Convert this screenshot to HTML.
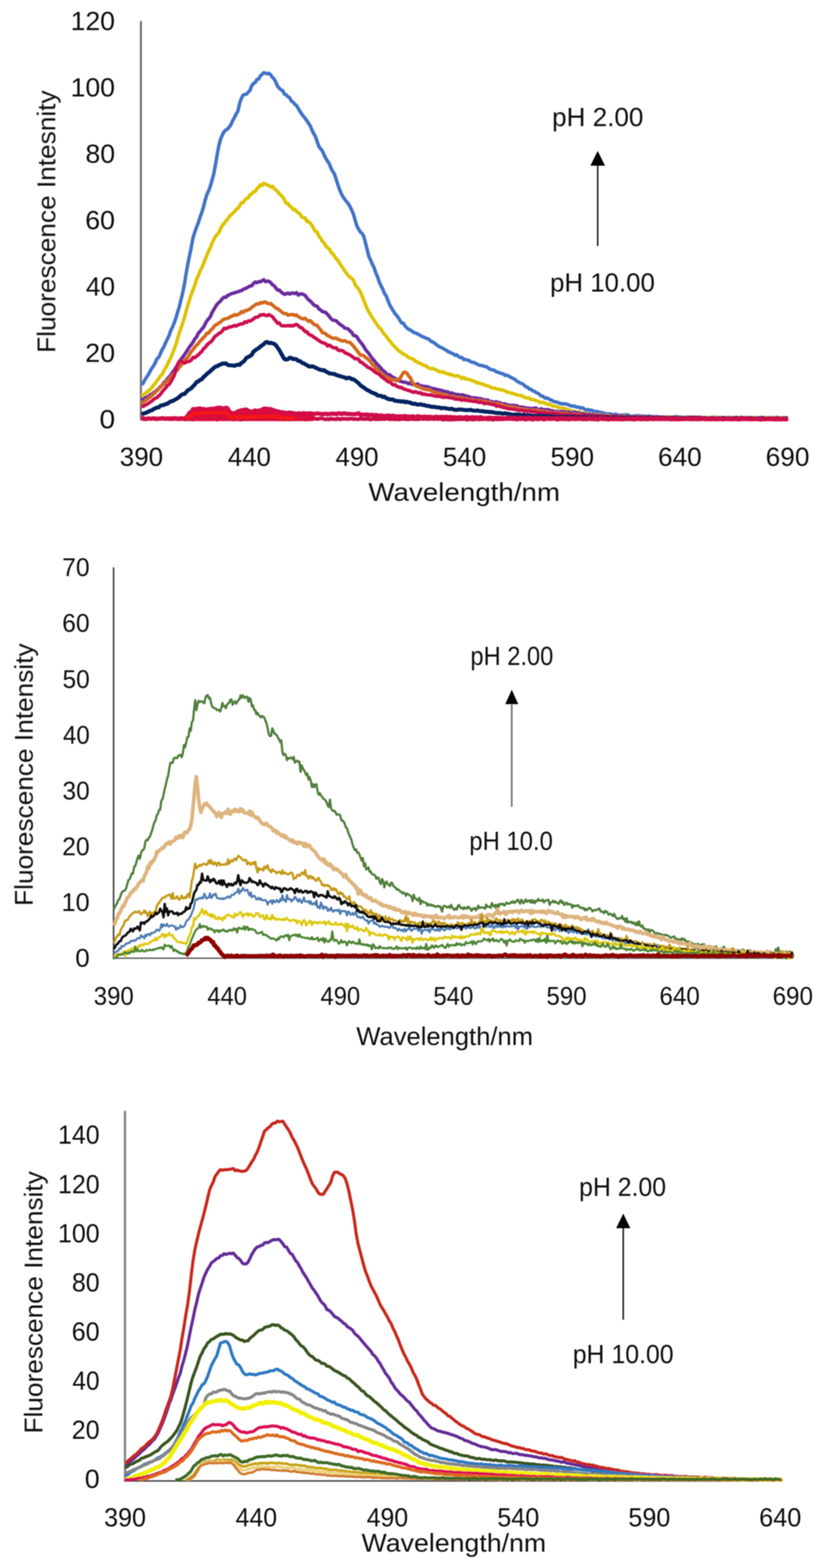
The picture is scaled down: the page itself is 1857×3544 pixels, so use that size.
<!DOCTYPE html><html><head><meta charset="utf-8"><title>Fluorescence spectra</title><style>html,body{margin:0;padding:0;background:#fff;}svg{display:block}text{font-family:"Liberation Sans",Arial,sans-serif;}</style></head><body>
<svg width="1857" height="3544" viewBox="0 0 1857 3544">
<defs><filter id="bl" x="0" y="0" width="100%" height="100%" filterUnits="userSpaceOnUse"><feGaussianBlur stdDeviation="0.9"/></filter></defs>
<rect width="1857" height="3544" fill="#fff"/>
<g filter="url(#bl)">
<line x1="318.3" y1="47.4" x2="318.3" y2="950.2" stroke="#6e6e6e" stroke-width="4.5"/>
<path d="M319.5,869.7 323.4,866.1 327.3,858.4 331.2,852.7 335.1,846.6 339.0,839.5 342.9,832.3 346.8,827.3 350.6,820.1 354.5,811.1 358.4,807.9 362.3,799.4 366.2,790.4 370.1,784.3 374.0,774.9 377.9,766.9 381.8,758.8 385.7,747.5 389.6,739.4 393.5,729.9 397.4,718.7 401.3,705.1 405.2,693.2 409.1,676.3 412.9,661.1 416.8,641.3 420.7,616.7 424.6,595.4 428.5,576.4 432.4,557.0 436.3,536.3 440.2,524.3 444.1,513.4 448.0,503.3 451.9,490.9 455.8,480.4 459.7,467.5 463.6,452.0 467.5,439.5 471.4,431.2 475.2,420.6 479.1,407.0 483.0,392.6 486.9,371.8 490.8,348.5 494.7,327.6 498.6,313.7 502.5,304.7 506.4,297.4 510.3,293.9 514.2,291.4 518.1,287.1 522.0,280.9 525.9,272.4 529.8,265.2 533.6,257.5 537.5,251.2 541.4,233.3 545.3,222.5 549.2,214.7 553.1,213.8 557.0,212.5 560.9,208.3 564.8,204.0 568.7,193.9 572.6,188.5 576.5,186.5 580.4,179.7 584.3,179.0 588.2,171.5 592.1,167.9 595.9,164.3 599.8,165.3 603.7,166.8 607.6,165.6 611.5,169.1 615.4,174.9 619.3,178.2 623.2,185.7 627.1,195.2 631.0,199.4 634.9,203.0 638.8,205.1 642.7,212.9 646.6,214.2 650.5,218.8 654.3,220.8 658.2,228.2 662.1,231.0 666.0,235.6 669.9,238.8 673.8,245.2 677.7,251.6 681.6,257.7 685.5,262.5 689.4,267.7 693.3,273.1 697.2,278.7 701.1,285.0 705.0,294.4 708.9,302.2 712.8,308.8 716.6,320.7 720.5,331.0 724.4,336.4 728.3,341.0 732.2,350.1 736.1,358.2 740.0,364.3 743.9,370.1 747.8,380.2 751.7,387.6 755.6,393.3 759.5,405.5 763.4,417.4 767.3,428.7 771.2,438.1 775.1,444.9 778.9,450.7 782.8,455.4 786.7,460.3 790.6,466.6 794.5,474.8 798.4,483.8 802.3,497.7 806.2,510.5 810.1,517.8 814.0,524.1 817.9,527.6 821.8,534.0 825.7,549.0 829.6,564.8 833.5,580.3 837.3,588.1 841.2,597.1 845.1,605.1 849.0,616.9 852.9,625.6 856.8,637.2 860.7,646.2 864.6,653.4 868.5,663.5 872.4,668.7 876.3,679.0 880.2,688.6 884.1,695.5 888.0,702.0 891.9,708.3 895.8,712.6 899.6,717.7 903.5,724.1 907.4,730.1 911.3,730.4 915.2,737.1 919.1,740.8 923.0,744.4 926.9,745.6 930.8,748.6 934.7,751.5 938.6,752.6 942.5,754.3 946.4,756.4 950.3,758.8 954.2,760.9 958.1,762.2 961.9,764.1 965.8,765.4 969.7,767.5 973.6,771.5 977.5,772.8 981.4,775.2 985.3,778.6 989.2,781.4 993.1,783.9 997.0,785.5 1000.9,787.3 1004.8,789.9 1008.7,791.9 1012.6,795.1 1016.5,796.2 1020.3,798.5 1024.2,799.9 1028.1,803.1 1032.0,801.9 1035.9,805.9 1039.8,808.1 1043.7,808.1 1047.6,812.7 1051.5,812.3 1055.4,813.8 1059.3,814.5 1063.2,817.8 1067.1,818.7 1071.0,819.4 1074.9,821.6 1078.8,823.5 1082.6,825.4 1086.5,826.0 1090.4,826.4 1094.3,828.3 1098.2,828.3 1102.1,831.2 1106.0,834.0 1109.9,835.3 1113.8,836.3 1117.7,837.5 1121.6,840.7 1125.5,841.1 1129.4,843.2 1133.3,844.3 1137.2,845.0 1141.0,848.6 1144.9,847.9 1148.8,849.7 1152.7,852.2 1156.6,854.0 1160.5,856.2 1164.4,858.4 1168.3,862.1 1172.2,863.6 1176.1,866.3 1180.0,867.2 1183.9,870.3 1187.8,874.4 1191.7,874.9 1195.6,879.3 1199.5,879.8 1203.3,883.2 1207.2,884.5 1211.1,887.4 1215.0,888.7 1218.9,891.4 1222.8,895.2 1226.7,895.6 1230.6,899.6 1234.5,899.5 1238.4,900.7 1242.3,903.2 1246.2,904.3 1250.1,907.3 1254.0,907.8 1257.9,909.2 1261.8,909.9 1265.6,912.4 1269.5,912.1 1273.4,912.8 1277.3,912.7 1281.2,913.6 1285.1,915.3 1289.0,916.9 1292.9,918.0 1296.8,917.3 1300.7,919.5 1304.6,920.2 1308.5,920.3 1312.4,922.6 1316.3,921.5 1320.2,924.5 1324.0,927.3 1327.9,925.6 1331.8,927.3 1335.7,926.8 1339.6,928.5 1343.5,930.4 1347.4,929.8 1351.3,931.2 1355.2,931.7 1359.1,932.4 1363.0,933.5 1366.9,934.3 1370.8,935.5 1374.7,935.8 1378.6,935.2 1382.5,937.2 1386.3,937.5 1390.2,935.8 1394.1,937.8 1398.0,938.2 1401.9,938.7 1405.8,938.6 1409.7,937.5 1413.6,938.6 1417.5,937.5 1421.4,939.2 1425.3,941.1 1429.2,940.3 1433.1,940.6 1437.0,939.8 1440.9,939.7 1444.8,939.8 1448.6,940.9 1452.5,940.4 1456.4,940.7 1460.3,942.2 1464.2,940.3 1468.1,940.7 1472.0,941.4 1475.9,941.9 1479.8,942.0 1483.7,941.2 1487.6,942.6 1491.5,942.5 1495.4,943.0 1499.3,942.1 1503.2,943.2 1507.0,943.3 1510.9,942.7 1514.8,943.2 1518.7,943.0 1522.6,944.5 1526.5,941.3 1530.4,942.6 1534.3,942.4 1538.2,943.4 1542.1,943.2 1546.0,943.5 1549.9,944.3 1553.8,942.6 1557.7,943.2 1561.6,943.7 1565.5,943.0 1569.3,944.2 1573.2,944.2 1577.1,943.4 1581.0,942.6 1584.9,945.2 1588.8,944.4 1592.7,944.3 1596.6,944.1 1600.5,944.0 1604.4,944.7 1608.3,944.1 1612.2,943.6 1616.1,944.7 1620.0,944.2 1623.9,943.6 1627.7,943.5 1631.6,945.1 1635.5,944.7 1639.4,945.7 1643.3,943.8 1647.2,943.7 1651.1,944.6 1655.0,945.3 1658.9,944.7 1662.8,944.6 1666.7,945.7 1670.6,943.8 1674.5,943.4 1678.4,943.8 1682.3,944.1 1686.2,944.6 1690.0,945.1 1693.9,944.7 1697.8,945.5 1701.7,943.8 1705.6,945.8 1709.5,943.8 1713.4,945.3 1717.3,943.7 1721.2,944.7 1725.1,944.5 1729.0,944.8 1732.9,945.0 1736.8,944.3 1740.7,944.4 1744.6,944.6 1748.5,943.5 1752.3,943.9 1756.2,943.2 1760.1,944.4 1764.0,946.1 1767.9,945.0 1771.8,943.8 1775.7,943.9 1779.6,945.2" stroke="#3F72C6" stroke-width="7.8" fill="none" stroke-linejoin="round" stroke-linecap="butt"/>
<path d="M319.5,896.0 323.4,892.6 327.3,890.0 331.2,886.7 335.1,883.1 339.0,880.5 342.9,875.9 346.8,870.3 350.6,866.4 354.5,860.9 358.4,855.6 362.3,849.6 366.2,846.3 370.1,838.1 374.0,832.0 377.9,825.0 381.8,816.2 385.7,808.9 389.6,799.4 393.5,788.4 397.4,778.7 401.3,764.8 405.2,752.1 409.1,740.9 412.9,730.0 416.8,716.7 420.7,702.3 424.6,689.1 428.5,676.4 432.4,664.6 436.3,654.5 440.2,644.4 444.1,630.6 448.0,623.4 451.9,612.5 455.8,605.3 459.7,596.4 463.6,585.4 467.5,576.8 471.4,567.3 475.2,560.2 479.1,549.0 483.0,541.5 486.9,534.4 490.8,530.0 494.7,525.2 498.6,516.1 502.5,508.9 506.4,505.3 510.3,499.0 514.2,495.9 518.1,489.1 522.0,485.6 525.9,481.8 529.8,478.3 533.6,473.2 537.5,471.0 541.4,465.2 545.3,458.3 549.2,458.2 553.1,452.5 557.0,448.0 560.9,447.4 564.8,440.2 568.7,438.3 572.6,433.6 576.5,432.7 580.4,426.3 584.3,423.4 588.2,417.7 592.1,419.3 595.9,414.0 599.8,416.6 603.7,417.7 607.6,419.5 611.5,422.7 615.4,421.1 619.3,426.5 623.2,429.3 627.1,432.9 631.0,438.1 634.9,441.4 638.8,445.3 642.7,451.7 646.6,459.2 650.5,460.0 654.3,465.8 658.2,467.8 662.1,473.9 666.0,473.0 669.9,477.6 673.8,480.7 677.7,483.9 681.6,490.1 685.5,492.3 689.4,492.3 693.3,500.8 697.2,500.7 701.1,504.6 705.0,510.0 708.9,517.4 712.8,522.9 716.6,524.7 720.5,533.8 724.4,538.5 728.3,545.4 732.2,549.3 736.1,555.9 740.0,560.2 743.9,562.5 747.8,570.3 751.7,573.4 755.6,579.0 759.5,585.1 763.4,588.3 767.3,595.4 771.2,600.5 775.1,606.1 778.9,612.7 782.8,617.3 786.7,622.5 790.6,626.6 794.5,629.1 798.4,633.0 802.3,643.2 806.2,648.6 810.1,653.2 814.0,659.8 817.9,668.8 821.8,678.7 825.7,688.9 829.6,697.8 833.5,705.5 837.3,711.8 841.2,718.5 845.1,723.8 849.0,729.7 852.9,735.0 856.8,741.0 860.7,743.8 864.6,750.4 868.5,755.6 872.4,759.9 876.3,765.9 880.2,770.0 884.1,775.1 888.0,780.0 891.9,784.2 895.8,787.4 899.6,792.2 903.5,794.5 907.4,797.5 911.3,800.2 915.2,802.0 919.1,804.4 923.0,808.3 926.9,809.6 930.8,810.6 934.7,812.3 938.6,816.6 942.5,817.8 946.4,820.4 950.3,821.9 954.2,823.9 958.1,826.0 961.9,826.8 965.8,829.6 969.7,832.1 973.6,833.4 977.5,832.8 981.4,834.6 985.3,836.0 989.2,838.2 993.1,840.3 997.0,841.0 1000.9,840.3 1004.8,842.9 1008.7,844.5 1012.6,844.4 1016.5,847.3 1020.3,846.1 1024.2,848.6 1028.1,850.6 1032.0,848.6 1035.9,850.4 1039.8,852.3 1043.7,855.6 1047.6,852.8 1051.5,856.0 1055.4,857.0 1059.3,857.8 1063.2,858.8 1067.1,860.4 1071.0,862.0 1074.9,862.6 1078.8,866.3 1082.6,865.5 1086.5,867.3 1090.4,868.5 1094.3,869.9 1098.2,871.6 1102.1,872.1 1106.0,873.7 1109.9,876.4 1113.8,877.1 1117.7,877.2 1121.6,879.2 1125.5,879.1 1129.4,881.0 1133.3,880.8 1137.2,882.1 1141.0,883.5 1144.9,886.2 1148.8,886.6 1152.7,887.9 1156.6,888.8 1160.5,890.1 1164.4,891.2 1168.3,892.7 1172.2,893.4 1176.1,893.7 1180.0,895.0 1183.9,897.7 1187.8,899.1 1191.7,899.6 1195.6,899.2 1199.5,902.8 1203.3,903.1 1207.2,904.0 1211.1,905.3 1215.0,906.2 1218.9,909.0 1222.8,910.1 1226.7,909.2 1230.6,911.1 1234.5,912.6 1238.4,914.4 1242.3,912.8 1246.2,916.4 1250.1,918.1 1254.0,917.8 1257.9,919.1 1261.8,921.2 1265.6,921.7 1269.5,921.7 1273.4,922.9 1277.3,924.1 1281.2,924.9 1285.1,926.9 1289.0,927.4 1292.9,928.7 1296.8,930.0 1300.7,931.5 1304.6,931.1 1308.5,930.3 1312.4,933.3 1316.3,932.9 1320.2,934.4 1324.0,933.9 1327.9,935.0 1331.8,935.3 1335.7,935.9 1339.6,937.3 1343.5,936.5 1347.4,937.5 1351.3,938.0 1355.2,938.0 1359.1,937.1 1363.0,939.2 1366.9,937.3 1370.8,938.5 1374.7,939.5 1378.6,940.4 1382.5,941.0 1386.3,941.2 1390.2,941.3 1394.1,940.9 1398.0,942.2 1401.9,941.4 1405.8,942.6 1409.7,940.5 1413.6,941.6 1417.5,942.0 1421.4,942.5 1425.3,941.0 1429.2,943.3 1433.1,943.5 1437.0,943.5 1440.9,942.6 1444.8,944.0 1448.6,942.7 1452.5,943.7 1456.4,943.1 1460.3,943.1 1464.2,943.1 1468.1,943.2 1472.0,944.0 1475.9,944.3 1479.8,944.3 1483.7,944.0 1487.6,943.8 1491.5,943.7 1495.4,944.6 1499.3,943.2 1503.2,943.1 1507.0,943.6 1510.9,942.4 1514.8,943.4 1518.7,943.6 1522.6,942.9 1526.5,943.3 1530.4,944.2 1534.3,943.6 1538.2,943.8 1542.1,944.5 1546.0,943.4 1549.9,943.0 1553.8,943.8 1557.7,944.1 1561.6,942.6 1565.5,944.3 1569.3,943.7 1573.2,943.7 1577.1,943.4 1581.0,943.9 1584.9,944.7 1588.8,944.4 1592.7,944.6 1596.6,943.8 1600.5,945.2 1604.4,945.0 1608.3,944.1 1612.2,942.3 1616.1,944.2 1620.0,946.0 1623.9,944.1 1627.7,943.5 1631.6,945.4 1635.5,943.8 1639.4,944.6 1643.3,944.8 1647.2,943.2 1651.1,944.3 1655.0,945.1 1658.9,944.1 1662.8,944.7 1666.7,944.3 1670.6,945.0 1674.5,945.6 1678.4,943.6 1682.3,944.1 1686.2,944.6 1690.0,943.9 1693.9,943.8 1697.8,944.1 1701.7,944.2 1705.6,943.9 1709.5,944.6 1713.4,945.0 1717.3,944.9 1721.2,944.9 1725.1,945.2 1729.0,943.5 1732.9,944.3 1736.8,944.6 1740.7,944.8 1744.6,943.3 1748.5,945.7 1752.3,943.8 1756.2,944.6 1760.1,944.9 1764.0,945.2 1767.9,944.0 1771.8,944.1 1775.7,944.7 1779.6,944.8" stroke="#DDC200" stroke-width="7.8" fill="none" stroke-linejoin="round" stroke-linecap="butt"/>
<path d="M319.5,904.6 323.4,902.2 327.3,899.8 331.2,897.2 335.1,897.0 339.0,892.1 342.9,890.9 346.8,887.6 350.6,884.8 354.5,881.7 358.4,878.6 362.3,874.0 366.2,870.7 370.1,864.9 374.0,862.2 377.9,856.6 381.8,852.2 385.7,848.1 389.6,841.7 393.5,837.0 397.4,830.3 401.3,825.3 405.2,819.0 409.1,811.3 412.9,807.1 416.8,801.5 420.7,795.8 424.6,789.6 428.5,783.5 432.4,778.8 436.3,772.7 440.2,766.0 444.1,761.7 448.0,753.0 451.9,749.2 455.8,743.8 459.7,739.7 463.6,732.0 467.5,725.1 471.4,720.6 475.2,715.7 479.1,706.5 483.0,699.8 486.9,693.1 490.8,687.3 494.7,683.5 498.6,679.9 502.5,674.8 506.4,671.6 510.3,672.0 514.2,667.9 518.1,666.1 522.0,664.1 525.9,662.7 529.8,662.1 533.6,660.1 537.5,659.7 541.4,657.9 545.3,657.0 549.2,654.1 553.1,652.5 557.0,651.0 560.9,648.7 564.8,646.5 568.7,645.8 572.6,640.7 576.5,637.5 580.4,639.2 584.3,636.4 588.2,637.2 592.1,634.3 595.9,632.2 599.8,636.7 603.7,635.2 607.6,636.1 611.5,638.5 615.4,643.6 619.3,645.7 623.2,651.0 627.1,655.7 631.0,655.7 634.9,659.8 638.8,662.8 642.7,665.1 646.6,664.1 650.5,662.4 654.3,664.8 658.2,662.5 662.1,662.7 666.0,663.4 669.9,661.5 673.8,666.9 677.7,664.5 681.6,664.3 685.5,665.5 689.4,667.8 693.3,673.3 697.2,677.8 701.1,680.5 705.0,684.7 708.9,689.1 712.8,691.4 716.6,692.2 720.5,698.2 724.4,700.6 728.3,704.1 732.2,705.3 736.1,706.6 740.0,710.5 743.9,715.3 747.8,720.2 751.7,723.5 755.6,724.1 759.5,725.0 763.4,729.0 767.3,732.6 771.2,735.3 775.1,737.7 778.9,741.8 782.8,742.1 786.7,743.6 790.6,748.0 794.5,750.9 798.4,757.8 802.3,758.8 806.2,761.3 810.1,767.7 814.0,773.0 817.9,777.4 821.8,783.2 825.7,789.8 829.6,794.9 833.5,799.1 837.3,805.2 841.2,810.3 845.1,814.5 849.0,819.8 852.9,824.2 856.8,827.9 860.7,832.3 864.6,836.9 868.5,839.5 872.4,844.2 876.3,847.0 880.2,846.8 884.1,850.9 888.0,852.6 891.9,854.8 895.8,857.4 899.6,859.0 903.5,861.2 907.4,862.4 911.3,863.7 915.2,863.8 919.1,865.1 923.0,867.3 926.9,864.9 930.8,869.0 934.7,867.9 938.6,869.9 942.5,867.6 946.4,870.1 950.3,872.0 954.2,872.3 958.1,873.9 961.9,873.3 965.8,874.5 969.7,875.4 973.6,877.3 977.5,878.2 981.4,878.8 985.3,879.7 989.2,880.6 993.1,881.9 997.0,882.1 1000.9,883.8 1004.8,884.7 1008.7,885.3 1012.6,886.2 1016.5,888.7 1020.3,888.0 1024.2,889.6 1028.1,891.2 1032.0,891.6 1035.9,891.8 1039.8,893.4 1043.7,892.4 1047.6,893.3 1051.5,894.7 1055.4,895.6 1059.3,896.5 1063.2,898.7 1067.1,899.3 1071.0,898.9 1074.9,899.8 1078.8,899.8 1082.6,901.4 1086.5,901.0 1090.4,903.7 1094.3,903.1 1098.2,904.7 1102.1,904.2 1106.0,906.9 1109.9,907.2 1113.8,909.0 1117.7,908.6 1121.6,908.2 1125.5,909.7 1129.4,910.2 1133.3,913.0 1137.2,912.3 1141.0,913.1 1144.9,914.8 1148.8,915.4 1152.7,916.3 1156.6,916.3 1160.5,916.0 1164.4,917.1 1168.3,917.1 1172.2,920.1 1176.1,920.4 1180.0,920.1 1183.9,921.3 1187.8,921.8 1191.7,922.3 1195.6,922.7 1199.5,923.4 1203.3,923.4 1207.2,922.3 1211.1,922.4 1215.0,925.5 1218.9,925.5 1222.8,923.9 1226.7,926.1 1230.6,925.8 1234.5,926.5 1238.4,925.5 1242.3,928.1 1246.2,928.0 1250.1,929.0 1254.0,929.5 1257.9,930.0 1261.8,930.6 1265.6,930.1 1269.5,930.4 1273.4,930.3 1277.3,931.4 1281.2,931.3 1285.1,931.0 1289.0,932.9 1292.9,933.0 1296.8,931.1 1300.7,932.0 1304.6,933.5 1308.5,933.1 1312.4,935.1 1316.3,934.9 1320.2,935.5 1324.0,936.1 1327.9,936.8 1331.8,936.1 1335.7,937.1 1339.6,937.2 1343.5,937.9 1347.4,938.1 1351.3,939.0 1355.2,938.8 1359.1,938.4 1363.0,939.1 1366.9,938.6 1370.8,939.8 1374.7,940.8 1378.6,939.7 1382.5,939.3 1386.3,940.5 1390.2,940.4 1394.1,940.9 1398.0,940.6 1401.9,941.2 1405.8,940.7 1409.7,942.4 1413.6,941.5 1417.5,942.1 1421.4,942.4 1425.3,941.9 1429.2,942.5 1433.1,942.2 1437.0,942.2 1440.9,942.4 1444.8,943.0 1448.6,942.0 1452.5,942.4 1456.4,942.5 1460.3,942.8 1464.2,944.0 1468.1,943.3 1472.0,943.3 1475.9,943.6 1479.8,944.3 1483.7,943.3 1487.6,944.4 1491.5,942.4 1495.4,943.4 1499.3,944.9 1503.2,945.1 1507.0,944.3 1510.9,943.9 1514.8,944.8 1518.7,944.1 1522.6,945.3 1526.5,945.1 1530.4,944.9 1534.3,943.9 1538.2,945.1 1542.1,944.4 1546.0,944.4 1549.9,944.3 1553.8,944.5 1557.7,944.9 1561.6,945.1 1565.5,945.2 1569.3,946.8 1573.2,944.5 1577.1,945.4 1581.0,944.3 1584.9,944.6 1588.8,944.0 1592.7,945.5 1596.6,945.0 1600.5,944.9 1604.4,944.8 1608.3,945.4 1612.2,944.6 1616.1,945.1 1620.0,946.5 1623.9,944.8 1627.7,944.6 1631.6,944.3 1635.5,945.5 1639.4,945.0 1643.3,944.5 1647.2,944.5 1651.1,945.0 1655.0,944.4 1658.9,946.3 1662.8,944.9 1666.7,945.0 1670.6,945.0 1674.5,944.0 1678.4,944.2 1682.3,944.9 1686.2,945.1 1690.0,944.4 1693.9,946.2 1697.8,945.4 1701.7,946.0 1705.6,945.9 1709.5,945.0 1713.4,946.7 1717.3,945.3 1721.2,944.0 1725.1,943.8 1729.0,945.2 1732.9,945.8 1736.8,945.3 1740.7,946.3 1744.6,945.0 1748.5,945.6 1752.3,945.7 1756.2,944.6 1760.1,945.4 1764.0,945.5 1767.9,945.9 1771.8,946.0 1775.7,945.9 1779.6,944.8" stroke="#6A2C9E" stroke-width="7.8" fill="none" stroke-linejoin="round" stroke-linecap="butt"/>
<path d="M319.5,912.0 323.4,909.5 327.3,905.9 331.2,903.5 335.1,900.4 339.0,897.6 342.9,893.5 346.8,890.4 350.6,886.7 354.5,883.1 358.4,878.9 362.3,875.4 366.2,871.0 370.1,867.9 374.0,864.7 377.9,860.6 381.8,856.7 385.7,851.9 389.6,849.0 393.5,843.2 397.4,840.0 401.3,835.4 405.2,829.9 409.1,825.2 412.9,821.5 416.8,815.5 420.7,810.3 424.6,807.8 428.5,799.9 432.4,794.3 436.3,790.1 440.2,784.2 444.1,780.3 448.0,776.6 451.9,770.9 455.8,767.5 459.7,763.0 463.6,759.2 467.5,752.9 471.4,753.0 475.2,746.9 479.1,743.9 483.0,738.4 486.9,734.7 490.8,733.0 494.7,729.6 498.6,728.0 502.5,723.5 506.4,721.1 510.3,720.7 514.2,719.3 518.1,717.8 522.0,715.0 525.9,713.9 529.8,711.1 533.6,712.4 537.5,710.8 541.4,709.4 545.3,704.4 549.2,706.1 553.1,702.3 557.0,702.0 560.9,699.8 564.8,698.6 568.7,694.5 572.6,692.0 576.5,689.0 580.4,686.8 584.3,687.4 588.2,684.0 592.1,685.0 595.9,682.9 599.8,682.6 603.7,685.3 607.6,686.5 611.5,686.0 615.4,689.5 619.3,692.5 623.2,696.3 627.1,697.5 631.0,700.7 634.9,703.8 638.8,707.0 642.7,709.0 646.6,708.4 650.5,712.4 654.3,711.7 658.2,711.0 662.1,710.8 666.0,713.0 669.9,711.6 673.8,715.9 677.7,717.7 681.6,720.0 685.5,720.6 689.4,719.5 693.3,723.1 697.2,726.3 701.1,724.8 705.0,728.7 708.9,732.8 712.8,734.6 716.6,735.4 720.5,740.9 724.4,745.5 728.3,751.9 732.2,752.5 736.1,754.9 740.0,758.4 743.9,760.3 747.8,762.3 751.7,764.8 755.6,764.4 759.5,764.3 763.4,767.1 767.3,768.2 771.2,770.1 775.1,770.8 778.9,769.8 782.8,772.3 786.7,773.7 790.6,773.9 794.5,778.1 798.4,782.0 802.3,787.4 806.2,792.1 810.1,797.0 814.0,802.4 817.9,802.7 821.8,804.1 825.7,807.9 829.6,810.4 833.5,814.4 837.3,817.5 841.2,824.1 845.1,826.8 849.0,832.4 852.9,834.6 856.8,839.5 860.7,845.6 864.6,845.9 868.5,850.4 872.4,851.1 876.3,855.8 880.2,855.1 884.1,857.7 888.0,858.9 891.9,858.2 895.8,861.2 899.6,856.9 903.5,855.8 907.4,848.9 911.3,842.1 915.2,841.1 919.1,843.2 923.0,849.5 926.9,853.4 930.8,862.3 934.7,867.7 938.6,871.1 942.5,873.5 946.4,874.2 950.3,876.0 954.2,878.0 958.1,879.6 961.9,879.4 965.8,881.2 969.7,880.2 973.6,882.9 977.5,885.2 981.4,886.1 985.3,887.1 989.2,889.6 993.1,889.3 997.0,889.7 1000.9,891.7 1004.8,892.7 1008.7,892.6 1012.6,895.1 1016.5,896.5 1020.3,895.6 1024.2,896.2 1028.1,897.5 1032.0,899.2 1035.9,898.5 1039.8,898.9 1043.7,899.6 1047.6,900.8 1051.5,901.4 1055.4,901.6 1059.3,903.2 1063.2,904.5 1067.1,902.9 1071.0,904.6 1074.9,904.6 1078.8,907.1 1082.6,904.9 1086.5,905.9 1090.4,906.8 1094.3,906.3 1098.2,907.9 1102.1,909.3 1106.0,908.5 1109.9,910.4 1113.8,912.4 1117.7,911.5 1121.6,912.2 1125.5,911.9 1129.4,914.5 1133.3,914.3 1137.2,916.7 1141.0,918.3 1144.9,918.4 1148.8,918.3 1152.7,920.1 1156.6,920.1 1160.5,920.3 1164.4,921.4 1168.3,922.6 1172.2,922.7 1176.1,923.9 1180.0,925.5 1183.9,925.1 1187.8,925.7 1191.7,925.3 1195.6,927.1 1199.5,927.0 1203.3,927.9 1207.2,927.2 1211.1,928.4 1215.0,927.1 1218.9,928.9 1222.8,929.1 1226.7,929.4 1230.6,931.6 1234.5,929.9 1238.4,931.2 1242.3,931.7 1246.2,932.5 1250.1,933.2 1254.0,931.9 1257.9,932.9 1261.8,933.2 1265.6,934.5 1269.5,935.0 1273.4,934.4 1277.3,934.7 1281.2,934.7 1285.1,935.9 1289.0,937.0 1292.9,936.4 1296.8,936.0 1300.7,936.2 1304.6,936.6 1308.5,936.2 1312.4,938.6 1316.3,937.8 1320.2,937.8 1324.0,939.7 1327.9,938.7 1331.8,939.7 1335.7,939.2 1339.6,939.9 1343.5,939.5 1347.4,939.4 1351.3,940.1 1355.2,940.5 1359.1,940.9 1363.0,940.5 1366.9,940.4 1370.8,940.5 1374.7,941.1 1378.6,940.7 1382.5,941.0 1386.3,941.7 1390.2,941.8 1394.1,941.9 1398.0,941.2 1401.9,940.9 1405.8,942.1 1409.7,942.1 1413.6,941.9 1417.5,942.4 1421.4,942.9 1425.3,942.3 1429.2,942.8 1433.1,942.1 1437.0,942.6 1440.9,942.4 1444.8,942.1 1448.6,943.3 1452.5,941.4 1456.4,943.2 1460.3,943.8 1464.2,943.7 1468.1,942.5 1472.0,943.7 1475.9,942.5 1479.8,943.2 1483.7,944.7 1487.6,944.0 1491.5,944.7 1495.4,943.3 1499.3,942.8 1503.2,943.7 1507.0,945.0 1510.9,944.8 1514.8,944.9 1518.7,944.2 1522.6,944.3 1526.5,944.3 1530.4,946.2 1534.3,944.5 1538.2,945.6 1542.1,944.4 1546.0,945.4 1549.9,943.9 1553.8,944.2 1557.7,944.8 1561.6,944.2 1565.5,944.4 1569.3,944.5 1573.2,944.3 1577.1,945.6 1581.0,945.4 1584.9,943.8 1588.8,945.8 1592.7,944.7 1596.6,944.7 1600.5,944.7 1604.4,945.3 1608.3,945.3 1612.2,944.5 1616.1,944.9 1620.0,944.1 1623.9,946.0 1627.7,944.4 1631.6,944.4 1635.5,944.5 1639.4,945.0 1643.3,945.4 1647.2,944.8 1651.1,945.0 1655.0,944.8 1658.9,945.8 1662.8,945.2 1666.7,944.0 1670.6,946.0 1674.5,945.3 1678.4,946.3 1682.3,944.7 1686.2,944.8 1690.0,945.0 1693.9,944.2 1697.8,944.9 1701.7,945.9 1705.6,945.6 1709.5,943.7 1713.4,946.0 1717.3,945.4 1721.2,945.7 1725.1,945.2 1729.0,945.3 1732.9,945.2 1736.8,945.2 1740.7,944.6 1744.6,945.8 1748.5,945.3 1752.3,945.4 1756.2,945.4 1760.1,945.0 1764.0,945.2 1767.9,944.4 1771.8,945.4 1775.7,945.4 1779.6,945.1" stroke="#D2681A" stroke-width="7.8" fill="none" stroke-linejoin="round" stroke-linecap="butt"/>
<path d="M319.5,917.7 323.4,918.7 327.3,916.1 331.2,914.3 335.1,911.8 339.0,909.1 342.9,906.5 346.8,902.9 350.6,900.1 354.5,898.8 358.4,894.6 362.3,891.6 366.2,885.8 370.1,880.9 374.0,877.1 377.9,871.2 381.8,869.1 385.7,863.4 389.6,856.0 393.5,848.9 397.4,837.0 401.3,823.5 405.2,816.5 409.1,815.3 412.9,818.6 416.8,820.5 420.7,818.3 424.6,817.3 428.5,816.4 432.4,813.6 436.3,807.7 440.2,808.5 444.1,805.0 448.0,802.2 451.9,797.7 455.8,794.5 459.7,788.3 463.6,785.2 467.5,779.9 471.4,776.1 475.2,773.6 479.1,769.9 483.0,763.8 486.9,759.3 490.8,757.0 494.7,753.2 498.6,751.9 502.5,747.7 506.4,741.9 510.3,743.1 514.2,741.0 518.1,738.9 522.0,738.8 525.9,737.4 529.8,735.7 533.6,737.0 537.5,734.4 541.4,733.3 545.3,731.8 549.2,731.9 553.1,727.5 557.0,728.9 560.9,725.3 564.8,725.7 568.7,723.8 572.6,720.7 576.5,717.6 580.4,716.9 584.3,715.4 588.2,711.6 592.1,712.0 595.9,710.7 599.8,713.0 603.7,713.4 607.6,711.1 611.5,713.5 615.4,715.4 619.3,721.0 623.2,725.5 627.1,730.5 631.0,729.9 634.9,735.6 638.8,736.3 642.7,736.4 646.6,736.7 650.5,735.8 654.3,736.8 658.2,735.7 662.1,736.8 666.0,734.4 669.9,733.2 673.8,735.9 677.7,740.0 681.6,740.7 685.5,744.8 689.4,749.5 693.3,749.9 697.2,755.1 701.1,757.2 705.0,758.8 708.9,762.2 712.8,764.4 716.6,767.2 720.5,769.8 724.4,772.5 728.3,774.5 732.2,775.6 736.1,777.0 740.0,782.0 743.9,779.9 747.8,782.4 751.7,785.3 755.6,786.5 759.5,786.1 763.4,790.8 767.3,792.4 771.2,792.0 775.1,793.1 778.9,797.2 782.8,798.5 786.7,800.6 790.6,802.3 794.5,804.8 798.4,807.9 802.3,811.0 806.2,810.3 810.1,812.5 814.0,818.4 817.9,819.1 821.8,823.3 825.7,825.3 829.6,829.1 833.5,831.4 837.3,833.0 841.2,835.8 845.1,839.1 849.0,842.3 852.9,843.8 856.8,845.9 860.7,850.4 864.6,853.3 868.5,856.6 872.4,858.9 876.3,862.9 880.2,863.1 884.1,866.3 888.0,869.8 891.9,869.6 895.8,872.7 899.6,874.3 903.5,875.9 907.4,875.6 911.3,879.2 915.2,879.9 919.1,881.5 923.0,882.6 926.9,883.5 930.8,885.6 934.7,886.8 938.6,885.2 942.5,887.0 946.4,888.4 950.3,887.6 954.2,891.2 958.1,890.2 961.9,891.9 965.8,892.3 969.7,892.6 973.6,892.6 977.5,893.7 981.4,894.6 985.3,895.6 989.2,895.4 993.1,895.8 997.0,896.4 1000.9,898.2 1004.8,897.9 1008.7,897.7 1012.6,897.8 1016.5,899.0 1020.3,899.2 1024.2,900.2 1028.1,902.1 1032.0,902.2 1035.9,902.4 1039.8,903.1 1043.7,904.6 1047.6,903.1 1051.5,904.8 1055.4,904.9 1059.3,905.7 1063.2,906.2 1067.1,906.5 1071.0,907.7 1074.9,906.4 1078.8,908.8 1082.6,909.7 1086.5,909.1 1090.4,909.7 1094.3,912.5 1098.2,911.1 1102.1,912.2 1106.0,912.7 1109.9,913.7 1113.8,914.5 1117.7,914.3 1121.6,918.3 1125.5,917.1 1129.4,918.7 1133.3,919.3 1137.2,921.2 1141.0,921.6 1144.9,922.7 1148.8,923.6 1152.7,924.1 1156.6,924.3 1160.5,925.6 1164.4,924.5 1168.3,926.8 1172.2,927.2 1176.1,927.4 1180.0,926.8 1183.9,929.1 1187.8,928.2 1191.7,929.5 1195.6,928.3 1199.5,929.9 1203.3,930.0 1207.2,930.3 1211.1,930.8 1215.0,932.8 1218.9,932.0 1222.8,932.7 1226.7,934.2 1230.6,932.3 1234.5,934.5 1238.4,933.6 1242.3,933.8 1246.2,934.3 1250.1,933.7 1254.0,934.2 1257.9,934.7 1261.8,935.4 1265.6,936.5 1269.5,937.0 1273.4,936.3 1277.3,937.0 1281.2,937.3 1285.1,937.1 1289.0,937.6 1292.9,937.3 1296.8,938.3 1300.7,938.0 1304.6,938.3 1308.5,938.7 1312.4,938.8 1316.3,938.4 1320.2,938.2 1324.0,939.2 1327.9,939.1 1331.8,939.3 1335.7,939.7 1339.6,939.5 1343.5,940.4 1347.4,940.6 1351.3,939.9 1355.2,940.9 1359.1,940.2 1363.0,941.4 1366.9,941.5 1370.8,941.2 1374.7,941.9 1378.6,942.2 1382.5,941.9 1386.3,940.6 1390.2,942.0 1394.1,942.1 1398.0,942.6 1401.9,941.6 1405.8,942.8 1409.7,942.6 1413.6,942.8 1417.5,941.8 1421.4,942.1 1425.3,943.5 1429.2,943.3 1433.1,942.8 1437.0,943.6 1440.9,943.1 1444.8,942.8 1448.6,942.1 1452.5,943.7 1456.4,943.1 1460.3,943.4 1464.2,942.1 1468.1,943.0 1472.0,943.5 1475.9,943.2 1479.8,943.0 1483.7,942.8 1487.6,943.6 1491.5,943.3 1495.4,943.4 1499.3,943.5 1503.2,943.3 1507.0,943.5 1510.9,943.4 1514.8,943.8 1518.7,943.0 1522.6,943.2 1526.5,943.9 1530.4,943.8 1534.3,944.1 1538.2,945.3 1542.1,944.5 1546.0,944.8 1549.9,944.4 1553.8,944.1 1557.7,943.7 1561.6,943.1 1565.5,943.4 1569.3,942.9 1573.2,943.6 1577.1,943.4 1581.0,943.8 1584.9,944.4 1588.8,944.2 1592.7,945.0 1596.6,945.1 1600.5,945.2 1604.4,945.1 1608.3,944.7 1612.2,944.3 1616.1,944.9 1620.0,944.5 1623.9,944.6 1627.7,945.0 1631.6,944.1 1635.5,943.8 1639.4,945.0 1643.3,945.9 1647.2,945.5 1651.1,947.1 1655.0,944.0 1658.9,944.5 1662.8,943.5 1666.7,944.4 1670.6,946.1 1674.5,945.9 1678.4,944.4 1682.3,944.8 1686.2,944.5 1690.0,944.2 1693.9,944.9 1697.8,944.9 1701.7,945.1 1705.6,945.2 1709.5,945.5 1713.4,945.9 1717.3,945.1 1721.2,945.0 1725.1,945.1 1729.0,945.4 1732.9,945.1 1736.8,944.6 1740.7,944.8 1744.6,945.6 1748.5,944.5 1752.3,945.7 1756.2,944.3 1760.1,945.6 1764.0,945.6 1767.9,945.1 1771.8,945.2 1775.7,945.1 1779.6,946.2" stroke="#CC0A50" stroke-width="7.8" fill="none" stroke-linejoin="round" stroke-linecap="butt"/>
<path d="M319.5,936.7 323.4,934.8 327.3,933.8 331.2,932.6 335.1,930.4 339.0,928.5 342.9,927.5 346.8,924.7 350.6,923.0 354.5,921.0 358.4,920.9 362.3,917.1 366.2,916.0 370.1,915.3 374.0,913.6 377.9,912.7 381.8,909.9 385.7,907.3 389.6,906.6 393.5,904.2 397.4,902.1 401.3,899.8 405.2,897.0 409.1,893.1 412.9,890.9 416.8,890.5 420.7,886.3 424.6,881.8 428.5,880.0 432.4,877.1 436.3,873.0 440.2,869.0 444.1,863.4 448.0,862.0 451.9,858.7 455.8,857.2 459.7,852.4 463.6,848.9 467.5,845.1 471.4,841.9 475.2,838.9 479.1,835.0 483.0,831.7 486.9,828.6 490.8,827.6 494.7,825.2 498.6,823.8 502.5,821.6 506.4,822.0 510.3,821.2 514.2,824.6 518.1,825.6 522.0,825.7 525.9,825.9 529.8,826.9 533.6,825.0 537.5,824.3 541.4,824.9 545.3,820.2 549.2,818.1 553.1,814.0 557.0,808.5 560.9,806.7 564.8,804.7 568.7,802.1 572.6,794.7 576.5,792.0 580.4,789.1 584.3,786.9 588.2,783.3 592.1,780.5 595.9,778.0 599.8,773.9 603.7,772.9 607.6,775.5 611.5,774.7 615.4,776.0 619.3,777.3 623.2,779.9 627.1,785.7 631.0,791.3 634.9,798.4 638.8,805.5 642.7,811.6 646.6,812.7 650.5,811.9 654.3,808.5 658.2,809.1 662.1,811.6 666.0,811.3 669.9,812.2 673.8,815.8 677.7,816.0 681.6,819.5 685.5,821.0 689.4,823.1 693.3,825.3 697.2,828.0 701.1,828.5 705.0,827.8 708.9,828.9 712.8,831.1 716.6,832.6 720.5,834.8 724.4,835.6 728.3,837.1 732.2,836.6 736.1,839.6 740.0,841.5 743.9,843.9 747.8,844.4 751.7,845.1 755.6,845.2 759.5,847.5 763.4,848.8 767.3,849.8 771.2,851.0 775.1,852.2 778.9,853.1 782.8,855.5 786.7,853.6 790.6,854.1 794.5,857.1 798.4,857.1 802.3,860.0 806.2,863.1 810.1,866.0 814.0,870.7 817.9,873.5 821.8,875.8 825.7,878.9 829.6,881.6 833.5,883.0 837.3,885.8 841.2,887.4 845.1,889.1 849.0,890.5 852.9,893.9 856.8,894.4 860.7,894.6 864.6,897.4 868.5,896.5 872.4,899.8 876.3,901.2 880.2,902.7 884.1,902.8 888.0,903.0 891.9,905.7 895.8,905.9 899.6,906.9 903.5,906.5 907.4,907.9 911.3,906.9 915.2,909.2 919.1,908.1 923.0,909.5 926.9,909.9 930.8,912.3 934.7,912.8 938.6,912.5 942.5,914.4 946.4,914.3 950.3,913.6 954.2,915.3 958.1,915.1 961.9,916.9 965.8,917.7 969.7,917.6 973.6,919.2 977.5,919.9 981.4,919.2 985.3,920.7 989.2,920.8 993.1,921.2 997.0,922.9 1000.9,921.9 1004.8,922.5 1008.7,923.1 1012.6,923.9 1016.5,924.4 1020.3,923.7 1024.2,925.5 1028.1,926.1 1032.0,926.5 1035.9,925.7 1039.8,925.5 1043.7,925.5 1047.6,926.6 1051.5,926.7 1055.4,927.0 1059.3,926.9 1063.2,926.2 1067.1,927.7 1071.0,928.0 1074.9,928.2 1078.8,927.8 1082.6,928.8 1086.5,929.2 1090.4,929.0 1094.3,930.4 1098.2,930.3 1102.1,930.8 1106.0,931.3 1109.9,931.3 1113.8,931.8 1117.7,932.6 1121.6,933.2 1125.5,933.7 1129.4,933.5 1133.3,934.5 1137.2,935.1 1141.0,934.0 1144.9,935.0 1148.8,935.6 1152.7,936.0 1156.6,937.4 1160.5,937.3 1164.4,936.8 1168.3,937.1 1172.2,936.6 1176.1,937.1 1180.0,938.6 1183.9,937.1 1187.8,938.6 1191.7,938.1 1195.6,938.5 1199.5,938.8 1203.3,940.2 1207.2,939.5 1211.1,939.8 1215.0,940.3 1218.9,938.6 1222.8,941.1 1226.7,939.2 1230.6,940.0 1234.5,940.9 1238.4,940.0 1242.3,939.8 1246.2,941.6 1250.1,940.9 1254.0,941.8 1257.9,941.6 1261.8,941.4 1265.6,942.6 1269.5,941.6 1273.4,942.9 1277.3,941.4 1281.2,941.4 1285.1,941.7 1289.0,942.3 1292.9,941.6 1296.8,941.9 1300.7,943.1 1304.6,942.5 1308.5,943.1 1312.4,942.7 1316.3,942.2 1320.2,942.2 1324.0,942.8 1327.9,942.7 1331.8,942.5 1335.7,942.5 1339.6,943.7 1343.5,943.5 1347.4,943.1 1351.3,942.8 1355.2,942.8 1359.1,944.2 1363.0,942.8 1366.9,944.5 1370.8,942.9 1374.7,942.5 1378.6,944.5 1382.5,943.4 1386.3,944.3 1390.2,943.8 1394.1,943.4 1398.0,944.1 1401.9,943.5 1405.8,943.9 1409.7,943.7 1413.6,942.8 1417.5,944.1 1421.4,943.6 1425.3,943.8 1429.2,944.2 1433.1,943.2 1437.0,944.4 1440.9,944.4 1444.8,945.2 1448.6,944.6 1452.5,944.4 1456.4,943.9 1460.3,944.3 1464.2,943.6 1468.1,944.6 1472.0,944.3 1475.9,944.2 1479.8,944.5 1483.7,944.8 1487.6,944.7 1491.5,943.9 1495.4,945.4 1499.3,944.7 1503.2,944.9 1507.0,944.7 1510.9,944.2 1514.8,944.9 1518.7,944.6 1522.6,944.4 1526.5,945.0 1530.4,945.3 1534.3,945.3 1538.2,945.1 1542.1,944.7 1546.0,944.9 1549.9,945.0 1553.8,944.3 1557.7,945.6 1561.6,945.2 1565.5,944.5 1569.3,946.0 1573.2,946.3 1577.1,944.6 1581.0,945.2 1584.9,944.9 1588.8,945.8 1592.7,944.6 1596.6,945.6 1600.5,945.6 1604.4,946.0 1608.3,944.4 1612.2,945.1 1616.1,945.4 1620.0,946.0 1623.9,945.6 1627.7,946.0 1631.6,945.8 1635.5,945.1 1639.4,945.5 1643.3,945.4 1647.2,945.5 1651.1,945.2 1655.0,946.1 1658.9,945.9 1662.8,944.7 1666.7,946.1 1670.6,945.4 1674.5,944.9 1678.4,946.4 1682.3,945.8 1686.2,946.0 1690.0,945.7 1693.9,945.8 1697.8,944.8 1701.7,946.2 1705.6,945.4 1709.5,945.9 1713.4,945.8 1717.3,945.3 1721.2,945.2 1725.1,945.8 1729.0,946.6 1732.9,945.5 1736.8,945.6 1740.7,946.0 1744.6,945.6 1748.5,946.6 1752.3,946.2 1756.2,947.3 1760.1,946.0 1764.0,947.1 1767.9,945.6 1771.8,946.1 1775.7,945.4 1779.6,945.7" stroke="#06205E" stroke-width="9.0" fill="none" stroke-linejoin="round" stroke-linecap="butt"/>
<path d="M319.5,946.4 323.4,947.1 327.3,947.7 331.2,946.5 335.1,945.6 339.0,946.7 342.9,946.6 346.8,946.3 350.6,947.3 354.5,947.5 358.4,946.2 362.3,946.2 366.2,944.8 370.1,946.2 374.0,947.3 377.9,946.0 381.8,947.4 385.7,947.2 389.6,947.2 393.5,947.2 397.4,946.7 401.3,947.5 405.2,947.5 409.1,947.0 412.9,946.7 416.8,947.7 420.7,947.8 424.6,946.3 428.5,947.4 432.4,946.8 436.3,948.5 440.2,946.5 444.1,946.3 448.0,946.0 451.9,947.4 455.8,945.9 459.7,947.2 463.6,946.3 467.5,947.7 471.4,947.9 475.2,947.6 479.1,945.3 483.0,945.6 486.9,944.7 490.8,948.7 494.7,946.3 498.6,946.4 502.5,946.8 506.4,947.2 510.3,946.5 514.2,946.8 518.1,946.7 522.0,945.8 525.9,948.1 529.8,948.0 533.6,946.8 537.5,946.6 541.4,948.1 545.3,948.6 549.2,946.8 553.1,947.2 557.0,946.4 560.9,947.0 564.8,944.8 568.7,945.1 572.6,947.1 576.5,946.6 580.4,947.0 584.3,946.8 588.2,947.2 592.1,946.9 595.9,946.6 599.8,947.1 603.7,946.3 607.6,947.8 611.5,946.0 615.4,946.5 619.3,947.4 623.2,946.5 627.1,947.5 631.0,947.9 634.9,947.4 638.8,946.4 642.7,948.2 646.6,947.1 650.5,946.1 654.3,948.3 658.2,946.9 662.1,947.3 666.0,947.5 669.9,946.4 673.8,947.5 677.7,945.9 681.6,946.1 685.5,946.5 689.4,948.4 693.3,947.3 697.2,947.7 701.1,946.5 705.0,947.2 708.9,945.3 712.8,946.7 716.6,947.2 720.5,946.5 724.4,945.5 728.3,945.7 732.2,947.4 736.1,947.9 740.0,946.6 743.9,948.1 747.8,946.0 751.7,947.4 755.6,947.1 759.5,947.7 763.4,945.9 767.3,947.7 771.2,947.0 775.1,946.4 778.9,946.7 782.8,946.8 786.7,947.2 790.6,946.4 794.5,946.4 798.4,947.1 802.3,947.0 806.2,947.4 810.1,947.6 814.0,945.8 817.9,947.0 821.8,947.2 825.7,947.1 829.6,946.3 833.5,947.5 837.3,948.2 841.2,947.0 845.1,946.6 849.0,947.6 852.9,947.1 856.8,947.2 860.7,947.3 864.6,946.8 868.5,947.1 872.4,946.7 876.3,945.9 880.2,947.8 884.1,947.3 888.0,947.1 891.9,948.0 895.8,947.1 899.6,947.9 903.5,947.7 907.4,947.0 911.3,946.5 915.2,947.5 919.1,947.4 923.0,947.9 926.9,946.3 930.8,947.2 934.7,947.4 938.6,947.5 942.5,947.4 946.4,947.5 950.3,945.9 954.2,947.1 958.1,946.9 961.9,946.4 965.8,947.4 969.7,947.1 973.6,946.7 977.5,946.6 981.4,947.5 985.3,945.9 989.2,947.3 993.1,946.7 997.0,947.5 1000.9,948.5 1004.8,948.0 1008.7,947.4 1012.6,948.3 1016.5,948.5 1020.3,948.0 1024.2,948.5 1028.1,947.6 1032.0,947.8 1035.9,947.4 1039.8,947.2 1043.7,947.5 1047.6,947.0 1051.5,947.4 1055.4,948.7 1059.3,947.9 1063.2,947.4 1067.1,948.4 1071.0,948.3 1074.9,946.9 1078.8,947.1 1082.6,948.4 1086.5,947.5 1090.4,947.6 1094.3,947.2 1098.2,946.9 1102.1,948.1 1106.0,947.1 1109.9,947.8 1113.8,948.5 1117.7,947.8 1121.6,947.4 1125.5,947.9 1129.4,947.8 1133.3,947.3 1137.2,947.7 1141.0,946.9 1144.9,946.6 1148.8,947.3 1152.7,946.6 1156.6,947.2 1160.5,947.5 1164.4,947.6 1168.3,948.5 1172.2,947.1 1176.1,947.3 1180.0,947.3 1183.9,947.0 1187.8,948.6 1191.7,947.2 1195.6,947.4 1199.5,947.5 1203.3,948.8 1207.2,947.4 1211.1,947.2 1215.0,948.2 1218.9,947.2 1222.8,946.5 1226.7,948.2 1230.6,948.1 1234.5,946.9 1238.4,947.0 1242.3,947.6 1246.2,947.1 1250.1,946.8 1254.0,947.0 1257.9,948.5 1261.8,948.2 1265.6,947.1 1269.5,947.5 1273.4,947.7 1277.3,947.4 1281.2,947.6 1285.1,948.5 1289.0,947.3 1292.9,947.2 1296.8,947.6 1300.7,947.3 1304.6,947.4 1308.5,947.4 1312.4,947.1 1316.3,948.2 1320.2,947.3 1324.0,948.3 1327.9,947.2 1331.8,947.2 1335.7,947.8 1339.6,947.5 1343.5,948.1 1347.4,948.0 1351.3,948.8 1355.2,946.2 1359.1,947.1 1363.0,947.6 1366.9,947.6 1370.8,947.6 1374.7,948.9 1378.6,946.6 1382.5,948.0 1386.3,947.6 1390.2,947.7 1394.1,948.2 1398.0,947.6 1401.9,948.1 1405.8,948.3 1409.7,948.3 1413.6,946.8 1417.5,947.4 1421.4,947.1 1425.3,947.3 1429.2,947.6 1433.1,948.7 1437.0,947.4 1440.9,947.6 1444.8,947.6 1448.6,948.4 1452.5,947.4 1456.4,947.9 1460.3,948.1 1464.2,948.0 1468.1,946.7 1472.0,947.1 1475.9,948.0 1479.8,946.9 1483.7,947.6 1487.6,947.0 1491.5,947.9 1495.4,947.7 1499.3,947.0 1503.2,947.6 1507.0,947.2 1510.9,947.4 1514.8,948.3 1518.7,947.8 1522.6,947.9 1526.5,948.4 1530.4,947.8 1534.3,948.3 1538.2,947.9 1542.1,947.8 1546.0,947.6 1549.9,947.3 1553.8,947.2 1557.7,947.3 1561.6,948.0 1565.5,947.9 1569.3,947.3 1573.2,948.3 1577.1,947.4 1581.0,947.6 1584.9,947.1 1588.8,947.4 1592.7,948.1 1596.6,947.9 1600.5,947.5 1604.4,948.3 1608.3,947.7 1612.2,947.8 1616.1,948.2 1620.0,948.0 1623.9,947.6 1627.7,947.3 1631.6,948.3 1635.5,946.7 1639.4,947.5 1643.3,947.0 1647.2,947.5 1651.1,948.1 1655.0,947.6 1658.9,947.6 1662.8,947.7 1666.7,948.6 1670.6,948.4 1674.5,947.9 1678.4,947.5 1682.3,947.6 1686.2,947.9 1690.0,947.7 1693.9,947.7 1697.8,947.3 1701.7,947.2 1705.6,947.3 1709.5,947.9 1713.4,947.4 1717.3,948.9 1721.2,948.0 1725.1,948.1 1729.0,948.2 1732.9,947.3 1736.8,947.3 1740.7,947.7 1744.6,948.1 1748.5,948.0 1752.3,948.5 1756.2,948.4 1760.1,948.3 1764.0,948.3 1767.9,947.9 1771.8,948.2 1775.7,947.7 1779.6,947.6" stroke="#C8104A" stroke-width="8.4" fill="none" stroke-linejoin="round" stroke-linecap="butt"/>
<path d="M319.5,946.5 323.4,945.1 327.3,946.7 331.2,946.9 335.1,945.7 339.0,946.4 342.9,946.1 346.8,945.4 350.6,946.2 354.5,946.2 358.4,946.5 362.3,945.8 366.2,946.0 370.1,945.6 374.0,946.4 377.9,945.8 381.8,946.3 385.7,945.5 389.6,945.9 393.5,945.3 397.4,945.4 401.3,946.4 405.2,945.6 409.1,945.6 412.9,946.0 416.8,945.2 420.7,944.4 424.6,938.5 428.5,932.6 432.4,930.8 436.3,924.6 440.2,926.2 444.1,923.9 448.0,924.2 451.9,923.1 455.8,924.9 459.7,924.1 463.6,926.7 467.5,925.4 471.4,924.7 475.2,924.2 479.1,923.8 483.0,924.3 486.9,923.2 490.8,921.9 494.7,921.8 498.6,921.6 502.5,923.6 506.4,923.2 510.3,921.6 514.2,923.1 518.1,930.9 522.0,932.6 525.9,934.8 529.8,934.5 533.6,932.3 537.5,929.8 541.4,929.0 545.3,927.0 549.2,927.3 553.1,925.9 557.0,925.8 560.9,928.3 564.8,930.2 568.7,930.7 572.6,929.3 576.5,927.6 580.4,929.2 584.3,928.1 588.2,927.5 592.1,926.3 595.9,923.8 599.8,923.5 603.7,924.2 607.6,924.4 611.5,924.7 615.4,926.8 619.3,927.3 623.2,929.1 627.1,930.1 631.0,930.6 634.9,932.2 638.8,931.8 642.7,932.6 646.6,933.7 650.5,933.2 654.3,932.5 658.2,933.5 662.1,933.6 666.0,934.6 669.9,935.5 673.8,934.4 677.7,934.2 681.6,935.5 685.5,933.8 689.4,934.7 693.3,934.8 697.2,934.5 701.1,934.4 705.0,934.7 708.9,935.8 712.8,935.2 716.6,934.3 720.5,935.1 724.4,935.6 728.3,936.3 732.2,935.6 736.1,935.2 740.0,936.1 743.9,935.8 747.8,935.3 751.7,934.7 755.6,935.3 759.5,936.0 763.4,934.5 767.3,934.2 771.2,935.9 775.1,934.4 778.9,934.6 782.8,935.5 786.7,935.5 790.6,935.8 794.5,936.0 798.4,936.4 802.3,936.0 806.2,935.5 810.1,934.2 814.0,937.4 817.9,937.2 821.8,937.4 825.7,937.2 829.6,936.9 833.5,938.1 837.3,938.0 841.2,937.4 845.1,939.3 849.0,937.9 852.9,938.8 856.8,940.4 860.7,938.9 864.6,939.7 868.5,940.4 872.4,939.9 876.3,939.1 880.2,939.8 884.1,940.2 888.0,939.4 891.9,941.5 895.8,940.9 899.6,941.2 903.5,941.1 907.4,941.3 911.3,940.9 915.2,940.3 919.1,941.8 923.0,941.5 926.9,942.5 930.8,940.9 934.7,941.8 938.6,943.2 942.5,941.1 946.4,941.3 950.3,942.2 954.2,943.2 958.1,941.5 961.9,942.4 965.8,942.3 969.7,942.1 973.6,942.4 977.5,943.3 981.4,942.7 985.3,941.9 989.2,942.4 993.1,942.9 997.0,942.1 1000.9,942.5 1004.8,942.8 1008.7,941.8 1012.6,944.2 1016.5,942.2 1020.3,943.3 1024.2,943.2 1028.1,943.0 1032.0,944.1 1035.9,943.5 1039.8,943.0 1043.7,944.2 1047.6,943.9 1051.5,943.1 1055.4,942.8 1059.3,944.3 1063.2,943.7 1067.1,943.0 1071.0,944.2 1074.9,943.2 1078.8,943.7 1082.6,943.6 1086.5,943.1 1090.4,944.6 1094.3,946.2 1098.2,944.7 1102.1,944.6 1106.0,944.3 1109.9,944.5 1113.8,944.7 1117.7,945.0 1121.6,944.4 1125.5,944.8 1129.4,944.7 1133.3,945.2 1137.2,945.4 1141.0,945.6 1144.9,944.8 1148.8,944.8 1152.7,945.5 1156.6,945.0 1160.5,945.1 1164.4,945.5 1168.3,945.5 1172.2,946.0 1176.1,944.7 1180.0,946.0 1183.9,945.2 1187.8,945.8 1191.7,944.8 1195.6,945.5 1199.5,945.2 1203.3,946.5 1207.2,945.1 1211.1,946.3 1215.0,945.3 1218.9,945.1 1222.8,945.9 1226.7,946.3 1230.6,945.8 1234.5,946.1 1238.4,946.0 1242.3,945.9 1246.2,946.6 1250.1,945.9 1254.0,946.4 1257.9,945.4 1261.8,945.9 1265.6,946.5 1269.5,945.8 1273.4,945.0 1277.3,946.5 1281.2,946.4 1285.1,946.0 1289.0,946.2 1292.9,946.0 1296.8,946.4 1300.7,946.8 1304.6,946.4 1308.5,946.2 1312.4,946.0 1316.3,946.2 1320.2,946.0 1324.0,946.8 1327.9,945.8 1331.8,946.0 1335.7,946.5 1339.6,946.5 1343.5,946.5 1347.4,946.1 1351.3,946.4 1355.2,945.6 1359.1,945.6 1363.0,945.7 1366.9,946.6 1370.8,947.1 1374.7,946.2 1378.6,946.1 1382.5,946.2 1386.3,947.3 1390.2,946.5 1394.1,946.5 1398.0,946.1 1401.9,946.7 1405.8,947.1 1409.7,946.5 1413.6,946.0 1417.5,947.1 1421.4,946.5 1425.3,947.4 1429.2,945.9 1433.1,946.4 1437.0,946.6 1440.9,945.6 1444.8,946.5 1448.6,946.8 1452.5,946.4 1456.4,946.7 1460.3,946.6 1464.2,946.1 1468.1,946.9 1472.0,946.1 1475.9,946.4 1479.8,946.2 1483.7,946.9 1487.6,946.3 1491.5,946.3 1495.4,945.5 1499.3,946.4 1503.2,947.1 1507.0,945.5 1510.9,946.8 1514.8,946.5 1518.7,945.7 1522.6,946.4 1526.5,947.1 1530.4,946.6 1534.3,946.8 1538.2,947.2 1542.1,946.4 1546.0,947.0 1549.9,946.0 1553.8,946.2 1557.7,947.3 1561.6,947.3 1565.5,947.1 1569.3,945.9 1573.2,946.5 1577.1,946.2 1581.0,947.6 1584.9,946.0 1588.8,946.0 1592.7,946.3 1596.6,946.8 1600.5,946.4 1604.4,946.5 1608.3,946.8 1612.2,946.7 1616.1,945.7 1620.0,946.0 1623.9,947.5 1627.7,946.7 1631.6,947.6 1635.5,947.4 1639.4,947.2 1643.3,946.7 1647.2,947.5 1651.1,946.5 1655.0,947.8 1658.9,947.0 1662.8,947.0 1666.7,946.5 1670.6,946.4 1674.5,946.6 1678.4,946.5 1682.3,946.3 1686.2,946.2 1690.0,946.8 1693.9,947.3 1697.8,947.7 1701.7,947.1 1705.6,946.7 1709.5,947.1 1713.4,947.6 1717.3,946.8 1721.2,947.3 1725.1,947.0 1729.0,946.8 1732.9,946.5 1736.8,947.1 1740.7,946.3 1744.6,946.3 1748.5,946.9 1752.3,947.3 1756.2,947.2 1760.1,947.2 1764.0,946.6 1767.9,946.7 1771.8,947.3 1775.7,947.8 1779.6,945.4" stroke="#D0104C" stroke-width="9.6" fill="none" stroke-linejoin="round" stroke-linecap="butt"/>
<path d="M421.7,946.6 425.6,940.9 429.5,936.4 433.4,932.8 437.3,930.1 441.2,927.5 445.1,927.6 449.0,926.4 452.9,926.9 456.7,925.7 460.6,928.0 464.5,927.5 468.4,925.8 472.3,927.2 476.2,926.3 480.1,925.9 484.0,926.7 487.9,927.3 491.8,927.9 495.7,926.8 499.6,927.6 503.5,927.1 507.4,927.1 511.3,927.4 515.2,929.1 519.0,934.5 522.9,935.6 526.8,932.9 530.7,932.4 534.6,933.7 538.5,931.0 542.4,931.5 546.3,931.3 550.2,930.6 554.1,931.3 558.0,930.9 561.9,929.4 565.8,931.2 569.7,928.8 573.6,929.0 577.5,929.0 581.3,929.2 585.2,928.0 589.1,929.0 593.0,926.9 596.9,928.3 600.8,928.2 604.7,928.9 608.6,930.1 612.5,931.3 616.4,931.5 620.3,933.0 624.2,932.8 628.1,934.6 632.0,936.5 635.9,936.4 639.7,937.4 643.6,938.0 647.5,938.9 651.4,939.1 655.3,939.1 659.2,939.0 663.1,940.1 667.0,938.6 670.9,940.8 674.8,940.5 678.7,941.5 682.6,941.4 686.5,942.3 690.4,941.4 694.3,940.9 698.2,942.0 702.0,941.9 705.9,942.1 L705.9,948.2 L421.7,948.2 Z" stroke="#D80C3C" stroke-width="7.2" fill="#D80C3C" stroke-linejoin="round"/>
<path d="M421.7,945.8 425.6,941.9 429.5,940.3 433.4,938.5 437.3,937.5 441.2,934.3 445.1,935.2 449.0,933.9 452.9,933.7 456.7,932.8 460.6,933.0 464.5,934.0 468.4,934.7 472.3,933.8 476.2,932.1 480.1,934.2 484.0,932.1 487.9,932.8 491.8,934.1 495.7,932.6 499.6,933.8 503.5,932.9 507.4,932.1 511.3,933.3 515.2,936.8 519.0,943.2 522.9,943.3 526.8,943.1 530.7,941.6 534.6,943.3 538.5,942.4 542.4,942.5 546.3,942.3 550.2,941.8 554.1,942.2 558.0,942.7 561.9,943.1 565.8,942.5 569.7,942.2 573.6,941.9 577.5,942.0 581.3,943.1 585.2,942.6 589.1,942.3 593.0,941.0 596.9,940.6 600.8,941.7 604.7,941.4 608.6,941.4 612.5,940.8 616.4,940.5 620.3,940.3 624.2,941.5 628.1,941.4 632.0,943.6 635.9,944.3 639.7,945.1 643.6,943.6 647.5,944.0 651.4,945.2 655.3,945.1 659.2,944.0 663.1,944.8 667.0,945.2" stroke="#F41414" stroke-width="8.4" fill="none" stroke-linejoin="round" stroke-linecap="butt"/>
<text x="224.7" y="968.3" font-size="58.5" textLength="35.3" lengthAdjust="spacingAndGlyphs" fill="#111">0</text>
<text x="192.5" y="818.2" font-size="58.5" textLength="67.4" lengthAdjust="spacingAndGlyphs" fill="#111">20</text>
<text x="194.1" y="668.0" font-size="58.5" textLength="65.7" lengthAdjust="spacingAndGlyphs" fill="#111">40</text>
<text x="192.4" y="517.9" font-size="58.5" textLength="67.4" lengthAdjust="spacingAndGlyphs" fill="#111">60</text>
<text x="192.9" y="367.7" font-size="58.5" textLength="67.0" lengthAdjust="spacingAndGlyphs" fill="#111">80</text>
<text x="159.5" y="217.6" font-size="58.5" textLength="100.3" lengthAdjust="spacingAndGlyphs" fill="#111">100</text>
<text x="159.5" y="67.5" font-size="58.5" textLength="100.3" lengthAdjust="spacingAndGlyphs" fill="#111">120</text>
<text x="270.5" y="1052.7" font-size="58.5" textLength="98.0" lengthAdjust="spacingAndGlyphs" fill="#111">390</text>
<text x="514.8" y="1052.7" font-size="58.5" textLength="97.1" lengthAdjust="spacingAndGlyphs" fill="#111">440</text>
<text x="758.1" y="1052.7" font-size="58.5" textLength="97.1" lengthAdjust="spacingAndGlyphs" fill="#111">490</text>
<text x="1000.4" y="1052.7" font-size="58.5" textLength="98.2" lengthAdjust="spacingAndGlyphs" fill="#111">540</text>
<text x="1243.8" y="1052.7" font-size="58.5" textLength="98.2" lengthAdjust="spacingAndGlyphs" fill="#111">590</text>
<text x="1486.5" y="1052.7" font-size="58.5" textLength="98.8" lengthAdjust="spacingAndGlyphs" fill="#111">640</text>
<text x="1729.8" y="1052.7" font-size="58.5" textLength="98.8" lengthAdjust="spacingAndGlyphs" fill="#111">690</text>
<text x="832.3" y="1132.2" font-size="57.6" textLength="432.8" lengthAdjust="spacingAndGlyphs" fill="#111">Wavelength/nm</text>
<text x="0" y="0" transform="translate(124.8,797.5) rotate(-90)" font-size="58" textLength="593.2" lengthAdjust="spacingAndGlyphs" fill="#111">Fluorescence Intesnity</text>
<text x="1247.3" y="285.3" font-size="59" textLength="206.3" lengthAdjust="spacingAndGlyphs" fill="#111">pH 2.00</text>
<text x="1242.7" y="658.7" font-size="59" textLength="236.7" lengthAdjust="spacingAndGlyphs" fill="#111">pH 10.00</text>
<line x1="1350.3" y1="374.5" x2="1350.3" y2="556" stroke="#111" stroke-width="3.2"/>
<polygon points="1350.3,341.3 1333.7,374.5 1366.8999999999999,374.5" fill="#000"/>
<line x1="256.6" y1="1282.2" x2="256.6" y2="2167.5" stroke="#3c3c3c" stroke-width="3.5"/>
<line x1="254.60000000000002" y1="2165.8" x2="1791.5" y2="2165.8" stroke="#555" stroke-width="3"/>
<path d="M257.0,2055.4 259.6,2049.8 262.1,2045.2 264.7,2041.6 267.2,2033.6 269.8,2032.6 272.3,2024.2 274.9,2017.9 277.5,2014.2 280.0,2013.5 282.6,2012.1 285.1,2007.1 287.7,1997.6 290.2,1988.9 292.8,1987.3 295.4,1980.7 297.9,1973.7 300.5,1974.6 303.0,1959.3 305.6,1957.4 308.1,1948.6 310.7,1939.6 313.3,1933.8 315.8,1941.2 318.4,1929.3 320.9,1922.1 323.5,1921.3 326.1,1916.3 328.6,1901.6 331.2,1898.0 333.7,1899.4 336.3,1893.2 338.8,1891.1 341.4,1883.0 344.0,1875.8 346.5,1865.7 349.1,1858.1 351.6,1854.1 354.2,1842.3 356.7,1840.0 359.3,1830.4 361.9,1830.2 364.4,1809.8 367.0,1806.8 369.5,1796.0 372.1,1783.5 374.6,1773.8 377.2,1761.6 379.8,1753.6 382.3,1737.3 384.9,1724.5 387.4,1723.4 390.0,1724.4 392.5,1714.7 395.1,1712.4 397.7,1713.3 400.2,1713.6 402.8,1707.7 405.3,1707.5 407.9,1705.8 410.5,1711.4 413.0,1703.0 415.6,1683.7 418.1,1689.2 420.7,1677.8 423.2,1666.2 425.8,1665.3 428.4,1645.9 430.9,1652.0 433.5,1631.7 436.0,1628.6 438.6,1602.2 441.1,1582.5 443.7,1605.1 446.3,1591.6 448.8,1583.9 451.4,1586.8 453.9,1585.2 456.5,1585.2 459.0,1587.6 461.6,1589.5 464.2,1576.6 466.7,1572.5 469.3,1571.0 471.8,1578.8 474.4,1577.0 476.9,1589.3 479.5,1597.2 482.1,1599.4 484.6,1600.6 487.2,1601.4 489.7,1605.0 492.3,1604.4 494.8,1604.5 497.4,1608.3 500.0,1600.4 502.5,1588.9 505.1,1596.2 507.6,1595.4 510.2,1600.7 512.8,1593.0 515.3,1589.9 517.9,1588.6 520.4,1581.4 523.0,1581.0 525.5,1593.1 528.1,1587.3 530.7,1585.0 533.2,1590.6 535.8,1586.9 538.3,1582.6 540.9,1580.6 543.4,1571.6 546.0,1577.3 548.6,1571.4 551.1,1576.1 553.7,1577.5 556.2,1574.5 558.8,1575.4 561.3,1585.9 563.9,1577.6 566.5,1581.9 569.0,1596.6 571.6,1594.3 574.1,1604.6 576.7,1605.0 579.2,1614.4 581.8,1610.8 584.4,1616.2 586.9,1618.7 589.5,1621.6 592.0,1618.1 594.6,1620.3 597.1,1621.5 599.7,1629.4 602.3,1635.0 604.8,1647.0 607.4,1660.0 609.9,1664.0 612.5,1663.0 615.0,1646.3 617.6,1651.6 620.2,1658.7 622.7,1658.9 625.3,1662.3 627.8,1666.9 630.4,1671.1 633.0,1677.4 635.5,1673.2 638.1,1700.7 640.6,1706.7 643.2,1703.7 645.7,1706.6 648.3,1718.1 650.9,1713.0 653.4,1714.6 656.0,1712.7 658.5,1712.3 661.1,1716.0 663.6,1711.0 666.2,1723.8 668.8,1721.5 671.3,1719.2 673.9,1721.9 676.4,1721.3 679.0,1744.5 681.5,1729.8 684.1,1736.2 686.7,1740.8 689.2,1744.8 691.8,1752.0 694.3,1748.5 696.9,1761.9 699.4,1756.4 702.0,1765.0 704.6,1778.8 707.1,1772.0 709.7,1779.3 712.2,1773.6 714.8,1772.4 717.4,1788.0 719.9,1796.3 722.5,1792.8 725.0,1797.4 727.6,1801.0 730.1,1804.5 732.7,1806.4 735.3,1808.8 737.8,1813.3 740.4,1820.9 742.9,1823.8 745.5,1807.3 748.0,1827.7 750.6,1831.0 753.2,1833.4 755.7,1832.5 758.3,1836.9 760.8,1841.5 763.4,1840.2 765.9,1841.1 768.5,1842.6 771.1,1854.3 773.6,1854.2 776.2,1856.9 778.7,1861.6 781.3,1869.9 783.8,1871.5 786.4,1880.6 789.0,1887.4 791.5,1892.6 794.1,1898.9 796.6,1909.5 799.2,1916.3 801.7,1921.8 804.3,1919.5 806.9,1927.4 809.4,1926.2 812.0,1931.7 814.5,1938.4 817.1,1945.4 819.6,1939.4 822.2,1958.0 824.8,1951.0 827.3,1965.5 829.9,1963.3 832.4,1960.4 835.0,1970.2 837.6,1969.8 840.1,1975.4 842.7,1976.0 845.2,1977.3 847.8,1979.4 850.3,1986.3 852.9,1983.4 855.5,1984.5 858.0,1994.1 860.6,1998.1 863.1,1986.7 865.7,1991.2 868.2,2005.7 870.8,1995.8 873.4,1992.5 875.9,1997.8 878.5,2000.6 881.0,2002.7 883.6,1994.9 886.1,1995.6 888.7,2002.5 891.3,2005.2 893.8,2006.5 896.4,2010.6 898.9,2009.6 901.5,2012.0 904.0,2015.1 906.6,2015.2 909.2,2019.4 911.7,2017.3 914.3,2018.8 916.8,2024.7 919.4,2019.7 922.0,2021.3 924.5,2022.6 927.1,2025.0 929.6,2026.2 932.2,2036.6 934.7,2022.4 937.3,2030.4 939.9,2030.9 942.4,2034.5 945.0,2035.3 947.5,2029.3 950.1,2043.5 952.6,2035.5 955.2,2037.9 957.8,2040.0 960.3,2039.6 962.9,2040.7 965.4,2046.9 968.0,2043.4 970.5,2046.1 973.1,2044.3 975.7,2047.1 978.2,2045.7 980.8,2048.0 983.3,2049.0 985.9,2049.5 988.4,2047.5 991.0,2048.9 993.6,2048.0 996.1,2052.9 998.7,2060.3 1001.2,2048.5 1003.8,2047.4 1006.3,2048.1 1008.9,2050.9 1011.5,2050.6 1014.0,2048.8 1016.6,2051.4 1019.1,2045.2 1021.7,2051.5 1024.2,2054.1 1026.8,2056.4 1029.4,2052.9 1031.9,2055.8 1034.5,2047.5 1037.0,2045.3 1039.6,2051.3 1042.2,2052.8 1044.7,2051.3 1047.3,2055.2 1049.8,2050.8 1052.4,2052.3 1054.9,2053.9 1057.5,2049.3 1060.1,2051.8 1062.6,2053.6 1065.2,2058.5 1067.7,2054.0 1070.3,2054.5 1072.8,2052.2 1075.4,2057.6 1078.0,2053.7 1080.5,2046.9 1083.1,2052.4 1085.6,2051.5 1088.2,2050.6 1090.7,2051.1 1093.3,2052.6 1095.9,2053.7 1098.4,2044.5 1101.0,2049.8 1103.5,2049.3 1106.1,2049.5 1108.6,2052.0 1111.2,2041.2 1113.8,2046.2 1116.3,2049.1 1118.9,2045.5 1121.4,2054.5 1124.0,2044.5 1126.6,2049.8 1129.1,2043.2 1131.7,2042.6 1134.2,2044.2 1136.8,2042.6 1139.3,2046.7 1141.9,2044.1 1144.5,2039.9 1147.0,2042.4 1149.6,2042.3 1152.1,2042.1 1154.7,2038.4 1157.2,2040.3 1159.8,2037.1 1162.4,2040.9 1164.9,2038.7 1167.5,2035.6 1170.0,2033.5 1172.6,2038.9 1175.1,2042.2 1177.7,2033.6 1180.3,2037.3 1182.8,2041.3 1185.4,2037.4 1187.9,2033.1 1190.5,2038.4 1193.0,2036.1 1195.6,2035.2 1198.2,2039.7 1200.7,2034.1 1203.3,2040.7 1205.8,2035.8 1208.4,2041.2 1210.9,2036.0 1213.5,2036.8 1216.1,2031.9 1218.6,2035.8 1221.2,2035.3 1223.7,2036.3 1226.3,2033.2 1228.8,2039.6 1231.4,2036.3 1234.0,2035.1 1236.5,2034.5 1239.1,2033.9 1241.6,2045.2 1244.2,2039.9 1246.8,2039.2 1249.3,2035.7 1251.9,2039.7 1254.4,2036.8 1257.0,2040.1 1259.5,2040.8 1262.1,2043.0 1264.7,2037.0 1267.2,2034.9 1269.8,2041.2 1272.3,2038.4 1274.9,2045.4 1277.4,2042.9 1280.0,2040.1 1282.6,2044.5 1285.1,2042.9 1287.7,2043.9 1290.2,2044.7 1292.8,2051.5 1295.3,2046.0 1297.9,2048.1 1300.5,2047.0 1303.0,2047.6 1305.6,2045.7 1308.1,2050.1 1310.7,2050.0 1313.2,2053.0 1315.8,2052.2 1318.4,2052.0 1320.9,2057.4 1323.5,2054.2 1326.0,2057.2 1328.6,2054.3 1331.2,2051.9 1333.7,2053.3 1336.3,2055.9 1338.8,2059.9 1341.4,2057.1 1343.9,2056.7 1346.5,2057.4 1349.1,2056.0 1351.6,2054.5 1354.2,2053.3 1356.7,2060.3 1359.3,2059.6 1361.8,2061.4 1364.4,2064.0 1367.0,2058.4 1369.5,2061.6 1372.1,2061.1 1374.6,2067.4 1377.2,2066.2 1379.7,2065.3 1382.3,2067.9 1384.9,2070.5 1387.4,2065.4 1390.0,2071.6 1392.5,2074.9 1395.1,2077.2 1397.6,2075.4 1400.2,2076.1 1402.8,2075.1 1405.3,2070.3 1407.9,2077.7 1410.4,2076.3 1413.0,2083.7 1415.5,2074.9 1418.1,2085.1 1420.7,2083.0 1423.2,2084.4 1425.8,2083.4 1428.3,2087.0 1430.9,2084.5 1433.5,2088.1 1436.0,2090.9 1438.6,2084.8 1441.1,2091.5 1443.7,2082.2 1446.2,2092.0 1448.8,2094.4 1451.4,2091.8 1453.9,2099.0 1456.5,2098.6 1459.0,2101.7 1461.6,2101.4 1464.1,2100.1 1466.7,2110.3 1469.3,2101.9 1471.8,2101.9 1474.4,2103.7 1476.9,2105.3 1479.5,2110.1 1482.0,2110.0 1484.6,2108.6 1487.2,2110.2 1489.7,2110.3 1492.3,2111.6 1494.8,2112.0 1497.4,2113.2 1499.9,2113.9 1502.5,2112.8 1505.1,2114.0 1507.6,2113.7 1510.2,2115.5 1512.7,2117.9 1515.3,2119.5 1517.8,2118.8 1520.4,2117.4 1523.0,2116.5 1525.5,2122.9 1528.1,2121.4 1530.6,2123.7 1533.2,2124.0 1535.8,2122.9 1538.3,2125.5 1540.9,2120.8 1543.4,2123.9 1546.0,2122.3 1548.5,2127.7 1551.1,2127.1 1553.7,2132.8 1556.2,2128.0 1558.8,2129.3 1561.3,2129.4 1563.9,2132.4 1566.4,2134.1 1569.0,2134.3 1571.6,2134.3 1574.1,2137.3 1576.7,2133.0 1579.2,2137.3 1581.8,2137.7 1584.3,2134.5 1586.9,2135.5 1589.5,2133.7 1592.0,2135.4 1594.6,2144.7 1597.1,2140.1 1599.7,2139.2 1602.2,2138.1 1604.8,2140.8 1607.4,2140.6 1609.9,2142.1 1612.5,2141.0 1615.0,2141.8 1617.6,2138.9 1620.1,2144.1 1622.7,2144.2 1625.3,2144.8 1627.8,2147.6 1630.4,2146.1 1632.9,2141.4 1635.5,2140.1 1638.0,2145.5 1640.6,2145.8 1643.2,2150.9 1645.7,2146.3 1648.3,2149.5 1650.8,2150.1 1653.4,2149.4 1656.0,2147.5 1658.5,2147.6 1661.1,2149.7 1663.6,2153.7 1666.2,2147.3 1668.7,2148.2 1671.3,2149.1 1673.9,2148.3 1676.4,2146.9 1679.0,2146.3 1681.5,2148.9 1684.1,2149.5 1686.6,2152.6 1689.2,2148.2 1691.8,2150.5 1694.3,2147.8 1696.9,2151.0 1699.4,2152.8 1702.0,2152.0 1704.5,2150.9 1707.1,2153.0 1709.7,2153.0 1712.2,2151.6 1714.8,2152.7 1717.3,2151.3 1719.9,2154.7 1722.4,2152.5 1725.0,2152.5 1727.6,2153.2 1730.1,2151.4 1732.7,2153.1 1735.2,2151.7 1737.8,2155.6 1740.4,2150.0 1742.9,2152.8 1745.5,2153.5 1748.0,2154.4 1750.6,2152.1 1753.1,2144.7 1755.7,2156.1 1758.3,2141.9 1760.8,2152.8 1763.4,2155.0 1765.9,2150.3 1768.5,2150.7 1771.0,2155.1 1773.6,2154.8 1776.2,2151.0 1778.7,2151.5 1781.3,2153.5 1783.8,2150.3 1786.4,2154.7 1788.9,2156.0 1791.5,2158.7" stroke="#4F7E3A" stroke-width="5.0" fill="none" stroke-linejoin="round" stroke-linecap="butt"/>
<path d="M257.0,2091.8 259.6,2088.0 262.1,2077.8 264.7,2076.6 267.2,2065.6 269.8,2065.1 272.3,2059.3 274.9,2052.4 277.5,2047.4 280.0,2048.7 282.6,2039.5 285.1,2036.2 287.7,2029.0 290.2,2027.3 292.8,2023.6 295.4,2017.9 297.9,2016.5 300.5,2014.1 303.0,2009.5 305.6,2010.3 308.1,2005.6 310.7,2002.7 313.3,1996.1 315.8,1995.3 318.4,1991.9 320.9,1988.9 323.5,1991.3 326.1,1980.3 328.6,1975.5 331.2,1971.1 333.7,1958.9 336.3,1962.6 338.8,1950.7 341.4,1952.7 344.0,1946.1 346.5,1946.7 349.1,1940.3 351.6,1936.3 354.2,1924.8 356.7,1926.5 359.3,1923.1 361.9,1920.3 364.4,1919.2 367.0,1915.4 369.5,1916.8 372.1,1911.4 374.6,1908.9 377.2,1905.9 379.8,1906.9 382.3,1903.1 384.9,1907.6 387.4,1902.5 390.0,1901.0 392.5,1900.7 395.1,1898.1 397.7,1892.0 400.2,1894.5 402.8,1894.2 405.3,1888.7 407.9,1892.2 410.5,1888.4 413.0,1893.3 415.6,1884.6 418.1,1880.5 420.7,1882.4 423.2,1881.9 425.8,1876.0 428.4,1874.3 430.9,1866.1 433.5,1852.3 436.0,1825.4 438.6,1797.9 441.1,1769.8 443.7,1755.6 446.3,1780.2 448.8,1808.0 451.4,1825.7 453.9,1835.9 456.5,1827.8 459.0,1824.2 461.6,1817.3 464.2,1816.5 466.7,1815.2 469.3,1819.9 471.8,1821.5 474.4,1823.5 476.9,1828.5 479.5,1830.1 482.1,1833.5 484.6,1835.9 487.2,1839.0 489.7,1845.9 492.3,1841.1 494.8,1836.4 497.4,1839.9 500.0,1847.8 502.5,1839.3 505.1,1839.3 507.6,1836.3 510.2,1835.5 512.8,1838.3 515.3,1829.1 517.9,1835.7 520.4,1840.5 523.0,1834.3 525.5,1832.4 528.1,1834.6 530.7,1829.3 533.2,1829.6 535.8,1834.0 538.3,1832.4 540.9,1834.7 543.4,1827.6 546.0,1832.5 548.6,1830.5 551.1,1836.7 553.7,1837.5 556.2,1837.0 558.8,1837.9 561.3,1839.5 563.9,1833.3 566.5,1842.7 569.0,1835.2 571.6,1841.8 574.1,1845.2 576.7,1846.9 579.2,1849.2 581.8,1847.1 584.4,1850.2 586.9,1855.4 589.5,1858.3 592.0,1861.3 594.6,1862.0 597.1,1863.8 599.7,1861.4 602.3,1860.7 604.8,1865.4 607.4,1867.8 609.9,1867.9 612.5,1869.9 615.0,1872.6 617.6,1878.4 620.2,1877.0 622.7,1876.8 625.3,1883.1 627.8,1881.0 630.4,1883.2 633.0,1886.5 635.5,1889.5 638.1,1886.8 640.6,1887.5 643.2,1893.1 645.7,1889.9 648.3,1894.6 650.9,1896.0 653.4,1897.4 656.0,1900.8 658.5,1900.5 661.1,1898.5 663.6,1904.7 666.2,1903.1 668.8,1903.5 671.3,1907.8 673.9,1903.9 676.4,1903.4 679.0,1906.4 681.5,1905.1 684.1,1906.6 686.7,1912.5 689.2,1906.1 691.8,1913.8 694.3,1909.4 696.9,1912.1 699.4,1910.7 702.0,1917.0 704.6,1918.3 707.1,1921.4 709.7,1923.5 712.2,1925.3 714.8,1929.9 717.4,1934.9 719.9,1937.3 722.5,1940.6 725.0,1942.9 727.6,1941.6 730.1,1946.4 732.7,1942.2 735.3,1951.0 737.8,1949.5 740.4,1955.2 742.9,1954.7 745.5,1952.5 748.0,1958.0 750.6,1957.7 753.2,1964.9 755.7,1965.6 758.3,1963.2 760.8,1964.7 763.4,1967.3 765.9,1968.9 768.5,1971.0 771.1,1974.0 773.6,1975.5 776.2,1981.2 778.7,1979.7 781.3,1976.8 783.8,1985.1 786.4,1985.8 789.0,1990.9 791.5,1991.6 794.1,1993.9 796.6,1998.7 799.2,1999.6 801.7,2001.0 804.3,2008.0 806.9,2007.3 809.4,2020.5 812.0,2011.8 814.5,2012.0 817.1,2020.4 819.6,2022.6 822.2,2021.7 824.8,2025.7 827.3,2023.5 829.9,2027.4 832.4,2030.6 835.0,2028.8 837.6,2029.6 840.1,2035.4 842.7,2036.4 845.2,2035.3 847.8,2034.9 850.3,2037.5 852.9,2039.8 855.5,2039.9 858.0,2042.1 860.6,2045.5 863.1,2043.5 865.7,2047.6 868.2,2047.0 870.8,2047.2 873.4,2047.0 875.9,2049.7 878.5,2051.6 881.0,2049.1 883.6,2052.4 886.1,2052.6 888.7,2054.8 891.3,2051.8 893.8,2056.3 896.4,2057.7 898.9,2056.3 901.5,2055.8 904.0,2058.3 906.6,2061.7 909.2,2061.1 911.7,2063.5 914.3,2060.3 916.8,2062.1 919.4,2066.2 922.0,2061.6 924.5,2063.6 927.1,2065.5 929.6,2064.4 932.2,2067.4 934.7,2069.1 937.3,2064.0 939.9,2066.1 942.4,2067.8 945.0,2069.2 947.5,2068.1 950.1,2068.6 952.6,2068.3 955.2,2071.8 957.8,2072.8 960.3,2069.3 962.9,2071.2 965.4,2070.4 968.0,2071.3 970.5,2071.9 973.1,2073.0 975.7,2070.5 978.2,2075.7 980.8,2074.3 983.3,2070.0 985.9,2068.6 988.4,2074.0 991.0,2073.7 993.6,2073.4 996.1,2073.9 998.7,2074.3 1001.2,2074.2 1003.8,2076.3 1006.3,2073.1 1008.9,2073.1 1011.5,2072.2 1014.0,2068.8 1016.6,2075.5 1019.1,2072.8 1021.7,2073.1 1024.2,2074.2 1026.8,2072.6 1029.4,2072.7 1031.9,2073.7 1034.5,2074.1 1037.0,2074.2 1039.6,2073.2 1042.2,2073.6 1044.7,2069.6 1047.3,2074.8 1049.8,2072.7 1052.4,2069.9 1054.9,2072.9 1057.5,2071.8 1060.1,2072.3 1062.6,2076.0 1065.2,2074.1 1067.7,2073.2 1070.3,2073.9 1072.8,2073.7 1075.4,2072.5 1078.0,2073.2 1080.5,2072.3 1083.1,2068.6 1085.6,2075.8 1088.2,2072.2 1090.7,2070.5 1093.3,2071.4 1095.9,2071.4 1098.4,2069.4 1101.0,2069.6 1103.5,2066.7 1106.1,2067.9 1108.6,2068.1 1111.2,2070.0 1113.8,2072.2 1116.3,2065.8 1118.9,2065.1 1121.4,2061.1 1124.0,2054.8 1126.6,2064.5 1129.1,2065.7 1131.7,2063.2 1134.2,2063.2 1136.8,2062.2 1139.3,2060.4 1141.9,2067.0 1144.5,2065.6 1147.0,2060.7 1149.6,2060.0 1152.1,2061.3 1154.7,2060.1 1157.2,2062.3 1159.8,2059.9 1162.4,2059.8 1164.9,2059.7 1167.5,2058.7 1170.0,2060.9 1172.6,2062.8 1175.1,2060.2 1177.7,2057.4 1180.3,2058.3 1182.8,2061.0 1185.4,2059.7 1187.9,2059.1 1190.5,2058.9 1193.0,2059.7 1195.6,2058.6 1198.2,2064.7 1200.7,2057.7 1203.3,2063.2 1205.8,2061.8 1208.4,2059.4 1210.9,2061.1 1213.5,2060.3 1216.1,2060.5 1218.6,2060.4 1221.2,2061.8 1223.7,2059.3 1226.3,2061.7 1228.8,2059.5 1231.4,2060.8 1234.0,2064.9 1236.5,2060.8 1239.1,2057.6 1241.6,2060.3 1244.2,2061.4 1246.8,2059.9 1249.3,2062.6 1251.9,2063.4 1254.4,2064.4 1257.0,2064.6 1259.5,2061.3 1262.1,2064.7 1264.7,2066.2 1267.2,2067.9 1269.8,2066.1 1272.3,2073.4 1274.9,2069.1 1277.4,2073.6 1280.0,2069.6 1282.6,2072.1 1285.1,2071.1 1287.7,2071.0 1290.2,2072.0 1292.8,2071.0 1295.3,2072.1 1297.9,2074.7 1300.5,2071.7 1303.0,2073.6 1305.6,2071.7 1308.1,2073.8 1310.7,2077.2 1313.2,2078.5 1315.8,2075.9 1318.4,2074.3 1320.9,2076.3 1323.5,2072.8 1326.0,2078.9 1328.6,2077.8 1331.2,2079.4 1333.7,2077.9 1336.3,2080.1 1338.8,2076.3 1341.4,2076.3 1343.9,2081.1 1346.5,2081.5 1349.1,2083.5 1351.6,2082.9 1354.2,2082.2 1356.7,2086.1 1359.3,2085.8 1361.8,2084.9 1364.4,2087.9 1367.0,2088.0 1369.5,2084.5 1372.1,2086.9 1374.6,2089.2 1377.2,2089.1 1379.7,2090.4 1382.3,2090.7 1384.9,2092.8 1387.4,2094.0 1390.0,2093.8 1392.5,2093.8 1395.1,2098.0 1397.6,2093.7 1400.2,2094.6 1402.8,2094.4 1405.3,2098.8 1407.9,2096.5 1410.4,2099.9 1413.0,2100.1 1415.5,2100.7 1418.1,2100.3 1420.7,2100.8 1423.2,2102.9 1425.8,2101.6 1428.3,2103.0 1430.9,2103.2 1433.5,2104.0 1436.0,2106.7 1438.6,2105.7 1441.1,2106.4 1443.7,2107.8 1446.2,2104.9 1448.8,2107.6 1451.4,2110.4 1453.9,2109.5 1456.5,2109.2 1459.0,2108.3 1461.6,2111.6 1464.1,2110.4 1466.7,2113.7 1469.3,2113.6 1471.8,2114.7 1474.4,2117.0 1476.9,2114.3 1479.5,2117.5 1482.0,2117.4 1484.6,2115.6 1487.2,2119.7 1489.7,2119.2 1492.3,2121.4 1494.8,2124.0 1497.4,2118.0 1499.9,2119.3 1502.5,2123.5 1505.1,2124.3 1507.6,2124.6 1510.2,2126.7 1512.7,2126.6 1515.3,2127.0 1517.8,2127.0 1520.4,2128.7 1523.0,2129.0 1525.5,2127.4 1528.1,2128.3 1530.6,2130.4 1533.2,2131.4 1535.8,2132.8 1538.3,2130.7 1540.9,2132.7 1543.4,2132.4 1546.0,2132.5 1548.5,2133.1 1551.1,2135.1 1553.7,2134.4 1556.2,2135.8 1558.8,2131.4 1561.3,2136.3 1563.9,2138.3 1566.4,2143.5 1569.0,2138.0 1571.6,2140.3 1574.1,2138.2 1576.7,2138.8 1579.2,2141.0 1581.8,2140.2 1584.3,2142.5 1586.9,2140.5 1589.5,2145.1 1592.0,2138.1 1594.6,2141.7 1597.1,2141.6 1599.7,2139.8 1602.2,2141.8 1604.8,2143.6 1607.4,2140.5 1609.9,2144.1 1612.5,2143.9 1615.0,2145.2 1617.6,2144.4 1620.1,2144.5 1622.7,2145.1 1625.3,2148.2 1627.8,2145.4 1630.4,2146.8 1632.9,2145.9 1635.5,2148.0 1638.0,2149.9 1640.6,2146.6 1643.2,2147.6 1645.7,2147.5 1648.3,2148.6 1650.8,2146.4 1653.4,2149.9 1656.0,2150.2 1658.5,2149.6 1661.1,2149.6 1663.6,2148.6 1666.2,2149.5 1668.7,2150.3 1671.3,2150.5 1673.9,2149.9 1676.4,2150.7 1679.0,2150.8 1681.5,2157.0 1684.1,2151.9 1686.6,2150.8 1689.2,2150.3 1691.8,2150.8 1694.3,2153.0 1696.9,2154.3 1699.4,2151.2 1702.0,2152.3 1704.5,2151.0 1707.1,2153.0 1709.7,2151.9 1712.2,2152.8 1714.8,2152.7 1717.3,2154.0 1719.9,2151.9 1722.4,2153.5 1725.0,2154.2 1727.6,2153.5 1730.1,2153.4 1732.7,2150.4 1735.2,2152.4 1737.8,2153.0 1740.4,2153.1 1742.9,2154.6 1745.5,2154.8 1748.0,2154.5 1750.6,2154.5 1753.1,2157.8 1755.7,2155.4 1758.3,2156.5 1760.8,2155.1 1763.4,2154.9 1765.9,2156.1 1768.5,2155.4 1771.0,2151.9 1773.6,2158.7 1776.2,2155.2 1778.7,2155.6 1781.3,2155.3 1783.8,2155.5 1786.4,2155.1 1788.9,2155.0 1791.5,2156.5" stroke="#DEB47E" stroke-width="8.2" fill="none" stroke-linejoin="round" stroke-linecap="butt"/>
<path d="M257.0,2131.0 259.6,2126.4 262.1,2118.8 264.7,2116.4 267.2,2111.9 269.8,2113.9 272.3,2103.4 274.9,2097.3 277.5,2094.0 280.0,2089.5 282.6,2080.4 285.1,2080.6 287.7,2079.7 290.2,2075.5 292.8,2070.9 295.4,2069.2 297.9,2065.8 300.5,2063.2 303.0,2062.5 305.6,2060.4 308.1,2061.9 310.7,2062.4 313.3,2059.4 315.8,2061.4 318.4,2066.5 320.9,2064.0 323.5,2063.0 326.1,2057.4 328.6,2063.3 331.2,2061.5 333.7,2070.5 336.3,2065.6 338.8,2060.3 341.4,2066.2 344.0,2065.9 346.5,2063.2 349.1,2061.1 351.6,2059.4 354.2,2048.8 356.7,2042.7 359.3,2041.5 361.9,2036.0 364.4,2033.4 367.0,2029.1 369.5,2028.7 372.1,2028.6 374.6,2025.7 377.2,2023.9 379.8,2023.9 382.3,2021.9 384.9,2023.3 387.4,2031.6 390.0,2018.4 392.5,2031.2 395.1,2030.6 397.7,2029.0 400.2,2025.9 402.8,2031.5 405.3,2033.9 407.9,2030.2 410.5,2024.4 413.0,2029.6 415.6,2031.0 418.1,2027.4 420.7,2029.7 423.2,2022.4 425.8,2020.0 428.4,2028.5 430.9,2008.6 433.5,1989.9 436.0,1983.5 438.6,1964.9 441.1,1952.0 443.7,1962.5 446.3,1958.4 448.8,1958.3 451.4,1954.7 453.9,1956.7 456.5,1954.3 459.0,1952.1 461.6,1953.1 464.2,1953.0 466.7,1954.9 469.3,1951.6 471.8,1944.7 474.4,1951.6 476.9,1943.9 479.5,1951.1 482.1,1953.9 484.6,1949.0 487.2,1951.1 489.7,1956.9 492.3,1950.6 494.8,1949.6 497.4,1955.6 500.0,1954.4 502.5,1953.5 505.1,1954.6 507.6,1953.8 510.2,1952.3 512.8,1954.6 515.3,1942.2 517.9,1952.1 520.4,1947.7 523.0,1944.2 525.5,1947.1 528.1,1943.2 530.7,1940.3 533.2,1944.0 535.8,1939.4 538.3,1934.4 540.9,1935.6 543.4,1938.3 546.0,1940.7 548.6,1943.8 551.1,1945.0 553.7,1943.1 556.2,1944.2 558.8,1953.7 561.3,1949.3 563.9,1950.3 566.5,1954.9 569.0,1951.8 571.6,1949.1 574.1,1953.3 576.7,1947.8 579.2,1962.0 581.8,1971.8 584.4,1961.9 586.9,1965.8 589.5,1964.2 592.0,1964.2 594.6,1967.7 597.1,1958.3 599.7,1963.1 602.3,1958.9 604.8,1955.8 607.4,1966.3 609.9,1967.5 612.5,1971.8 615.0,1964.5 617.6,1968.6 620.2,1968.9 622.7,1970.8 625.3,1974.1 627.8,1971.4 630.4,1970.2 633.0,1972.1 635.5,1975.0 638.1,1967.0 640.6,1974.1 643.2,1972.0 645.7,1974.5 648.3,1975.0 650.9,1976.3 653.4,1974.8 656.0,1973.2 658.5,1971.9 661.1,1975.7 663.6,1987.3 666.2,1984.0 668.8,1984.6 671.3,1978.5 673.9,1976.9 676.4,1979.5 679.0,1978.1 681.5,1972.5 684.1,1972.7 686.7,1976.3 689.2,1966.6 691.8,1979.6 694.3,1979.6 696.9,1985.9 699.4,1980.5 702.0,1979.8 704.6,1985.7 707.1,1982.5 709.7,1985.8 712.2,1989.4 714.8,1991.0 717.4,1986.1 719.9,1984.4 722.5,1990.0 725.0,1993.0 727.6,2000.5 730.1,1998.3 732.7,2002.5 735.3,2000.4 737.8,2001.9 740.4,2000.4 742.9,2003.3 745.5,2003.7 748.0,2011.2 750.6,2011.2 753.2,2007.4 755.7,2012.2 758.3,2009.0 760.8,2012.7 763.4,2019.8 765.9,2021.3 768.5,2016.3 771.1,2020.7 773.6,2019.2 776.2,2026.2 778.7,2025.8 781.3,2029.5 783.8,2032.9 786.4,2030.4 789.0,2025.6 791.5,2037.5 794.1,2044.0 796.6,2041.9 799.2,2039.1 801.7,2041.4 804.3,2046.1 806.9,2046.3 809.4,2048.0 812.0,2049.4 814.5,2048.6 817.1,2050.8 819.6,2055.7 822.2,2057.4 824.8,2055.9 827.3,2057.7 829.9,2061.3 832.4,2066.1 835.0,2062.5 837.6,2056.9 840.1,2065.8 842.7,2062.9 845.2,2067.2 847.8,2065.5 850.3,2065.7 852.9,2068.8 855.5,2078.0 858.0,2068.2 860.6,2074.5 863.1,2082.7 865.7,2077.6 868.2,2080.6 870.8,2071.1 873.4,2080.6 875.9,2078.9 878.5,2073.3 881.0,2079.0 883.6,2077.6 886.1,2076.8 888.7,2080.8 891.3,2080.1 893.8,2080.6 896.4,2082.8 898.9,2085.2 901.5,2082.0 904.0,2079.3 906.6,2082.0 909.2,2084.5 911.7,2080.5 914.3,2082.1 916.8,2071.3 919.4,2082.5 922.0,2075.2 924.5,2096.3 927.1,2083.8 929.6,2083.2 932.2,2084.5 934.7,2085.6 937.3,2084.9 939.9,2089.0 942.4,2088.2 945.0,2092.1 947.5,2084.9 950.1,2084.9 952.6,2087.7 955.2,2086.3 957.8,2085.9 960.3,2088.1 962.9,2085.9 965.4,2088.2 968.0,2087.8 970.5,2087.3 973.1,2086.9 975.7,2086.3 978.2,2081.7 980.8,2082.9 983.3,2082.8 985.9,2091.3 988.4,2090.1 991.0,2082.2 993.6,2086.5 996.1,2086.5 998.7,2091.1 1001.2,2086.2 1003.8,2085.8 1006.3,2089.0 1008.9,2090.4 1011.5,2090.1 1014.0,2091.6 1016.6,2092.4 1019.1,2088.8 1021.7,2091.2 1024.2,2095.6 1026.8,2091.0 1029.4,2092.2 1031.9,2092.5 1034.5,2084.1 1037.0,2091.5 1039.6,2088.0 1042.2,2087.0 1044.7,2086.0 1047.3,2088.9 1049.8,2089.0 1052.4,2095.4 1054.9,2092.3 1057.5,2086.3 1060.1,2088.4 1062.6,2087.5 1065.2,2078.9 1067.7,2090.0 1070.3,2084.6 1072.8,2083.9 1075.4,2092.6 1078.0,2089.8 1080.5,2085.4 1083.1,2082.6 1085.6,2081.2 1088.2,2065.1 1090.7,2082.8 1093.3,2085.3 1095.9,2081.7 1098.4,2087.3 1101.0,2074.3 1103.5,2081.5 1106.1,2079.6 1108.6,2079.9 1111.2,2085.3 1113.8,2082.0 1116.3,2082.5 1118.9,2078.5 1121.4,2075.9 1124.0,2079.2 1126.6,2080.9 1129.1,2079.4 1131.7,2081.5 1134.2,2081.0 1136.8,2088.8 1139.3,2083.0 1141.9,2080.8 1144.5,2080.1 1147.0,2079.0 1149.6,2083.1 1152.1,2081.3 1154.7,2083.5 1157.2,2077.0 1159.8,2082.4 1162.4,2078.0 1164.9,2079.4 1167.5,2081.0 1170.0,2075.8 1172.6,2081.6 1175.1,2081.5 1177.7,2078.6 1180.3,2078.8 1182.8,2083.1 1185.4,2085.4 1187.9,2084.1 1190.5,2081.7 1193.0,2081.8 1195.6,2084.5 1198.2,2081.6 1200.7,2081.4 1203.3,2078.3 1205.8,2078.5 1208.4,2077.5 1210.9,2080.1 1213.5,2082.8 1216.1,2083.3 1218.6,2081.7 1221.2,2082.7 1223.7,2078.3 1226.3,2081.0 1228.8,2084.4 1231.4,2080.6 1234.0,2086.4 1236.5,2085.4 1239.1,2083.1 1241.6,2087.3 1244.2,2088.1 1246.8,2086.5 1249.3,2088.6 1251.9,2089.9 1254.4,2086.3 1257.0,2094.0 1259.5,2090.1 1262.1,2091.6 1264.7,2090.9 1267.2,2090.1 1269.8,2091.4 1272.3,2095.0 1274.9,2095.4 1277.4,2089.7 1280.0,2094.2 1282.6,2094.2 1285.1,2094.7 1287.7,2096.1 1290.2,2096.6 1292.8,2091.6 1295.3,2098.9 1297.9,2095.6 1300.5,2101.8 1303.0,2095.2 1305.6,2104.2 1308.1,2097.0 1310.7,2098.7 1313.2,2103.7 1315.8,2101.3 1318.4,2104.3 1320.9,2109.2 1323.5,2107.1 1326.0,2103.0 1328.6,2103.2 1331.2,2105.5 1333.7,2106.1 1336.3,2105.5 1338.8,2103.6 1341.4,2111.0 1343.9,2110.2 1346.5,2108.0 1349.1,2109.8 1351.6,2099.9 1354.2,2112.8 1356.7,2109.4 1359.3,2112.4 1361.8,2119.3 1364.4,2113.3 1367.0,2113.9 1369.5,2113.2 1372.1,2114.2 1374.6,2116.0 1377.2,2117.3 1379.7,2108.4 1382.3,2113.7 1384.9,2121.6 1387.4,2121.2 1390.0,2120.2 1392.5,2126.5 1395.1,2120.0 1397.6,2120.0 1400.2,2122.0 1402.8,2120.8 1405.3,2124.9 1407.9,2123.0 1410.4,2124.4 1413.0,2125.7 1415.5,2115.4 1418.1,2124.6 1420.7,2127.6 1423.2,2128.7 1425.8,2127.6 1428.3,2131.0 1430.9,2130.6 1433.5,2127.7 1436.0,2127.0 1438.6,2128.3 1441.1,2130.0 1443.7,2131.1 1446.2,2134.3 1448.8,2134.0 1451.4,2129.6 1453.9,2134.9 1456.5,2137.9 1459.0,2137.5 1461.6,2133.3 1464.1,2135.1 1466.7,2133.9 1469.3,2133.7 1471.8,2138.4 1474.4,2138.7 1476.9,2133.1 1479.5,2134.9 1482.0,2135.7 1484.6,2138.1 1487.2,2135.8 1489.7,2139.4 1492.3,2138.3 1494.8,2137.3 1497.4,2139.3 1499.9,2138.0 1502.5,2141.3 1505.1,2142.6 1507.6,2140.0 1510.2,2142.1 1512.7,2135.0 1515.3,2141.2 1517.8,2141.5 1520.4,2141.9 1523.0,2143.2 1525.5,2144.3 1528.1,2145.9 1530.6,2143.7 1533.2,2143.6 1535.8,2142.1 1538.3,2143.4 1540.9,2145.2 1543.4,2148.4 1546.0,2145.1 1548.5,2150.0 1551.1,2143.6 1553.7,2140.8 1556.2,2145.5 1558.8,2147.8 1561.3,2146.4 1563.9,2146.9 1566.4,2146.6 1569.0,2146.6 1571.6,2144.2 1574.1,2146.3 1576.7,2149.1 1579.2,2148.8 1581.8,2148.0 1584.3,2150.9 1586.9,2149.2 1589.5,2146.1 1592.0,2149.1 1594.6,2148.5 1597.1,2148.6 1599.7,2146.7 1602.2,2149.3 1604.8,2149.0 1607.4,2149.7 1609.9,2152.3 1612.5,2150.4 1615.0,2151.3 1617.6,2151.9 1620.1,2146.1 1622.7,2155.9 1625.3,2155.2 1627.8,2150.0 1630.4,2151.3 1632.9,2150.0 1635.5,2150.8 1638.0,2152.2 1640.6,2152.4 1643.2,2154.7 1645.7,2149.9 1648.3,2151.7 1650.8,2152.1 1653.4,2153.4 1656.0,2143.1 1658.5,2151.4 1661.1,2153.9 1663.6,2154.3 1666.2,2152.0 1668.7,2152.8 1671.3,2154.4 1673.9,2154.5 1676.4,2153.2 1679.0,2153.3 1681.5,2152.0 1684.1,2156.7 1686.6,2154.6 1689.2,2155.9 1691.8,2152.3 1694.3,2153.5 1696.9,2156.0 1699.4,2154.3 1702.0,2154.5 1704.5,2151.0 1707.1,2155.9 1709.7,2155.9 1712.2,2154.2 1714.8,2155.2 1717.3,2155.9 1719.9,2155.2 1722.4,2156.1 1725.0,2152.6 1727.6,2155.1 1730.1,2156.0 1732.7,2156.6 1735.2,2157.6 1737.8,2157.0 1740.4,2156.8 1742.9,2153.3 1745.5,2156.0 1748.0,2156.6 1750.6,2157.1 1753.1,2161.0 1755.7,2157.8 1758.3,2156.6 1760.8,2156.6 1763.4,2154.6 1765.9,2150.4 1768.5,2158.0 1771.0,2158.7 1773.6,2160.3 1776.2,2157.1 1778.7,2151.5 1781.3,2160.1 1783.8,2157.6 1786.4,2157.5 1788.9,2152.5 1791.5,2159.5" stroke="#C49816" stroke-width="5.0" fill="none" stroke-linejoin="round" stroke-linecap="butt"/>
<path d="M257.0,2154.3 259.6,2152.7 262.1,2151.9 264.7,2149.2 267.2,2149.4 269.8,2143.2 272.3,2145.0 274.9,2137.8 277.5,2139.4 280.0,2138.1 282.6,2135.5 285.1,2132.7 287.7,2132.4 290.2,2130.6 292.8,2131.4 295.4,2126.8 297.9,2126.4 300.5,2127.2 303.0,2124.8 305.6,2126.1 308.1,2123.6 310.7,2120.4 313.3,2120.3 315.8,2121.2 318.4,2113.7 320.9,2117.9 323.5,2116.4 326.1,2120.9 328.6,2112.7 331.2,2115.9 333.7,2111.2 336.3,2111.2 338.8,2114.4 341.4,2108.4 344.0,2109.6 346.5,2107.9 349.1,2106.7 351.6,2105.2 354.2,2100.9 356.7,2102.0 359.3,2103.9 361.9,2099.9 364.4,2088.7 367.0,2095.6 369.5,2089.0 372.1,2092.5 374.6,2092.9 377.2,2087.8 379.8,2093.2 382.3,2094.3 384.9,2092.3 387.4,2091.3 390.0,2092.1 392.5,2093.8 395.1,2093.9 397.7,2101.6 400.2,2096.5 402.8,2099.1 405.3,2097.1 407.9,2091.5 410.5,2095.8 413.0,2095.5 415.6,2094.1 418.1,2089.6 420.7,2083.4 423.2,2079.4 425.8,2079.0 428.4,2073.1 430.9,2070.6 433.5,2063.2 436.0,2057.6 438.6,2048.6 441.1,2034.9 443.7,2032.1 446.3,2033.5 448.8,2030.6 451.4,2029.7 453.9,2031.0 456.5,2027.7 459.0,2030.5 461.6,2019.9 464.2,2025.7 466.7,2031.3 469.3,2029.0 471.8,2028.3 474.4,2019.0 476.9,2029.6 479.5,2027.7 482.1,2021.4 484.6,2022.9 487.2,2019.7 489.7,2028.9 492.3,2030.5 494.8,2030.4 497.4,2031.0 500.0,2032.0 502.5,2030.1 505.1,2032.2 507.6,2030.5 510.2,2030.0 512.8,2027.5 515.3,2025.9 517.9,2029.1 520.4,2028.2 523.0,2022.5 525.5,2022.8 528.1,2022.6 530.7,2017.9 533.2,2017.5 535.8,2016.2 538.3,2008.5 540.9,2020.0 543.4,2013.0 546.0,2014.1 548.6,2006.7 551.1,2010.7 553.7,2013.5 556.2,2011.6 558.8,2011.0 561.3,2019.2 563.9,2024.3 566.5,2016.8 569.0,2028.0 571.6,2025.9 574.1,2024.4 576.7,2026.9 579.2,2032.8 581.8,2032.7 584.4,2029.0 586.9,2033.6 589.5,2030.6 592.0,2034.5 594.6,2034.6 597.1,2034.9 599.7,2034.3 602.3,2037.3 604.8,2044.8 607.4,2038.5 609.9,2037.6 612.5,2034.9 615.0,2042.8 617.6,2034.7 620.2,2038.7 622.7,2039.1 625.3,2033.8 627.8,2037.8 630.4,2039.3 633.0,2032.2 635.5,2035.9 638.1,2023.4 640.6,2034.4 643.2,2033.4 645.7,2038.4 648.3,2022.8 650.9,2032.5 653.4,2032.4 656.0,2032.0 658.5,2037.7 661.1,2033.4 663.6,2033.1 666.2,2026.7 668.8,2029.8 671.3,2034.9 673.9,2037.9 676.4,2031.9 679.0,2035.9 681.5,2041.1 684.1,2034.9 686.7,2028.5 689.2,2037.8 691.8,2037.5 694.3,2038.5 696.9,2036.4 699.4,2042.4 702.0,2036.9 704.6,2044.5 707.1,2043.2 709.7,2041.0 712.2,2045.3 714.8,2035.6 717.4,2051.3 719.9,2049.3 722.5,2053.5 725.0,2039.8 727.6,2046.7 730.1,2054.5 732.7,2048.6 735.3,2052.0 737.8,2050.1 740.4,2058.9 742.9,2055.0 745.5,2057.8 748.0,2051.4 750.6,2058.4 753.2,2060.8 755.7,2057.1 758.3,2058.0 760.8,2056.6 763.4,2059.5 765.9,2055.8 768.5,2065.8 771.1,2058.6 773.6,2059.8 776.2,2058.9 778.7,2060.2 781.3,2059.6 783.8,2069.3 786.4,2060.4 789.0,2061.1 791.5,2067.4 794.1,2066.8 796.6,2063.2 799.2,2068.1 801.7,2065.1 804.3,2060.2 806.9,2072.2 809.4,2073.3 812.0,2072.2 814.5,2074.8 817.1,2074.1 819.6,2071.1 822.2,2076.6 824.8,2079.1 827.3,2080.8 829.9,2079.8 832.4,2087.6 835.0,2082.6 837.6,2081.8 840.1,2080.7 842.7,2078.8 845.2,2087.8 847.8,2085.6 850.3,2089.4 852.9,2089.6 855.5,2091.3 858.0,2094.8 860.6,2094.4 863.1,2091.8 865.7,2093.4 868.2,2094.8 870.8,2094.9 873.4,2094.5 875.9,2094.8 878.5,2097.0 881.0,2096.9 883.6,2092.6 886.1,2089.4 888.7,2097.9 891.3,2097.0 893.8,2097.4 896.4,2100.0 898.9,2103.6 901.5,2099.1 904.0,2101.7 906.6,2103.6 909.2,2101.2 911.7,2105.2 914.3,2099.4 916.8,2105.2 919.4,2101.2 922.0,2100.4 924.5,2096.2 927.1,2100.6 929.6,2104.1 932.2,2100.6 934.7,2099.6 937.3,2098.9 939.9,2098.6 942.4,2097.0 945.0,2103.9 947.5,2100.5 950.1,2101.2 952.6,2110.6 955.2,2102.0 957.8,2102.3 960.3,2101.8 962.9,2101.9 965.4,2103.0 968.0,2100.5 970.5,2107.4 973.1,2100.7 975.7,2099.0 978.2,2100.5 980.8,2101.2 983.3,2103.3 985.9,2100.5 988.4,2103.4 991.0,2098.8 993.6,2104.3 996.1,2099.3 998.7,2099.2 1001.2,2100.3 1003.8,2103.1 1006.3,2101.5 1008.9,2098.9 1011.5,2095.2 1014.0,2099.8 1016.6,2101.0 1019.1,2097.7 1021.7,2094.1 1024.2,2098.6 1026.8,2096.4 1029.4,2092.1 1031.9,2098.5 1034.5,2097.6 1037.0,2096.8 1039.6,2097.3 1042.2,2095.0 1044.7,2097.6 1047.3,2095.7 1049.8,2094.4 1052.4,2099.2 1054.9,2094.7 1057.5,2097.1 1060.1,2095.2 1062.6,2098.0 1065.2,2096.8 1067.7,2091.9 1070.3,2096.2 1072.8,2098.7 1075.4,2097.7 1078.0,2094.1 1080.5,2097.0 1083.1,2091.0 1085.6,2097.7 1088.2,2101.6 1090.7,2093.4 1093.3,2095.1 1095.9,2092.9 1098.4,2095.3 1101.0,2090.1 1103.5,2092.3 1106.1,2095.4 1108.6,2094.0 1111.2,2086.9 1113.8,2097.0 1116.3,2097.8 1118.9,2092.9 1121.4,2091.6 1124.0,2095.8 1126.6,2091.4 1129.1,2094.0 1131.7,2095.9 1134.2,2090.5 1136.8,2096.1 1139.3,2092.6 1141.9,2095.6 1144.5,2092.0 1147.0,2093.4 1149.6,2094.0 1152.1,2094.4 1154.7,2093.7 1157.2,2094.1 1159.8,2092.3 1162.4,2092.0 1164.9,2097.1 1167.5,2088.8 1170.0,2101.7 1172.6,2095.1 1175.1,2094.6 1177.7,2093.1 1180.3,2093.8 1182.8,2092.7 1185.4,2097.4 1187.9,2089.0 1190.5,2099.6 1193.0,2096.3 1195.6,2093.8 1198.2,2095.5 1200.7,2090.4 1203.3,2093.9 1205.8,2094.7 1208.4,2095.2 1210.9,2095.3 1213.5,2094.9 1216.1,2093.1 1218.6,2092.7 1221.2,2095.3 1223.7,2090.0 1226.3,2089.2 1228.8,2093.0 1231.4,2093.6 1234.0,2095.1 1236.5,2095.8 1239.1,2096.8 1241.6,2096.5 1244.2,2097.7 1246.8,2104.0 1249.3,2097.4 1251.9,2098.6 1254.4,2103.4 1257.0,2098.7 1259.5,2098.9 1262.1,2100.2 1264.7,2104.5 1267.2,2098.4 1269.8,2100.9 1272.3,2100.9 1274.9,2101.8 1277.4,2100.9 1280.0,2103.5 1282.6,2106.9 1285.1,2108.9 1287.7,2101.7 1290.2,2104.8 1292.8,2104.2 1295.3,2107.9 1297.9,2099.7 1300.5,2105.4 1303.0,2109.2 1305.6,2106.3 1308.1,2106.9 1310.7,2109.9 1313.2,2108.7 1315.8,2109.1 1318.4,2108.4 1320.9,2111.7 1323.5,2110.8 1326.0,2111.8 1328.6,2100.3 1331.2,2111.6 1333.7,2112.1 1336.3,2114.6 1338.8,2115.4 1341.4,2114.3 1343.9,2115.5 1346.5,2117.1 1349.1,2114.5 1351.6,2117.2 1354.2,2116.9 1356.7,2117.3 1359.3,2117.7 1361.8,2121.1 1364.4,2117.3 1367.0,2121.6 1369.5,2117.4 1372.1,2121.7 1374.6,2122.4 1377.2,2120.7 1379.7,2122.8 1382.3,2124.6 1384.9,2126.3 1387.4,2124.3 1390.0,2121.6 1392.5,2122.8 1395.1,2120.0 1397.6,2128.6 1400.2,2127.8 1402.8,2129.1 1405.3,2126.8 1407.9,2127.9 1410.4,2127.3 1413.0,2134.7 1415.5,2130.0 1418.1,2131.6 1420.7,2129.5 1423.2,2132.5 1425.8,2131.2 1428.3,2127.0 1430.9,2132.4 1433.5,2131.4 1436.0,2132.5 1438.6,2133.9 1441.1,2135.1 1443.7,2132.1 1446.2,2134.4 1448.8,2135.9 1451.4,2134.8 1453.9,2135.0 1456.5,2133.9 1459.0,2140.8 1461.6,2138.3 1464.1,2135.3 1466.7,2138.0 1469.3,2139.0 1471.8,2138.7 1474.4,2140.1 1476.9,2144.4 1479.5,2141.1 1482.0,2135.1 1484.6,2141.7 1487.2,2141.2 1489.7,2140.2 1492.3,2142.9 1494.8,2144.7 1497.4,2144.8 1499.9,2144.3 1502.5,2147.7 1505.1,2145.7 1507.6,2147.4 1510.2,2145.4 1512.7,2143.4 1515.3,2146.6 1517.8,2148.0 1520.4,2147.4 1523.0,2146.4 1525.5,2145.3 1528.1,2149.6 1530.6,2148.1 1533.2,2145.1 1535.8,2148.8 1538.3,2150.4 1540.9,2147.1 1543.4,2148.5 1546.0,2147.7 1548.5,2149.7 1551.1,2149.9 1553.7,2148.6 1556.2,2148.6 1558.8,2149.7 1561.3,2154.1 1563.9,2150.4 1566.4,2150.9 1569.0,2146.0 1571.6,2150.4 1574.1,2149.8 1576.7,2145.4 1579.2,2148.6 1581.8,2150.6 1584.3,2150.9 1586.9,2149.3 1589.5,2151.4 1592.0,2152.7 1594.6,2151.8 1597.1,2151.4 1599.7,2150.8 1602.2,2148.5 1604.8,2153.7 1607.4,2153.7 1609.9,2152.0 1612.5,2151.0 1615.0,2155.4 1617.6,2151.5 1620.1,2158.3 1622.7,2153.4 1625.3,2151.8 1627.8,2153.8 1630.4,2155.3 1632.9,2153.5 1635.5,2154.6 1638.0,2155.0 1640.6,2152.8 1643.2,2152.9 1645.7,2152.9 1648.3,2157.7 1650.8,2157.6 1653.4,2153.6 1656.0,2156.2 1658.5,2156.3 1661.1,2151.9 1663.6,2157.1 1666.2,2152.0 1668.7,2153.5 1671.3,2156.6 1673.9,2154.6 1676.4,2157.0 1679.0,2155.2 1681.5,2157.3 1684.1,2157.3 1686.6,2156.9 1689.2,2156.9 1691.8,2156.3 1694.3,2157.4 1696.9,2156.0 1699.4,2157.6 1702.0,2158.0 1704.5,2157.8 1707.1,2156.5 1709.7,2158.7 1712.2,2157.2 1714.8,2157.3 1717.3,2160.0 1719.9,2156.2 1722.4,2155.6 1725.0,2156.9 1727.6,2158.1 1730.1,2161.2 1732.7,2160.2 1735.2,2160.4 1737.8,2159.6 1740.4,2158.7 1742.9,2159.8 1745.5,2157.6 1748.0,2159.5 1750.6,2159.0 1753.1,2159.0 1755.7,2159.6 1758.3,2159.1 1760.8,2156.1 1763.4,2162.0 1765.9,2159.4 1768.5,2160.2 1771.0,2157.3 1773.6,2158.3 1776.2,2159.7 1778.7,2159.5 1781.3,2160.1 1783.8,2161.6 1786.4,2160.8 1788.9,2153.5 1791.5,2158.4" stroke="#4E7CB2" stroke-width="4.6" fill="none" stroke-linejoin="round" stroke-linecap="butt"/>
<path d="M257.0,2144.5 259.6,2141.6 262.1,2135.6 264.7,2134.3 267.2,2131.2 269.8,2127.7 272.3,2127.3 274.9,2121.4 277.5,2117.1 280.0,2116.0 282.6,2114.6 285.1,2113.1 287.7,2109.1 290.2,2106.7 292.8,2105.8 295.4,2099.2 297.9,2102.8 300.5,2105.0 303.0,2098.3 305.6,2099.3 308.1,2098.3 310.7,2094.4 313.3,2098.8 315.8,2102.9 318.4,2084.9 320.9,2086.5 323.5,2085.0 326.1,2088.2 328.6,2083.9 331.2,2082.4 333.7,2081.8 336.3,2078.0 338.8,2076.1 341.4,2069.1 344.0,2072.6 346.5,2070.4 349.1,2067.9 351.6,2061.9 354.2,2066.4 356.7,2063.6 359.3,2062.0 361.9,2053.9 364.4,2058.3 367.0,2060.8 369.5,2073.3 372.1,2043.0 374.6,2060.6 377.2,2053.2 379.8,2068.7 382.3,2060.3 384.9,2060.2 387.4,2059.6 390.0,2061.0 392.5,2065.4 395.1,2064.4 397.7,2065.1 400.2,2062.9 402.8,2068.6 405.3,2065.1 407.9,2065.1 410.5,2065.5 413.0,2062.1 415.6,2060.8 418.1,2059.4 420.7,2050.3 423.2,2055.4 425.8,2052.9 428.4,2053.0 430.9,2042.7 433.5,2040.1 436.0,2029.9 438.6,2018.5 441.1,2014.5 443.7,2010.7 446.3,1999.7 448.8,2000.0 451.4,1993.7 453.9,1994.6 456.5,1974.8 459.0,1988.4 461.6,1990.0 464.2,1990.1 466.7,1990.4 469.3,1980.6 471.8,1988.3 474.4,1994.0 476.9,1988.8 479.5,1990.8 482.1,1986.3 484.6,1988.4 487.2,1994.3 489.7,1997.1 492.3,1995.8 494.8,1991.1 497.4,1998.4 500.0,1989.8 502.5,2000.6 505.1,1990.2 507.6,1997.7 510.2,1999.7 512.8,2004.7 515.3,1998.0 517.9,1997.8 520.4,2000.6 523.0,1997.8 525.5,2001.4 528.1,1999.4 530.7,1995.1 533.2,1997.0 535.8,1991.9 538.3,1978.2 540.9,1992.0 543.4,2000.9 546.0,1989.8 548.6,1991.6 551.1,1994.7 553.7,1994.9 556.2,1995.5 558.8,1994.7 561.3,1992.8 563.9,1984.7 566.5,1988.6 569.0,1993.7 571.6,1992.0 574.1,1994.0 576.7,1994.5 579.2,1995.6 581.8,2000.4 584.4,1999.1 586.9,1989.9 589.5,1996.0 592.0,1997.5 594.6,2003.6 597.1,1998.3 599.7,1996.6 602.3,2000.2 604.8,2000.2 607.4,2003.3 609.9,2004.0 612.5,2007.5 615.0,2004.1 617.6,2007.8 620.2,2009.6 622.7,2005.1 625.3,2007.5 627.8,2006.9 630.4,2009.0 633.0,2008.2 635.5,2016.5 638.1,2014.3 640.6,2007.9 643.2,2008.0 645.7,2008.6 648.3,2011.3 650.9,2010.9 653.4,2010.3 656.0,2007.7 658.5,2008.3 661.1,2010.9 663.6,2012.2 666.2,2018.8 668.8,2009.6 671.3,2008.9 673.9,2015.5 676.4,2015.7 679.0,2012.2 681.5,2015.5 684.1,2017.5 686.7,2015.8 689.2,2013.7 691.8,2013.6 694.3,2017.9 696.9,2015.5 699.4,2017.3 702.0,2014.4 704.6,2015.8 707.1,2016.9 709.7,2028.0 712.2,2017.1 714.8,2019.7 717.4,2024.1 719.9,2026.0 722.5,2022.9 725.0,2023.6 727.6,2022.9 730.1,2024.0 732.7,2026.1 735.3,2026.9 737.8,2028.9 740.4,2014.5 742.9,2024.7 745.5,2025.9 748.0,2027.3 750.6,2028.5 753.2,2029.5 755.7,2025.9 758.3,2027.7 760.8,2032.1 763.4,2033.1 765.9,2029.2 768.5,2032.6 771.1,2043.4 773.6,2039.4 776.2,2041.0 778.7,2037.0 781.3,2039.0 783.8,2040.8 786.4,2046.2 789.0,2041.8 791.5,2043.0 794.1,2048.5 796.6,2047.3 799.2,2047.1 801.7,2050.5 804.3,2045.3 806.9,2058.9 809.4,2056.6 812.0,2061.4 814.5,2062.4 817.1,2060.4 819.6,2063.1 822.2,2061.0 824.8,2065.8 827.3,2066.3 829.9,2070.8 832.4,2072.1 835.0,2073.1 837.6,2071.1 840.1,2073.2 842.7,2070.8 845.2,2077.1 847.8,2071.1 850.3,2075.9 852.9,2082.3 855.5,2080.7 858.0,2082.4 860.6,2077.9 863.1,2073.1 865.7,2078.9 868.2,2082.6 870.8,2083.7 873.4,2083.6 875.9,2082.4 878.5,2084.9 881.0,2084.8 883.6,2088.9 886.1,2088.5 888.7,2086.7 891.3,2088.6 893.8,2087.9 896.4,2087.2 898.9,2088.6 901.5,2082.2 904.0,2089.7 906.6,2089.9 909.2,2090.5 911.7,2090.6 914.3,2090.9 916.8,2092.2 919.4,2090.4 922.0,2092.7 924.5,2090.8 927.1,2093.4 929.6,2091.4 932.2,2093.0 934.7,2093.4 937.3,2091.4 939.9,2092.4 942.4,2094.5 945.0,2092.5 947.5,2097.1 950.1,2094.1 952.6,2095.8 955.2,2083.1 957.8,2093.6 960.3,2095.7 962.9,2094.4 965.4,2089.6 968.0,2094.7 970.5,2091.6 973.1,2091.0 975.7,2094.8 978.2,2095.4 980.8,2091.7 983.3,2088.7 985.9,2092.8 988.4,2094.7 991.0,2093.3 993.6,2093.2 996.1,2095.5 998.7,2093.1 1001.2,2094.5 1003.8,2093.2 1006.3,2095.1 1008.9,2093.0 1011.5,2092.4 1014.0,2094.0 1016.6,2094.4 1019.1,2094.5 1021.7,2092.8 1024.2,2097.4 1026.8,2096.0 1029.4,2091.4 1031.9,2090.9 1034.5,2093.0 1037.0,2094.1 1039.6,2092.9 1042.2,2101.5 1044.7,2093.0 1047.3,2093.7 1049.8,2090.6 1052.4,2092.6 1054.9,2091.7 1057.5,2092.9 1060.1,2090.8 1062.6,2090.8 1065.2,2090.2 1067.7,2091.6 1070.3,2091.0 1072.8,2088.5 1075.4,2090.4 1078.0,2088.9 1080.5,2089.0 1083.1,2086.8 1085.6,2086.4 1088.2,2085.0 1090.7,2084.7 1093.3,2094.2 1095.9,2088.5 1098.4,2090.4 1101.0,2087.5 1103.5,2087.8 1106.1,2084.4 1108.6,2084.3 1111.2,2084.2 1113.8,2086.3 1116.3,2086.3 1118.9,2083.6 1121.4,2085.3 1124.0,2087.8 1126.6,2086.2 1129.1,2085.6 1131.7,2090.2 1134.2,2086.9 1136.8,2089.3 1139.3,2078.0 1141.9,2087.5 1144.5,2085.7 1147.0,2085.9 1149.6,2080.7 1152.1,2086.2 1154.7,2088.5 1157.2,2087.0 1159.8,2086.3 1162.4,2084.6 1164.9,2086.0 1167.5,2088.2 1170.0,2085.3 1172.6,2085.3 1175.1,2084.8 1177.7,2086.3 1180.3,2083.7 1182.8,2087.5 1185.4,2088.5 1187.9,2086.1 1190.5,2082.6 1193.0,2092.2 1195.6,2086.0 1198.2,2084.3 1200.7,2087.2 1203.3,2082.9 1205.8,2087.9 1208.4,2085.7 1210.9,2084.5 1213.5,2084.3 1216.1,2086.8 1218.6,2087.0 1221.2,2087.6 1223.7,2091.8 1226.3,2093.6 1228.8,2090.8 1231.4,2088.8 1234.0,2090.7 1236.5,2090.2 1239.1,2090.4 1241.6,2088.7 1244.2,2090.6 1246.8,2103.5 1249.3,2092.1 1251.9,2090.6 1254.4,2093.9 1257.0,2094.7 1259.5,2093.7 1262.1,2098.4 1264.7,2089.6 1267.2,2096.1 1269.8,2103.1 1272.3,2097.8 1274.9,2097.9 1277.4,2103.7 1280.0,2098.1 1282.6,2100.5 1285.1,2097.9 1287.7,2099.3 1290.2,2100.4 1292.8,2095.0 1295.3,2100.4 1297.9,2101.1 1300.5,2102.9 1303.0,2103.5 1305.6,2103.7 1308.1,2104.3 1310.7,2105.9 1313.2,2106.9 1315.8,2110.6 1318.4,2106.5 1320.9,2104.9 1323.5,2106.4 1326.0,2107.3 1328.6,2104.3 1331.2,2107.7 1333.7,2110.8 1336.3,2117.4 1338.8,2109.5 1341.4,2112.6 1343.9,2112.1 1346.5,2114.5 1349.1,2110.8 1351.6,2113.8 1354.2,2116.2 1356.7,2115.9 1359.3,2116.7 1361.8,2115.3 1364.4,2112.7 1367.0,2118.1 1369.5,2119.3 1372.1,2119.5 1374.6,2118.2 1377.2,2122.2 1379.7,2110.3 1382.3,2119.6 1384.9,2121.3 1387.4,2119.9 1390.0,2120.6 1392.5,2124.4 1395.1,2122.5 1397.6,2124.6 1400.2,2124.7 1402.8,2128.8 1405.3,2126.9 1407.9,2125.9 1410.4,2125.3 1413.0,2125.1 1415.5,2125.0 1418.1,2127.9 1420.7,2130.9 1423.2,2125.4 1425.8,2127.3 1428.3,2130.0 1430.9,2130.9 1433.5,2133.0 1436.0,2137.7 1438.6,2132.8 1441.1,2131.4 1443.7,2133.6 1446.2,2133.9 1448.8,2134.1 1451.4,2134.8 1453.9,2135.1 1456.5,2134.2 1459.0,2136.4 1461.6,2136.1 1464.1,2137.5 1466.7,2139.4 1469.3,2139.9 1471.8,2138.3 1474.4,2139.5 1476.9,2138.2 1479.5,2139.5 1482.0,2140.1 1484.6,2144.8 1487.2,2147.3 1489.7,2144.9 1492.3,2140.9 1494.8,2142.7 1497.4,2143.3 1499.9,2144.5 1502.5,2148.2 1505.1,2143.3 1507.6,2143.9 1510.2,2144.5 1512.7,2146.2 1515.3,2145.9 1517.8,2144.7 1520.4,2145.2 1523.0,2145.7 1525.5,2146.0 1528.1,2145.3 1530.6,2151.6 1533.2,2147.9 1535.8,2149.9 1538.3,2147.3 1540.9,2145.8 1543.4,2144.9 1546.0,2146.8 1548.5,2145.6 1551.1,2148.5 1553.7,2148.7 1556.2,2150.0 1558.8,2148.5 1561.3,2151.2 1563.9,2148.8 1566.4,2149.7 1569.0,2148.9 1571.6,2157.5 1574.1,2149.0 1576.7,2150.3 1579.2,2153.1 1581.8,2152.9 1584.3,2149.5 1586.9,2147.8 1589.5,2151.7 1592.0,2149.6 1594.6,2147.3 1597.1,2153.6 1599.7,2150.9 1602.2,2150.6 1604.8,2150.4 1607.4,2150.5 1609.9,2152.3 1612.5,2150.8 1615.0,2151.4 1617.6,2151.8 1620.1,2150.9 1622.7,2155.0 1625.3,2151.5 1627.8,2152.4 1630.4,2148.7 1632.9,2154.2 1635.5,2152.4 1638.0,2152.4 1640.6,2150.8 1643.2,2152.5 1645.7,2153.0 1648.3,2153.6 1650.8,2152.4 1653.4,2152.8 1656.0,2155.0 1658.5,2153.3 1661.1,2154.8 1663.6,2154.5 1666.2,2155.4 1668.7,2149.4 1671.3,2154.0 1673.9,2154.7 1676.4,2156.5 1679.0,2152.0 1681.5,2157.1 1684.1,2155.6 1686.6,2156.1 1689.2,2148.8 1691.8,2157.2 1694.3,2155.6 1696.9,2154.8 1699.4,2155.0 1702.0,2157.7 1704.5,2153.1 1707.1,2155.8 1709.7,2157.0 1712.2,2153.6 1714.8,2155.0 1717.3,2156.3 1719.9,2160.0 1722.4,2157.8 1725.0,2155.6 1727.6,2155.2 1730.1,2157.9 1732.7,2158.0 1735.2,2161.6 1737.8,2160.5 1740.4,2157.5 1742.9,2155.6 1745.5,2157.3 1748.0,2154.7 1750.6,2158.0 1753.1,2158.9 1755.7,2157.5 1758.3,2156.2 1760.8,2156.5 1763.4,2159.1 1765.9,2157.8 1768.5,2158.4 1771.0,2158.3 1773.6,2158.9 1776.2,2158.7 1778.7,2158.5 1781.3,2158.9 1783.8,2160.3 1786.4,2158.5 1788.9,2152.8 1791.5,2163.5" stroke="#080808" stroke-width="5.4" fill="none" stroke-linejoin="round" stroke-linecap="butt"/>
<path d="M257.0,2161.9 259.6,2161.7 262.1,2158.7 264.7,2156.4 267.2,2158.7 269.8,2157.1 272.3,2155.8 274.9,2156.1 277.5,2153.6 280.0,2150.3 282.6,2161.3 285.1,2151.9 287.7,2148.5 290.2,2148.5 292.8,2148.2 295.4,2145.0 297.9,2145.2 300.5,2142.9 303.0,2141.4 305.6,2143.6 308.1,2140.9 310.7,2143.8 313.3,2136.9 315.8,2140.1 318.4,2135.6 320.9,2134.9 323.5,2136.7 326.1,2132.1 328.6,2134.3 331.2,2133.5 333.7,2133.6 336.3,2132.8 338.8,2129.5 341.4,2129.1 344.0,2126.3 346.5,2124.8 349.1,2126.2 351.6,2119.7 354.2,2124.7 356.7,2121.3 359.3,2117.9 361.9,2117.3 364.4,2115.9 367.0,2110.2 369.5,2112.9 372.1,2119.1 374.6,2111.9 377.2,2115.4 379.8,2114.1 382.3,2108.5 384.9,2113.0 387.4,2114.6 390.0,2113.2 392.5,2120.8 395.1,2121.4 397.7,2125.5 400.2,2128.2 402.8,2129.4 405.3,2130.0 407.9,2128.9 410.5,2130.9 413.0,2131.8 415.6,2131.1 418.1,2132.1 420.7,2134.1 423.2,2127.2 425.8,2119.6 428.4,2113.6 430.9,2108.7 433.5,2094.7 436.0,2094.5 438.6,2074.5 441.1,2079.2 443.7,2075.1 446.3,2070.7 448.8,2071.1 451.4,2065.2 453.9,2062.2 456.5,2054.3 459.0,2062.2 461.6,2066.5 464.2,2058.5 466.7,2061.2 469.3,2067.5 471.8,2068.9 474.4,2065.9 476.9,2072.5 479.5,2066.5 482.1,2072.7 484.6,2069.6 487.2,2076.6 489.7,2075.3 492.3,2077.6 494.8,2072.5 497.4,2076.7 500.0,2075.2 502.5,2080.2 505.1,2073.4 507.6,2076.1 510.2,2069.6 512.8,2069.8 515.3,2067.0 517.9,2068.7 520.4,2069.4 523.0,2071.8 525.5,2071.0 528.1,2074.3 530.7,2064.9 533.2,2070.1 535.8,2067.3 538.3,2067.4 540.9,2062.3 543.4,2061.3 546.0,2066.2 548.6,2072.4 551.1,2066.1 553.7,2066.6 556.2,2067.3 558.8,2064.2 561.3,2069.9 563.9,2064.7 566.5,2066.8 569.0,2067.2 571.6,2072.1 574.1,2071.3 576.7,2068.6 579.2,2063.3 581.8,2065.1 584.4,2065.0 586.9,2072.3 589.5,2071.8 592.0,2069.6 594.6,2068.7 597.1,2077.5 599.7,2077.8 602.3,2068.2 604.8,2074.3 607.4,2077.8 609.9,2075.0 612.5,2078.5 615.0,2067.9 617.6,2075.7 620.2,2074.4 622.7,2079.0 625.3,2076.6 627.8,2078.6 630.4,2077.2 633.0,2078.1 635.5,2078.6 638.1,2079.7 640.6,2076.3 643.2,2079.4 645.7,2076.9 648.3,2074.7 650.9,2078.9 653.4,2080.2 656.0,2082.2 658.5,2080.7 661.1,2078.9 663.6,2078.5 666.2,2081.8 668.8,2079.7 671.3,2086.6 673.9,2081.8 676.4,2082.3 679.0,2084.6 681.5,2091.2 684.1,2082.6 686.7,2079.5 689.2,2083.1 691.8,2091.7 694.3,2087.2 696.9,2086.5 699.4,2081.3 702.0,2082.2 704.6,2090.8 707.1,2084.0 709.7,2085.7 712.2,2084.4 714.8,2084.7 717.4,2087.4 719.9,2085.5 722.5,2083.6 725.0,2085.8 727.6,2086.0 730.1,2085.6 732.7,2082.6 735.3,2090.3 737.8,2085.5 740.4,2085.5 742.9,2082.1 745.5,2088.7 748.0,2087.7 750.6,2089.8 753.2,2090.3 755.7,2088.9 758.3,2084.9 760.8,2088.6 763.4,2090.9 765.9,2089.0 768.5,2089.9 771.1,2087.1 773.6,2089.7 776.2,2091.7 778.7,2094.5 781.3,2087.8 783.8,2105.3 786.4,2088.4 789.0,2096.0 791.5,2094.2 794.1,2095.1 796.6,2091.3 799.2,2096.8 801.7,2099.5 804.3,2099.4 806.9,2094.8 809.4,2103.5 812.0,2100.7 814.5,2099.8 817.1,2101.4 819.6,2102.8 822.2,2105.2 824.8,2104.3 827.3,2096.8 829.9,2101.9 832.4,2103.5 835.0,2114.4 837.6,2107.4 840.1,2109.4 842.7,2108.5 845.2,2108.9 847.8,2112.6 850.3,2113.3 852.9,2113.5 855.5,2114.4 858.0,2110.9 860.6,2114.7 863.1,2115.8 865.7,2113.3 868.2,2112.3 870.8,2112.9 873.4,2113.5 875.9,2115.4 878.5,2124.0 881.0,2116.6 883.6,2118.3 886.1,2116.8 888.7,2117.8 891.3,2124.2 893.8,2118.4 896.4,2118.2 898.9,2116.2 901.5,2117.9 904.0,2121.4 906.6,2127.0 909.2,2118.3 911.7,2120.0 914.3,2120.8 916.8,2121.2 919.4,2125.1 922.0,2116.7 924.5,2123.5 927.1,2116.7 929.6,2121.7 932.2,2130.7 934.7,2122.3 937.3,2123.3 939.9,2122.7 942.4,2120.8 945.0,2122.4 947.5,2125.2 950.1,2120.1 952.6,2122.4 955.2,2124.7 957.8,2121.9 960.3,2122.0 962.9,2123.0 965.4,2125.1 968.0,2123.2 970.5,2123.6 973.1,2118.6 975.7,2125.4 978.2,2121.6 980.8,2119.8 983.3,2126.6 985.9,2121.9 988.4,2121.6 991.0,2122.0 993.6,2119.1 996.1,2120.4 998.7,2120.5 1001.2,2121.7 1003.8,2117.3 1006.3,2117.2 1008.9,2119.8 1011.5,2118.8 1014.0,2118.5 1016.6,2120.1 1019.1,2121.9 1021.7,2114.1 1024.2,2118.1 1026.8,2118.8 1029.4,2116.6 1031.9,2118.7 1034.5,2119.1 1037.0,2116.8 1039.6,2121.0 1042.2,2115.4 1044.7,2120.8 1047.3,2117.3 1049.8,2119.1 1052.4,2116.3 1054.9,2116.8 1057.5,2116.6 1060.1,2115.5 1062.6,2111.3 1065.2,2113.1 1067.7,2112.3 1070.3,2112.6 1072.8,2112.8 1075.4,2109.3 1078.0,2112.0 1080.5,2109.5 1083.1,2110.3 1085.6,2112.1 1088.2,2097.4 1090.7,2100.4 1093.3,2109.0 1095.9,2107.7 1098.4,2107.1 1101.0,2108.7 1103.5,2106.9 1106.1,2113.9 1108.6,2113.1 1111.2,2102.7 1113.8,2103.9 1116.3,2103.8 1118.9,2104.8 1121.4,2107.4 1124.0,2107.2 1126.6,2106.7 1129.1,2105.0 1131.7,2108.2 1134.2,2104.9 1136.8,2109.0 1139.3,2106.3 1141.9,2107.1 1144.5,2104.4 1147.0,2107.0 1149.6,2107.8 1152.1,2111.5 1154.7,2108.8 1157.2,2106.1 1159.8,2109.4 1162.4,2112.3 1164.9,2107.7 1167.5,2105.8 1170.0,2104.9 1172.6,2107.0 1175.1,2105.6 1177.7,2105.7 1180.3,2102.3 1182.8,2109.5 1185.4,2104.3 1187.9,2112.5 1190.5,2106.2 1193.0,2107.6 1195.6,2105.8 1198.2,2107.1 1200.7,2105.9 1203.3,2109.1 1205.8,2105.0 1208.4,2106.4 1210.9,2108.8 1213.5,2110.0 1216.1,2110.8 1218.6,2110.4 1221.2,2115.7 1223.7,2107.5 1226.3,2108.8 1228.8,2109.8 1231.4,2109.5 1234.0,2110.6 1236.5,2112.5 1239.1,2111.4 1241.6,2110.8 1244.2,2113.1 1246.8,2108.8 1249.3,2111.6 1251.9,2110.2 1254.4,2113.6 1257.0,2115.7 1259.5,2115.1 1262.1,2114.8 1264.7,2116.5 1267.2,2118.0 1269.8,2118.6 1272.3,2125.8 1274.9,2123.6 1277.4,2122.1 1280.0,2119.3 1282.6,2125.1 1285.1,2119.2 1287.7,2122.5 1290.2,2120.9 1292.8,2124.2 1295.3,2120.5 1297.9,2121.7 1300.5,2119.0 1303.0,2123.5 1305.6,2126.0 1308.1,2123.6 1310.7,2126.2 1313.2,2123.9 1315.8,2130.3 1318.4,2130.1 1320.9,2119.8 1323.5,2124.3 1326.0,2123.3 1328.6,2126.8 1331.2,2128.5 1333.7,2129.0 1336.3,2127.8 1338.8,2127.6 1341.4,2129.5 1343.9,2126.6 1346.5,2131.4 1349.1,2125.4 1351.6,2131.2 1354.2,2131.4 1356.7,2130.3 1359.3,2138.8 1361.8,2130.1 1364.4,2129.2 1367.0,2129.4 1369.5,2130.2 1372.1,2133.2 1374.6,2130.1 1377.2,2134.1 1379.7,2133.0 1382.3,2133.3 1384.9,2132.9 1387.4,2135.2 1390.0,2130.4 1392.5,2135.2 1395.1,2135.1 1397.6,2135.2 1400.2,2136.8 1402.8,2130.7 1405.3,2136.6 1407.9,2132.0 1410.4,2136.9 1413.0,2137.0 1415.5,2136.8 1418.1,2137.8 1420.7,2136.5 1423.2,2135.7 1425.8,2135.9 1428.3,2139.9 1430.9,2136.8 1433.5,2138.9 1436.0,2137.4 1438.6,2139.4 1441.1,2140.4 1443.7,2141.3 1446.2,2141.8 1448.8,2141.7 1451.4,2134.6 1453.9,2139.8 1456.5,2142.1 1459.0,2142.3 1461.6,2142.2 1464.1,2141.5 1466.7,2143.2 1469.3,2142.0 1471.8,2143.5 1474.4,2147.0 1476.9,2143.7 1479.5,2141.8 1482.0,2145.4 1484.6,2146.9 1487.2,2146.6 1489.7,2144.9 1492.3,2147.0 1494.8,2141.8 1497.4,2142.3 1499.9,2144.4 1502.5,2150.9 1505.1,2148.2 1507.6,2143.7 1510.2,2147.9 1512.7,2148.4 1515.3,2149.4 1517.8,2147.7 1520.4,2147.7 1523.0,2140.9 1525.5,2144.0 1528.1,2148.6 1530.6,2147.8 1533.2,2144.7 1535.8,2149.4 1538.3,2148.9 1540.9,2149.3 1543.4,2148.6 1546.0,2148.3 1548.5,2149.2 1551.1,2149.9 1553.7,2153.9 1556.2,2147.6 1558.8,2151.4 1561.3,2152.5 1563.9,2150.1 1566.4,2154.9 1569.0,2150.7 1571.6,2153.9 1574.1,2147.9 1576.7,2150.4 1579.2,2152.7 1581.8,2154.1 1584.3,2152.1 1586.9,2153.1 1589.5,2153.4 1592.0,2154.4 1594.6,2151.4 1597.1,2156.5 1599.7,2155.7 1602.2,2154.4 1604.8,2156.8 1607.4,2150.8 1609.9,2153.7 1612.5,2153.5 1615.0,2152.4 1617.6,2152.4 1620.1,2154.7 1622.7,2154.1 1625.3,2153.7 1627.8,2155.3 1630.4,2155.1 1632.9,2158.0 1635.5,2156.2 1638.0,2154.3 1640.6,2155.2 1643.2,2161.7 1645.7,2155.9 1648.3,2158.8 1650.8,2155.5 1653.4,2160.9 1656.0,2157.1 1658.5,2156.7 1661.1,2160.1 1663.6,2156.1 1666.2,2157.4 1668.7,2158.2 1671.3,2157.0 1673.9,2156.0 1676.4,2155.9 1679.0,2149.8 1681.5,2157.4 1684.1,2157.6 1686.6,2157.1 1689.2,2159.3 1691.8,2158.5 1694.3,2157.8 1696.9,2157.7 1699.4,2156.9 1702.0,2160.4 1704.5,2159.4 1707.1,2158.6 1709.7,2157.6 1712.2,2160.2 1714.8,2160.7 1717.3,2162.2 1719.9,2158.3 1722.4,2158.8 1725.0,2157.7 1727.6,2158.7 1730.1,2160.6 1732.7,2159.6 1735.2,2159.8 1737.8,2160.3 1740.4,2159.0 1742.9,2159.1 1745.5,2156.3 1748.0,2158.8 1750.6,2164.6 1753.1,2160.5 1755.7,2159.9 1758.3,2161.0 1760.8,2158.9 1763.4,2160.5 1765.9,2164.4 1768.5,2160.3 1771.0,2160.2 1773.6,2159.7 1776.2,2164.0 1778.7,2157.0 1781.3,2163.8 1783.8,2166.5 1786.4,2160.3 1788.9,2159.9 1791.5,2159.1" stroke="#DEC80A" stroke-width="5.0" fill="none" stroke-linejoin="round" stroke-linecap="butt"/>
<path d="M257.0,2166.5 259.6,2165.7 262.1,2163.7 264.7,2162.6 267.2,2156.8 269.8,2158.2 272.3,2157.3 274.9,2158.0 277.5,2156.4 280.0,2155.4 282.6,2151.7 285.1,2154.4 287.7,2155.5 290.2,2152.2 292.8,2154.8 295.4,2151.7 297.9,2149.6 300.5,2151.7 303.0,2151.4 305.6,2139.6 308.1,2149.9 310.7,2145.6 313.3,2149.7 315.8,2150.4 318.4,2149.2 320.9,2146.8 323.5,2149.8 326.1,2150.4 328.6,2150.1 331.2,2146.9 333.7,2147.9 336.3,2148.5 338.8,2146.1 341.4,2147.4 344.0,2148.0 346.5,2145.5 349.1,2146.9 351.6,2145.1 354.2,2143.8 356.7,2143.5 359.3,2142.3 361.9,2143.1 364.4,2140.8 367.0,2143.8 369.5,2145.9 372.1,2135.0 374.6,2138.2 377.2,2138.0 379.8,2137.2 382.3,2137.1 384.9,2141.9 387.4,2138.1 390.0,2143.5 392.5,2149.7 395.1,2146.5 397.7,2147.8 400.2,2151.0 402.8,2150.7 405.3,2154.6 407.9,2153.9 410.5,2154.7 413.0,2157.0 415.6,2155.1 418.1,2155.7 420.7,2153.6 423.2,2147.3 425.8,2139.6 428.4,2136.2 430.9,2128.5 433.5,2121.9 436.0,2115.9 438.6,2109.6 441.1,2104.9 443.7,2100.8 446.3,2098.6 448.8,2097.3 451.4,2088.7 453.9,2096.9 456.5,2095.0 459.0,2092.4 461.6,2094.8 464.2,2094.4 466.7,2094.0 469.3,2101.2 471.8,2098.4 474.4,2097.8 476.9,2101.3 479.5,2100.2 482.1,2102.5 484.6,2107.5 487.2,2102.7 489.7,2104.2 492.3,2102.5 494.8,2106.9 497.4,2103.0 500.0,2104.1 502.5,2102.2 505.1,2101.0 507.6,2105.0 510.2,2104.4 512.8,2106.3 515.3,2103.0 517.9,2103.1 520.4,2101.2 523.0,2103.3 525.5,2102.9 528.1,2098.0 530.7,2101.2 533.2,2099.4 535.8,2107.9 538.3,2097.6 540.9,2096.9 543.4,2099.0 546.0,2099.0 548.6,2099.6 551.1,2093.4 553.7,2101.5 556.2,2095.5 558.8,2094.5 561.3,2102.5 563.9,2099.0 566.5,2101.0 569.0,2099.2 571.6,2100.8 574.1,2102.0 576.7,2103.4 579.2,2108.2 581.8,2109.6 584.4,2109.1 586.9,2108.3 589.5,2107.9 592.0,2106.0 594.6,2113.3 597.1,2112.2 599.7,2113.6 602.3,2113.3 604.8,2116.6 607.4,2117.6 609.9,2120.1 612.5,2121.7 615.0,2121.0 617.6,2121.3 620.2,2122.1 622.7,2124.3 625.3,2125.7 627.8,2120.5 630.4,2122.8 633.0,2117.0 635.5,2116.7 638.1,2116.4 640.6,2118.6 643.2,2115.2 645.7,2113.8 648.3,2115.9 650.9,2112.6 653.4,2125.1 656.0,2116.1 658.5,2115.3 661.1,2114.2 663.6,2113.8 666.2,2112.1 668.8,2115.3 671.3,2112.8 673.9,2117.2 676.4,2112.0 679.0,2117.3 681.5,2118.4 684.1,2118.7 686.7,2118.9 689.2,2120.0 691.8,2120.6 694.3,2119.3 696.9,2121.7 699.4,2121.1 702.0,2122.7 704.6,2117.8 707.1,2123.4 709.7,2122.2 712.2,2122.5 714.8,2121.5 717.4,2119.1 719.9,2127.4 722.5,2123.6 725.0,2122.0 727.6,2125.7 730.1,2119.9 732.7,2130.2 735.3,2121.7 737.8,2126.8 740.4,2128.2 742.9,2128.5 745.5,2123.7 748.0,2125.0 750.6,2105.1 753.2,2122.3 755.7,2126.9 758.3,2124.3 760.8,2125.2 763.4,2129.2 765.9,2133.3 768.5,2130.3 771.1,2124.8 773.6,2130.4 776.2,2129.3 778.7,2127.9 781.3,2129.8 783.8,2136.9 786.4,2130.7 789.0,2127.0 791.5,2129.6 794.1,2132.0 796.6,2128.2 799.2,2130.4 801.7,2131.4 804.3,2133.3 806.9,2131.9 809.4,2133.8 812.0,2123.2 814.5,2133.9 817.1,2134.8 819.6,2133.7 822.2,2135.9 824.8,2134.5 827.3,2136.6 829.9,2134.8 832.4,2138.5 835.0,2136.5 837.6,2137.5 840.1,2145.7 842.7,2134.4 845.2,2136.6 847.8,2143.3 850.3,2142.4 852.9,2141.9 855.5,2143.9 858.0,2138.5 860.6,2141.8 863.1,2142.7 865.7,2142.8 868.2,2143.0 870.8,2142.8 873.4,2143.2 875.9,2143.9 878.5,2141.1 881.0,2142.8 883.6,2141.5 886.1,2144.7 888.7,2144.1 891.3,2144.6 893.8,2142.2 896.4,2138.8 898.9,2145.4 901.5,2142.1 904.0,2143.0 906.6,2143.5 909.2,2143.3 911.7,2143.1 914.3,2143.5 916.8,2141.7 919.4,2146.8 922.0,2142.7 924.5,2141.6 927.1,2141.7 929.6,2143.1 932.2,2144.6 934.7,2142.8 937.3,2142.9 939.9,2145.0 942.4,2140.7 945.0,2144.0 947.5,2144.8 950.1,2139.2 952.6,2144.0 955.2,2142.9 957.8,2142.1 960.3,2145.1 962.9,2133.5 965.4,2146.4 968.0,2146.2 970.5,2141.2 973.1,2142.8 975.7,2136.8 978.2,2139.5 980.8,2142.6 983.3,2137.3 985.9,2137.4 988.4,2140.7 991.0,2140.0 993.6,2138.2 996.1,2137.7 998.7,2135.6 1001.2,2138.8 1003.8,2141.2 1006.3,2142.6 1008.9,2137.9 1011.5,2133.8 1014.0,2140.0 1016.6,2136.6 1019.1,2136.0 1021.7,2136.4 1024.2,2136.9 1026.8,2135.1 1029.4,2137.2 1031.9,2131.8 1034.5,2135.1 1037.0,2133.6 1039.6,2133.0 1042.2,2137.0 1044.7,2135.1 1047.3,2134.4 1049.8,2136.1 1052.4,2129.3 1054.9,2131.6 1057.5,2132.0 1060.1,2131.2 1062.6,2130.4 1065.2,2127.8 1067.7,2134.8 1070.3,2127.3 1072.8,2131.4 1075.4,2133.8 1078.0,2128.9 1080.5,2127.1 1083.1,2128.3 1085.6,2128.0 1088.2,2127.0 1090.7,2126.2 1093.3,2121.2 1095.9,2122.8 1098.4,2124.6 1101.0,2125.7 1103.5,2122.2 1106.1,2128.4 1108.6,2123.8 1111.2,2124.7 1113.8,2121.1 1116.3,2127.3 1118.9,2126.2 1121.4,2124.2 1124.0,2127.4 1126.6,2128.7 1129.1,2125.2 1131.7,2122.7 1134.2,2122.5 1136.8,2126.5 1139.3,2130.6 1141.9,2125.8 1144.5,2137.3 1147.0,2126.6 1149.6,2125.3 1152.1,2123.2 1154.7,2127.0 1157.2,2127.5 1159.8,2128.8 1162.4,2128.5 1164.9,2125.1 1167.5,2126.0 1170.0,2126.7 1172.6,2127.0 1175.1,2121.6 1177.7,2124.4 1180.3,2125.0 1182.8,2125.0 1185.4,2131.0 1187.9,2126.5 1190.5,2126.7 1193.0,2127.4 1195.6,2126.3 1198.2,2125.2 1200.7,2124.6 1203.3,2125.2 1205.8,2123.6 1208.4,2123.9 1210.9,2128.2 1213.5,2122.5 1216.1,2129.5 1218.6,2120.3 1221.2,2127.6 1223.7,2126.9 1226.3,2124.7 1228.8,2127.0 1231.4,2122.1 1234.0,2131.3 1236.5,2114.1 1239.1,2127.9 1241.6,2126.9 1244.2,2126.7 1246.8,2127.1 1249.3,2126.4 1251.9,2126.5 1254.4,2132.3 1257.0,2128.6 1259.5,2125.7 1262.1,2126.7 1264.7,2128.5 1267.2,2126.5 1269.8,2132.8 1272.3,2132.6 1274.9,2128.0 1277.4,2129.1 1280.0,2134.0 1282.6,2131.0 1285.1,2130.2 1287.7,2127.1 1290.2,2127.0 1292.8,2131.7 1295.3,2128.0 1297.9,2133.3 1300.5,2129.1 1303.0,2130.4 1305.6,2132.3 1308.1,2129.2 1310.7,2130.3 1313.2,2129.8 1315.8,2138.8 1318.4,2130.7 1320.9,2133.6 1323.5,2131.3 1326.0,2133.5 1328.6,2136.7 1331.2,2132.8 1333.7,2135.5 1336.3,2136.8 1338.8,2133.6 1341.4,2135.1 1343.9,2129.8 1346.5,2136.8 1349.1,2134.1 1351.6,2139.3 1354.2,2138.2 1356.7,2140.2 1359.3,2136.2 1361.8,2132.5 1364.4,2138.9 1367.0,2139.0 1369.5,2140.2 1372.1,2133.2 1374.6,2136.3 1377.2,2142.0 1379.7,2145.7 1382.3,2142.2 1384.9,2138.2 1387.4,2143.7 1390.0,2141.4 1392.5,2145.3 1395.1,2144.7 1397.6,2143.1 1400.2,2144.2 1402.8,2134.5 1405.3,2143.3 1407.9,2143.7 1410.4,2144.9 1413.0,2144.0 1415.5,2147.9 1418.1,2145.4 1420.7,2145.2 1423.2,2147.1 1425.8,2144.4 1428.3,2146.4 1430.9,2149.2 1433.5,2147.9 1436.0,2146.2 1438.6,2143.2 1441.1,2146.4 1443.7,2146.0 1446.2,2148.5 1448.8,2146.9 1451.4,2147.2 1453.9,2144.3 1456.5,2148.2 1459.0,2145.4 1461.6,2149.4 1464.1,2150.6 1466.7,2148.8 1469.3,2147.0 1471.8,2149.3 1474.4,2145.8 1476.9,2148.3 1479.5,2147.3 1482.0,2148.5 1484.6,2147.7 1487.2,2150.7 1489.7,2151.1 1492.3,2151.9 1494.8,2148.7 1497.4,2151.4 1499.9,2154.8 1502.5,2150.1 1505.1,2152.1 1507.6,2151.8 1510.2,2152.2 1512.7,2150.8 1515.3,2152.2 1517.8,2152.9 1520.4,2154.1 1523.0,2152.1 1525.5,2147.8 1528.1,2151.9 1530.6,2150.8 1533.2,2148.6 1535.8,2154.2 1538.3,2152.3 1540.9,2151.5 1543.4,2155.2 1546.0,2156.8 1548.5,2153.9 1551.1,2156.1 1553.7,2153.2 1556.2,2154.7 1558.8,2154.6 1561.3,2153.5 1563.9,2152.8 1566.4,2154.4 1569.0,2153.2 1571.6,2155.1 1574.1,2154.2 1576.7,2150.8 1579.2,2155.4 1581.8,2157.2 1584.3,2155.8 1586.9,2155.3 1589.5,2155.4 1592.0,2154.5 1594.6,2156.8 1597.1,2156.0 1599.7,2155.4 1602.2,2156.8 1604.8,2155.7 1607.4,2156.3 1609.9,2156.2 1612.5,2146.7 1615.0,2159.5 1617.6,2155.8 1620.1,2157.2 1622.7,2154.7 1625.3,2158.9 1627.8,2154.3 1630.4,2153.1 1632.9,2158.5 1635.5,2157.7 1638.0,2158.6 1640.6,2155.7 1643.2,2153.1 1645.7,2159.4 1648.3,2159.2 1650.8,2157.5 1653.4,2157.7 1656.0,2158.1 1658.5,2155.7 1661.1,2158.7 1663.6,2159.6 1666.2,2158.3 1668.7,2159.2 1671.3,2158.3 1673.9,2158.8 1676.4,2157.6 1679.0,2159.4 1681.5,2158.6 1684.1,2158.4 1686.6,2163.0 1689.2,2162.8 1691.8,2163.4 1694.3,2156.0 1696.9,2159.8 1699.4,2160.2 1702.0,2160.4 1704.5,2158.4 1707.1,2161.1 1709.7,2158.0 1712.2,2158.1 1714.8,2157.8 1717.3,2160.0 1719.9,2162.4 1722.4,2159.6 1725.0,2160.0 1727.6,2160.3 1730.1,2158.2 1732.7,2160.5 1735.2,2161.9 1737.8,2162.6 1740.4,2160.8 1742.9,2157.7 1745.5,2162.4 1748.0,2163.9 1750.6,2158.4 1753.1,2162.0 1755.7,2161.6 1758.3,2161.1 1760.8,2159.6 1763.4,2161.4 1765.9,2165.4 1768.5,2161.8 1771.0,2162.6 1773.6,2164.5 1776.2,2166.5 1778.7,2158.1 1781.3,2161.6 1783.8,2161.5 1786.4,2162.1 1788.9,2163.2 1791.5,2162.9" stroke="#4E8534" stroke-width="4.8" fill="none" stroke-linejoin="round" stroke-linecap="butt"/>
<path d="M420.2,2160.6 422.7,2156.9 425.3,2154.1 427.8,2149.9 430.4,2146.6 433.0,2144.3 435.5,2140.9 438.1,2136.5 440.6,2136.4 443.2,2136.0 445.7,2134.8 448.3,2131.1 450.9,2130.9 453.4,2128.8 456.0,2125.3 458.5,2124.9 461.1,2123.1 463.6,2120.0 466.2,2122.8 468.8,2119.6 471.3,2122.3 473.9,2123.3 476.4,2125.7 479.0,2129.8 481.5,2129.0 484.1,2137.1 486.7,2137.7 489.2,2142.2 491.8,2143.0 494.3,2148.1 496.9,2150.7 499.5,2154.6 502.0,2157.4 504.6,2159.6 507.1,2162.9 509.7,2162.5 512.2,2160.3 514.8,2160.1 517.4,2161.5 519.9,2161.9 522.5,2159.9 525.0,2161.4 527.6,2161.7 530.1,2161.2 532.7,2161.9 535.3,2159.6 537.8,2161.1 540.4,2161.8 542.9,2161.7 545.5,2160.6 548.0,2160.8 550.6,2161.5 553.2,2160.3 555.7,2160.9 558.3,2161.3 560.8,2161.3 563.4,2161.1 565.9,2161.3 568.5,2161.3 571.1,2161.0 573.6,2161.2 576.2,2161.3 578.7,2161.4 581.3,2161.0 583.8,2160.7 586.4,2161.1 589.0,2160.6 591.5,2160.4 594.1,2160.9 596.6,2161.0 599.2,2161.3 601.8,2159.8 604.3,2160.6 606.9,2161.5 609.4,2161.0 612.0,2159.5 614.5,2161.1 617.1,2157.6 619.7,2161.7 622.2,2161.0 624.8,2160.9 627.3,2162.1 629.9,2160.8 632.4,2159.3 635.0,2161.1 637.6,2161.5 640.1,2162.4 642.7,2160.4 645.2,2160.7 647.8,2160.4 650.3,2161.7 652.9,2160.7 655.5,2161.1 658.0,2160.1 660.6,2161.7 663.1,2160.7 665.7,2160.8 668.2,2161.1 670.8,2160.1 673.4,2161.0 675.9,2161.3 678.5,2159.4 681.0,2161.1 683.6,2160.5 686.1,2161.8 688.7,2162.3 691.3,2161.0 693.8,2161.1 696.4,2160.6 698.9,2160.8 701.5,2160.5 704.1,2161.1 706.6,2161.2 709.2,2160.6 711.7,2161.1 714.3,2161.6 716.8,2160.7 719.4,2160.8 722.0,2160.8 724.5,2160.8 727.1,2157.8 729.6,2162.9 732.2,2160.4 734.7,2159.2 737.3,2159.9 739.9,2160.5 742.4,2160.7 745.0,2161.2 747.5,2160.3 750.1,2160.6 752.6,2160.8 755.2,2161.0 757.8,2162.9 760.3,2159.6 762.9,2160.1 765.4,2159.7 768.0,2160.6 770.5,2160.6 773.1,2160.3 775.7,2160.1 778.2,2160.6 780.8,2161.0 783.3,2160.6 785.9,2160.9 788.4,2160.0 791.0,2160.9 793.6,2160.5 796.1,2159.7 798.7,2160.4 801.2,2160.6 803.8,2159.6 806.4,2160.9 808.9,2160.9 811.5,2160.4 814.0,2161.1 816.6,2160.6 819.1,2160.6 821.7,2159.4 824.3,2159.6 826.8,2160.9 829.4,2159.8 831.9,2160.7 834.5,2160.8 837.0,2160.8 839.6,2160.0 842.2,2160.0 844.7,2160.4 847.3,2158.7 849.8,2161.6 852.4,2159.0 854.9,2160.9 857.5,2160.7 860.1,2160.7 862.6,2160.7 865.2,2160.0 867.7,2160.5 870.3,2160.4 872.8,2160.5 875.4,2161.2 878.0,2160.4 880.5,2158.5 883.1,2161.2 885.6,2160.3 888.2,2162.1 890.7,2160.1 893.3,2160.8 895.9,2161.2 898.4,2160.4 901.0,2160.9 903.5,2160.7 906.1,2160.6 908.7,2160.6 911.2,2158.7 913.8,2159.6 916.3,2160.3 918.9,2161.0 921.4,2158.5 924.0,2158.9 926.6,2158.7 929.1,2161.2 931.7,2161.6 934.2,2158.2 936.8,2160.4 939.3,2160.5 941.9,2160.7 944.5,2160.4 947.0,2158.8 949.6,2160.5 952.1,2160.4 954.7,2159.8 957.2,2161.1 959.8,2160.6 962.4,2160.7 964.9,2160.0 967.5,2158.4 970.0,2160.2 972.6,2161.8 975.1,2161.3 977.7,2160.0 980.3,2160.0 982.8,2161.1 985.4,2161.1 987.9,2157.1 990.5,2160.7 993.0,2160.4 995.6,2161.2 998.2,2160.8 1000.7,2159.5 1003.3,2160.9 1005.8,2159.5 1008.4,2160.3 1011.0,2159.1 1013.5,2159.6 1016.1,2160.3 1018.6,2160.4 1021.2,2160.6 1023.7,2160.7 1026.3,2160.3 1028.9,2160.3 1031.4,2160.5 1034.0,2159.1 1036.5,2160.5 1039.1,2162.3 1041.6,2160.3 1044.2,2159.5 1046.8,2161.0 1049.3,2160.1 1051.9,2160.6 1054.4,2161.4 1057.0,2157.6 1059.5,2158.4 1062.1,2160.5 1064.7,2159.5 1067.2,2160.5 1069.8,2160.7 1072.3,2160.3 1074.9,2159.1 1077.4,2160.5 1080.0,2159.0 1082.6,2160.7 1085.1,2160.2 1087.7,2160.4 1090.2,2160.3 1092.8,2161.1 1095.3,2161.0 1097.9,2160.6 1100.5,2160.0 1103.0,2160.3 1105.6,2159.7 1108.1,2160.2 1110.7,2162.5 1113.3,2160.7 1115.8,2160.5 1118.4,2161.5 1120.9,2160.7 1123.5,2160.4 1126.0,2159.9 1128.6,2160.1 1131.2,2160.1 1133.7,2160.7 1136.3,2160.7 1138.8,2158.5 1141.4,2157.4 1143.9,2159.0 1146.5,2160.4 1149.1,2160.4 1151.6,2160.7 1154.2,2159.3 1156.7,2160.3 1159.3,2158.9 1161.8,2160.5 1164.4,2159.0 1167.0,2160.2 1169.5,2161.7 1172.1,2160.1 1174.6,2160.3 1177.2,2159.7 1179.7,2161.4 1182.3,2160.0 1184.9,2160.8 1187.4,2160.9 1190.0,2159.3 1192.5,2161.3 1195.1,2160.5 1197.6,2158.8 1200.2,2161.0 1202.8,2161.7 1205.3,2161.7 1207.9,2160.3 1210.4,2160.6 1213.0,2161.0 1215.6,2161.1 1218.1,2161.8 1220.7,2159.1 1223.2,2162.3 1225.8,2160.5 1228.3,2162.1 1230.9,2160.5 1233.5,2159.7 1236.0,2163.1 1238.6,2159.7 1241.1,2160.1 1243.7,2159.5 1246.2,2160.0 1248.8,2161.1 1251.4,2160.5 1253.9,2161.1 1256.5,2160.8 1259.0,2159.9 1261.6,2160.2 1264.1,2159.8 1266.7,2162.4 1269.3,2160.5 1271.8,2160.0 1274.4,2158.1 1276.9,2157.6 1279.5,2159.9 1282.0,2160.4 1284.6,2160.8 1287.2,2161.9 1289.7,2160.1 1292.3,2160.4 1294.8,2158.0 1297.4,2160.5 1299.9,2160.4 1302.5,2161.0 1305.1,2160.5 1307.6,2160.7 1310.2,2160.0 1312.7,2159.3 1315.3,2161.9 1317.9,2160.5 1320.4,2159.6 1323.0,2157.9 1325.5,2160.0 1328.1,2160.3 1330.6,2160.8 1333.2,2158.9 1335.8,2161.0 1338.3,2160.5 1340.9,2160.0 1343.4,2160.0 1346.0,2161.4 1348.5,2160.5 1351.1,2160.4 1353.7,2161.0 1356.2,2162.2 1358.8,2160.9 1361.3,2161.4 1363.9,2160.1 1366.4,2160.6 1369.0,2158.9 1371.6,2159.9 1374.1,2160.3 1376.7,2160.9 1379.2,2159.7 1381.8,2159.2 1384.3,2158.4 1386.9,2160.6 1389.5,2160.2 1392.0,2160.3 1394.6,2160.5 1397.1,2162.8 1399.7,2160.5 1402.2,2159.7 1404.8,2161.1 1407.4,2159.6 1409.9,2160.6 1412.5,2159.5 1415.0,2160.6 1417.6,2160.4 1420.2,2160.1 1422.7,2158.8 1425.3,2159.1 1427.8,2160.3 1430.4,2160.5 1432.9,2160.5 1435.5,2160.4 1438.1,2160.3 1440.6,2161.1 1443.2,2159.8 1445.7,2160.0 1448.3,2160.3 1450.8,2159.6 1453.4,2158.9 1456.0,2160.4 1458.5,2160.5 1461.1,2160.1 1463.6,2159.8 1466.2,2160.4 1468.7,2160.3 1471.3,2161.3 1473.9,2159.8 1476.4,2159.6 1479.0,2160.5 1481.5,2160.5 1484.1,2160.5 1486.6,2156.9 1489.2,2161.8 1491.8,2160.4 1494.3,2160.9 1496.9,2160.5 1499.4,2160.3 1502.0,2160.2 1504.5,2161.4 1507.1,2160.1 1509.7,2161.3 1512.2,2160.4 1514.8,2161.2 1517.3,2162.1 1519.9,2159.5 1522.5,2161.5 1525.0,2161.0 1527.6,2159.3 1530.1,2162.5 1532.7,2159.9 1535.2,2161.1 1537.8,2160.9 1540.4,2160.0 1542.9,2160.6 1545.5,2159.6 1548.0,2159.9 1550.6,2160.5 1553.1,2160.3 1555.7,2160.6 1558.3,2160.5 1560.8,2160.5 1563.4,2160.5 1565.9,2160.6 1568.5,2159.8 1571.0,2159.2 1573.6,2160.9 1576.2,2161.9 1578.7,2161.2 1581.3,2160.9 1583.8,2160.0 1586.4,2160.7 1588.9,2159.3 1591.5,2160.6 1594.1,2160.7 1596.6,2160.2 1599.2,2160.2 1601.7,2161.8 1604.3,2159.5 1606.8,2160.5 1609.4,2160.1 1612.0,2160.0 1614.5,2161.1 1617.1,2160.4 1619.6,2160.8 1622.2,2160.9 1624.8,2162.3 1627.3,2158.3 1629.9,2160.9 1632.4,2158.8 1635.0,2160.9 1637.5,2160.4 1640.1,2161.6 1642.7,2160.7 1645.2,2159.9 1647.8,2159.9 1650.3,2161.1 1652.9,2159.5 1655.4,2159.7 1658.0,2159.1 1660.6,2160.4 1663.1,2160.7 1665.7,2160.5 1668.2,2161.0 1670.8,2160.7 1673.3,2159.3 1675.9,2161.1 1678.5,2158.5 1681.0,2160.7 1683.6,2159.3 1686.1,2162.5 1688.7,2159.7 1691.2,2161.3 1693.8,2160.2 1696.4,2158.0 1698.9,2160.3 1701.5,2161.4 1704.0,2160.0 1706.6,2160.8 1709.1,2159.6 1711.7,2160.2 1714.3,2160.6 1716.8,2160.5 1719.4,2160.0 1721.9,2159.5 1724.5,2160.1 1727.1,2159.6 1729.6,2160.3 1732.2,2160.8 1734.7,2160.4 1737.3,2159.8 1739.8,2160.9 1742.4,2160.5 1745.0,2161.2 1747.5,2159.1 1750.1,2160.4 1752.6,2160.4 1755.2,2160.8 1757.7,2161.7 1760.3,2160.4 1762.9,2162.4 1765.4,2160.6 1768.0,2160.3 1770.5,2159.8 1773.1,2160.0 1775.6,2161.0 1778.2,2160.4 1780.8,2159.3 1783.3,2160.8 1785.9,2160.8 1788.4,2161.5 1791.0,2161.3" stroke="#8E0606" stroke-width="9.6" fill="none" stroke-linejoin="round" stroke-linecap="butt"/>
<text x="170.0" y="2185.2" font-size="57.5" textLength="32.7" lengthAdjust="spacingAndGlyphs" fill="#111">0</text>
<text x="139.0" y="2059.1" font-size="57.5" textLength="63.6" lengthAdjust="spacingAndGlyphs" fill="#111">10</text>
<text x="140.6" y="1932.9" font-size="57.5" textLength="62.0" lengthAdjust="spacingAndGlyphs" fill="#111">20</text>
<text x="141.3" y="1806.8" font-size="57.5" textLength="61.2" lengthAdjust="spacingAndGlyphs" fill="#111">30</text>
<text x="142.2" y="1680.6" font-size="57.5" textLength="60.4" lengthAdjust="spacingAndGlyphs" fill="#111">40</text>
<text x="141.2" y="1554.5" font-size="57.5" textLength="61.4" lengthAdjust="spacingAndGlyphs" fill="#111">50</text>
<text x="140.6" y="1428.4" font-size="57.5" textLength="62.0" lengthAdjust="spacingAndGlyphs" fill="#111">60</text>
<text x="140.5" y="1302.2" font-size="57.5" textLength="62.0" lengthAdjust="spacingAndGlyphs" fill="#111">70</text>
<text x="211.8" y="2271.4" font-size="57.5" textLength="90.4" lengthAdjust="spacingAndGlyphs" fill="#111">390</text>
<text x="468.4" y="2271.4" font-size="57.5" textLength="89.5" lengthAdjust="spacingAndGlyphs" fill="#111">440</text>
<text x="724.1" y="2271.4" font-size="57.5" textLength="89.5" lengthAdjust="spacingAndGlyphs" fill="#111">490</text>
<text x="978.9" y="2271.4" font-size="57.5" textLength="90.5" lengthAdjust="spacingAndGlyphs" fill="#111">540</text>
<text x="1234.6" y="2271.4" font-size="57.5" textLength="90.5" lengthAdjust="spacingAndGlyphs" fill="#111">590</text>
<text x="1489.8" y="2271.4" font-size="57.5" textLength="91.1" lengthAdjust="spacingAndGlyphs" fill="#111">640</text>
<text x="1745.5" y="2271.4" font-size="57.5" textLength="91.1" lengthAdjust="spacingAndGlyphs" fill="#111">690</text>
<text x="804.9" y="2361.5" font-size="57.6" textLength="399.2" lengthAdjust="spacingAndGlyphs" fill="#111">Wavelength/nm</text>
<text x="0" y="0" transform="translate(73.9,2047.6) rotate(-90)" font-size="57" textLength="593.3" lengthAdjust="spacingAndGlyphs" fill="#111">Fluorescence Intensity</text>
<text x="1062.8" y="1502.6" font-size="59" textLength="187.2" lengthAdjust="spacingAndGlyphs" fill="#111">pH 2.00</text>
<text x="1060.3" y="1921.4" font-size="59" textLength="188.7" lengthAdjust="spacingAndGlyphs" fill="#111">pH 10.0</text>
<line x1="1156.1" y1="1591.4" x2="1156.1" y2="1823.5" stroke="#777" stroke-width="4"/>
<polygon points="1156.1,1559.1 1141.4499999999998,1591.4 1170.75,1591.4" fill="#000"/>
<line x1="282.4" y1="2510.7" x2="282.4" y2="3348" stroke="#808080" stroke-width="5"/>
<line x1="280.4" y1="3347.3" x2="1767.7372799999998" y2="3347.3" stroke="#4a4a4a" stroke-width="3.5"/>
<path d="M282.6,3312.4 286.7,3311.4 290.9,3306.7 295.0,3302.5 299.2,3299.5 303.3,3295.6 307.5,3291.9 311.6,3288.5 315.8,3284.8 319.9,3280.3 324.1,3277.3 328.2,3273.4 332.3,3268.6 336.5,3265.7 340.6,3261.3 344.8,3256.0 348.9,3252.9 353.1,3246.2 357.2,3239.4 361.4,3229.4 365.5,3220.3 369.6,3210.6 373.8,3198.8 377.9,3187.1 382.1,3173.3 386.2,3163.4 390.4,3150.4 394.5,3139.3 398.7,3128.0 402.8,3115.1 407.0,3104.8 411.1,3087.7 415.2,3074.6 419.4,3058.4 423.5,3041.4 427.7,3019.8 431.8,2999.6 436.0,2980.4 440.1,2960.0 444.3,2943.3 448.4,2925.3 452.5,2912.3 456.7,2899.9 460.8,2886.6 465.0,2877.5 469.1,2868.8 473.3,2862.6 477.4,2854.5 481.6,2851.4 485.7,2848.3 489.9,2844.3 494.0,2843.2 498.1,2838.3 502.3,2837.5 506.4,2833.6 510.6,2835.3 514.7,2833.9 518.9,2832.4 523.0,2833.8 527.2,2832.3 531.3,2837.0 535.5,2842.2 539.6,2844.6 543.7,2848.8 547.9,2855.3 552.0,2856.9 556.2,2856.6 560.3,2852.9 564.5,2844.9 568.6,2835.6 572.8,2828.8 576.9,2822.4 581.0,2818.6 585.2,2817.5 589.3,2814.8 593.5,2814.2 597.6,2809.2 601.8,2808.3 605.9,2808.5 610.1,2806.0 614.2,2803.3 618.4,2801.6 622.5,2802.4 626.6,2801.2 630.8,2801.5 634.9,2806.0 639.1,2811.2 643.2,2817.9 647.4,2818.4 651.5,2825.6 655.7,2832.8 659.8,2834.8 664.0,2842.1 668.1,2849.5 672.2,2853.7 676.4,2861.5 680.5,2868.3 684.7,2876.5 688.8,2882.5 693.0,2888.7 697.1,2896.7 701.3,2903.5 705.4,2911.1 709.5,2916.0 713.7,2922.6 717.8,2928.3 722.0,2936.4 726.1,2942.7 730.3,2946.7 734.4,2951.1 738.6,2960.3 742.7,2960.9 746.9,2964.9 751.0,2969.5 755.1,2975.1 759.3,2977.4 763.4,2979.2 767.6,2983.4 771.7,2986.0 775.9,2990.6 780.0,2992.6 784.2,2998.0 788.3,3000.7 792.4,3003.4 796.6,3006.3 800.7,3013.3 804.9,3017.2 809.0,3020.4 813.2,3025.2 817.3,3030.3 821.5,3035.3 825.6,3040.2 829.8,3045.0 833.9,3049.8 838.0,3054.1 842.2,3061.3 846.3,3064.4 850.5,3069.6 854.6,3076.7 858.8,3082.0 862.9,3090.0 867.1,3096.8 871.2,3104.4 875.4,3109.4 879.5,3114.9 883.6,3123.7 887.8,3128.8 891.9,3136.4 896.1,3141.3 900.2,3145.7 904.4,3151.1 908.5,3154.2 912.7,3158.4 916.8,3162.9 920.9,3166.8 925.1,3169.5 929.2,3175.7 933.4,3180.3 937.5,3185.8 941.7,3189.2 945.8,3195.8 950.0,3199.9 954.1,3204.7 958.3,3210.3 962.4,3214.3 966.5,3219.2 970.7,3223.7 974.8,3227.5 979.0,3228.9 983.1,3230.8 987.3,3233.3 991.4,3234.8 995.6,3235.2 999.7,3237.1 1003.9,3237.3 1008.0,3238.7 1012.1,3239.8 1016.3,3241.2 1020.4,3242.8 1024.6,3243.7 1028.7,3245.6 1032.9,3246.6 1037.0,3249.4 1041.2,3251.0 1045.3,3252.2 1049.4,3255.6 1053.6,3256.1 1057.7,3257.8 1061.9,3259.5 1066.0,3261.7 1070.2,3263.2 1074.3,3264.2 1078.5,3266.4 1082.6,3268.0 1086.8,3269.5 1090.9,3270.2 1095.0,3270.8 1099.2,3271.7 1103.3,3273.6 1107.5,3275.1 1111.6,3276.7 1115.8,3276.2 1119.9,3276.7 1124.1,3277.7 1128.2,3279.4 1132.3,3280.5 1136.5,3280.5 1140.6,3281.0 1144.8,3281.4 1148.9,3283.7 1153.1,3283.0 1157.2,3285.0 1161.4,3285.2 1165.5,3284.7 1169.7,3285.8 1173.8,3287.7 1177.9,3287.7 1182.1,3288.1 1186.2,3289.6 1190.4,3289.4 1194.5,3290.2 1198.7,3290.8 1202.8,3291.5 1207.0,3292.8 1211.1,3292.6 1215.3,3294.3 1219.4,3295.4 1223.5,3294.9 1227.7,3296.3 1231.8,3296.2 1236.0,3297.7 1240.1,3299.2 1244.3,3299.8 1248.4,3299.9 1252.6,3301.3 1256.7,3302.0 1260.8,3302.6 1265.0,3303.5 1269.1,3305.4 1273.3,3303.6 1277.4,3305.6 1281.6,3307.3 1285.7,3307.6 1289.9,3308.8 1294.0,3309.6 1298.2,3310.2 1302.3,3311.2 1306.4,3311.6 1310.6,3312.9 1314.7,3314.1 1318.9,3315.0 1323.0,3315.5 1327.2,3315.8 1331.3,3316.4 1335.5,3316.4 1339.6,3318.0 1343.8,3318.2 1347.9,3319.1 1352.0,3319.9 1356.2,3320.8 1360.3,3321.5 1364.5,3322.1 1368.6,3322.0 1372.8,3323.0 1376.9,3324.2 1381.1,3324.3 1385.2,3325.1 1389.3,3325.4 1393.5,3326.7 1397.6,3327.2 1401.8,3328.2 1405.9,3327.1 1410.1,3328.2 1414.2,3327.5 1418.4,3329.0 1422.5,3329.3 1426.7,3329.3 1430.8,3330.7 1434.9,3330.4 1439.1,3329.8 1443.2,3331.8 1447.4,3331.5 1451.5,3332.2 1455.7,3331.8 1459.8,3332.1 1464.0,3332.2 1468.1,3332.6 1472.2,3333.9 1476.4,3334.1 1480.5,3333.2 1484.7,3334.4 1488.8,3334.8 1493.0,3334.6 1497.1,3335.5 1501.3,3335.2 1505.4,3336.5 1509.6,3336.1 1513.7,3336.6 1517.8,3335.0 1522.0,3336.8 1526.1,3337.4 1530.3,3337.3 1534.4,3337.8 1538.6,3337.6 1542.7,3338.8 1546.9,3338.1 1551.0,3338.7 1555.2,3339.8 1559.3,3339.9 1563.4,3339.5 1567.6,3339.0 1571.7,3338.9 1575.9,3340.3 1580.0,3340.3 1584.2,3340.2 1588.3,3340.3 1592.5,3341.7 1596.6,3341.2 1600.7,3340.9 1604.9,3340.9 1609.0,3341.0 1613.2,3341.5 1617.3,3341.3 1621.5,3341.6 1625.6,3341.5 1629.8,3342.2 1633.9,3342.1 1638.1,3341.5 1642.2,3343.7 1646.3,3342.5 1650.5,3342.2 1654.6,3341.9 1658.8,3342.7 1662.9,3342.5 1667.1,3343.8 1671.2,3343.3 1675.4,3342.8 1679.5,3342.3 1683.7,3343.7 1687.8,3342.5 1691.9,3343.7 1696.1,3343.6 1700.2,3342.2 1704.4,3343.6 1708.5,3344.6 1712.7,3343.4 1716.8,3342.7 1721.0,3343.1 1725.1,3344.0 1729.2,3344.2 1733.4,3344.6 1737.5,3344.3 1741.7,3343.7 1745.8,3344.0 1750.0,3344.1 1754.1,3344.2 1758.3,3343.6 1762.4,3344.6 1766.6,3344.9" stroke="#622C96" stroke-width="6.9" fill="none" stroke-linejoin="round" stroke-linecap="butt"/>
<path d="M282.6,3307.3 286.7,3304.1 290.9,3299.9 295.0,3297.3 299.2,3293.2 303.3,3289.6 307.5,3286.9 311.6,3282.7 315.8,3278.6 319.9,3274.0 324.1,3271.0 328.2,3268.0 332.3,3263.2 336.5,3259.3 340.6,3256.2 344.8,3252.9 348.9,3247.5 353.1,3242.0 357.2,3233.4 361.4,3224.0 365.5,3213.7 369.6,3203.0 373.8,3189.7 377.9,3178.0 382.1,3167.1 386.2,3155.1 390.4,3137.6 394.5,3116.4 398.7,3094.6 402.8,3073.3 407.0,3052.4 411.1,3025.2 415.2,3001.5 419.4,2974.7 423.5,2950.5 427.7,2921.6 431.8,2884.5 436.0,2850.4 440.1,2825.5 444.3,2806.0 448.4,2788.8 452.5,2773.1 456.7,2757.8 460.8,2742.6 465.0,2725.8 469.1,2708.0 473.3,2690.4 477.4,2679.9 481.6,2672.1 485.7,2659.2 489.9,2653.5 494.0,2647.9 498.1,2643.4 502.3,2645.0 506.4,2643.7 510.6,2643.9 514.7,2643.3 518.9,2643.0 523.0,2642.1 527.2,2641.2 531.3,2646.1 535.5,2644.3 539.6,2646.2 543.7,2647.0 547.9,2647.7 552.0,2646.8 556.2,2645.5 560.3,2640.2 564.5,2633.5 568.6,2626.4 572.8,2620.4 576.9,2611.5 581.0,2603.8 585.2,2593.2 589.3,2580.8 593.5,2568.7 597.6,2556.5 601.8,2553.2 605.9,2548.8 610.1,2546.4 614.2,2540.9 618.4,2538.2 622.5,2538.2 626.6,2533.9 630.8,2535.5 634.9,2534.9 639.1,2534.1 643.2,2541.1 647.4,2547.2 651.5,2553.3 655.7,2560.4 659.8,2570.5 664.0,2576.8 668.1,2585.1 672.2,2593.6 676.4,2604.0 680.5,2614.9 684.7,2625.2 688.8,2634.6 693.0,2643.4 697.1,2653.9 701.3,2665.0 705.4,2675.0 709.5,2681.1 713.7,2686.2 717.8,2693.9 722.0,2698.8 726.1,2699.5 730.3,2699.4 734.4,2693.0 738.6,2686.8 742.7,2679.6 746.9,2673.3 751.0,2659.1 755.1,2650.2 759.3,2649.2 763.4,2649.5 767.6,2653.1 771.7,2654.4 775.9,2657.8 780.0,2663.5 784.2,2676.4 788.3,2692.9 792.4,2713.5 796.6,2734.0 800.7,2759.4 804.9,2790.1 809.0,2811.6 813.2,2827.4 817.3,2843.0 821.5,2859.1 825.6,2873.2 829.8,2883.5 833.9,2895.3 838.0,2905.6 842.2,2913.8 846.3,2921.5 850.5,2929.4 854.6,2938.7 858.8,2948.8 862.9,2955.6 867.1,2962.2 871.2,2969.8 875.4,2977.0 879.5,2985.4 883.6,2991.6 887.8,3001.9 891.9,3009.8 896.1,3019.9 900.2,3029.0 904.4,3040.6 908.5,3050.6 912.7,3060.3 916.8,3067.9 920.9,3076.8 925.1,3083.5 929.2,3091.8 933.4,3102.4 937.5,3108.7 941.7,3117.7 945.8,3129.5 950.0,3139.5 954.1,3151.2 958.3,3156.8 962.4,3162.1 966.5,3165.2 970.7,3169.5 974.8,3171.5 979.0,3176.0 983.1,3176.2 987.3,3179.8 991.4,3183.1 995.6,3185.3 999.7,3189.2 1003.9,3192.5 1008.0,3195.4 1012.1,3200.1 1016.3,3201.3 1020.4,3205.3 1024.6,3208.3 1028.7,3212.1 1032.9,3214.6 1037.0,3218.1 1041.2,3220.9 1045.3,3222.9 1049.4,3224.8 1053.6,3228.3 1057.7,3229.8 1061.9,3232.4 1066.0,3234.9 1070.2,3238.0 1074.3,3240.8 1078.5,3241.9 1082.6,3242.6 1086.8,3245.3 1090.9,3247.2 1095.0,3247.5 1099.2,3249.7 1103.3,3250.7 1107.5,3252.2 1111.6,3254.1 1115.8,3255.5 1119.9,3256.2 1124.1,3258.1 1128.2,3258.6 1132.3,3260.5 1136.5,3261.9 1140.6,3262.8 1144.8,3263.3 1148.9,3265.0 1153.1,3266.9 1157.2,3268.3 1161.4,3269.4 1165.5,3270.5 1169.7,3272.0 1173.8,3271.8 1177.9,3273.7 1182.1,3273.6 1186.2,3276.1 1190.4,3276.7 1194.5,3276.5 1198.7,3278.6 1202.8,3279.8 1207.0,3279.7 1211.1,3281.5 1215.3,3282.8 1219.4,3284.4 1223.5,3284.0 1227.7,3286.3 1231.8,3285.8 1236.0,3286.9 1240.1,3289.2 1244.3,3289.9 1248.4,3290.0 1252.6,3292.4 1256.7,3292.8 1260.8,3293.6 1265.0,3294.4 1269.1,3294.0 1273.3,3296.6 1277.4,3298.2 1281.6,3298.7 1285.7,3300.2 1289.9,3300.8 1294.0,3302.7 1298.2,3301.3 1302.3,3304.3 1306.4,3304.5 1310.6,3306.2 1314.7,3307.5 1318.9,3308.7 1323.0,3309.5 1327.2,3310.6 1331.3,3310.3 1335.5,3311.8 1339.6,3311.4 1343.8,3313.7 1347.9,3313.4 1352.0,3315.8 1356.2,3316.2 1360.3,3316.8 1364.5,3317.4 1368.6,3318.6 1372.8,3319.0 1376.9,3319.2 1381.1,3321.0 1385.2,3321.0 1389.3,3322.5 1393.5,3322.4 1397.6,3322.9 1401.8,3325.5 1405.9,3325.3 1410.1,3326.3 1414.2,3326.1 1418.4,3326.9 1422.5,3327.5 1426.7,3329.2 1430.8,3329.0 1434.9,3329.2 1439.1,3329.6 1443.2,3330.1 1447.4,3331.1 1451.5,3330.9 1455.7,3331.3 1459.8,3332.5 1464.0,3332.6 1468.1,3332.9 1472.2,3333.9 1476.4,3333.1 1480.5,3332.9 1484.7,3332.9 1488.8,3334.1 1493.0,3334.6 1497.1,3335.3 1501.3,3334.3 1505.4,3334.6 1509.6,3335.5 1513.7,3335.7 1517.8,3335.4 1522.0,3336.3 1526.1,3337.1 1530.3,3336.8 1534.4,3338.4 1538.6,3337.8 1542.7,3337.1 1546.9,3337.7 1551.0,3337.2 1555.2,3339.4 1559.3,3338.2 1563.4,3338.4 1567.6,3339.1 1571.7,3338.7 1575.9,3338.7 1580.0,3339.2 1584.2,3340.0 1588.3,3340.1 1592.5,3339.0 1596.6,3339.0 1600.7,3340.3 1604.9,3340.1 1609.0,3340.1 1613.2,3341.1 1617.3,3341.0 1621.5,3340.6 1625.6,3341.4 1629.8,3340.8 1633.9,3341.1 1638.1,3342.5 1642.2,3341.5 1646.3,3342.1 1650.5,3341.8 1654.6,3341.9 1658.8,3341.6 1662.9,3341.7 1667.1,3343.2 1671.2,3343.8 1675.4,3343.1 1679.5,3343.2 1683.7,3342.7 1687.8,3343.1 1691.9,3344.0 1696.1,3344.7 1700.2,3343.8 1704.4,3343.7 1708.5,3344.2 1712.7,3343.8 1716.8,3343.4 1721.0,3343.4 1725.1,3343.8 1729.2,3343.8 1733.4,3342.7 1737.5,3343.1 1741.7,3344.6 1745.8,3344.7 1750.0,3344.7 1754.1,3344.1 1758.3,3343.9 1762.4,3344.3 1766.6,3344.5" stroke="#C8281A" stroke-width="6.9" fill="none" stroke-linejoin="round" stroke-linecap="butt"/>
<path d="M282.6,3317.5 286.7,3315.9 290.9,3312.6 295.0,3309.3 299.2,3308.6 303.3,3306.4 307.5,3303.6 311.6,3302.0 315.8,3299.9 319.9,3295.6 324.1,3295.4 328.2,3292.6 332.3,3291.9 336.5,3289.7 340.6,3288.1 344.8,3285.2 348.9,3282.6 353.1,3280.3 357.2,3278.1 361.4,3272.9 365.5,3267.9 369.6,3264.7 373.8,3261.1 377.9,3258.7 382.1,3254.5 386.2,3250.2 390.4,3245.8 394.5,3239.9 398.7,3234.5 402.8,3226.3 407.0,3218.0 411.1,3206.8 415.2,3191.7 419.4,3176.8 423.5,3159.8 427.7,3142.4 431.8,3125.1 436.0,3111.3 440.1,3100.6 444.3,3089.5 448.4,3076.7 452.5,3065.1 456.7,3057.7 460.8,3048.4 465.0,3043.2 469.1,3035.3 473.3,3032.2 477.4,3027.5 481.6,3026.3 485.7,3023.4 489.9,3020.4 494.0,3018.6 498.1,3015.6 502.3,3015.7 506.4,3015.7 510.6,3013.9 514.7,3015.4 518.9,3014.9 523.0,3016.1 527.2,3018.2 531.3,3021.7 535.5,3024.6 539.6,3026.3 543.7,3028.9 547.9,3028.6 552.0,3032.1 556.2,3030.4 560.3,3030.7 564.5,3025.0 568.6,3021.8 572.8,3018.3 576.9,3014.4 581.0,3010.2 585.2,3007.2 589.3,3006.5 593.5,3004.8 597.6,3000.7 601.8,2998.8 605.9,2998.1 610.1,2997.3 614.2,2994.3 618.4,2994.3 622.5,2995.9 626.6,2994.8 630.8,2996.2 634.9,3000.9 639.1,3003.0 643.2,3006.5 647.4,3007.5 651.5,3010.5 655.7,3014.0 659.8,3017.1 664.0,3021.0 668.1,3027.7 672.2,3031.5 676.4,3037.2 680.5,3041.9 684.7,3043.9 688.8,3048.6 693.0,3054.7 697.1,3060.2 701.3,3064.4 705.4,3065.9 709.5,3070.0 713.7,3074.2 717.8,3074.7 722.0,3076.8 726.1,3081.3 730.3,3081.5 734.4,3083.1 738.6,3087.9 742.7,3088.2 746.9,3090.6 751.0,3094.0 755.1,3097.3 759.3,3099.1 763.4,3101.1 767.6,3103.7 771.7,3106.3 775.9,3108.9 780.0,3109.8 784.2,3114.5 788.3,3116.0 792.4,3119.7 796.6,3123.8 800.7,3127.1 804.9,3131.2 809.0,3134.5 813.2,3138.7 817.3,3143.6 821.5,3144.8 825.6,3150.3 829.8,3154.5 833.9,3156.2 838.0,3159.8 842.2,3163.6 846.3,3167.6 850.5,3170.3 854.6,3174.1 858.8,3178.0 862.9,3181.7 867.1,3186.4 871.2,3188.6 875.4,3193.3 879.5,3197.0 883.6,3200.2 887.8,3203.9 891.9,3206.8 896.1,3210.4 900.2,3214.6 904.4,3217.8 908.5,3220.7 912.7,3225.0 916.8,3227.5 920.9,3230.6 925.1,3233.5 929.2,3237.4 933.4,3240.0 937.5,3242.7 941.7,3244.4 945.8,3249.0 950.0,3249.7 954.1,3253.4 958.3,3255.0 962.4,3257.2 966.5,3258.6 970.7,3263.0 974.8,3265.2 979.0,3266.7 983.1,3268.5 987.3,3269.7 991.4,3272.1 995.6,3273.6 999.7,3274.3 1003.9,3276.4 1008.0,3277.9 1012.1,3278.7 1016.3,3281.4 1020.4,3281.2 1024.6,3284.3 1028.7,3285.1 1032.9,3285.3 1037.0,3287.8 1041.2,3288.6 1045.3,3289.9 1049.4,3290.4 1053.6,3290.7 1057.7,3291.1 1061.9,3293.5 1066.0,3294.2 1070.2,3294.7 1074.3,3297.0 1078.5,3296.8 1082.6,3296.3 1086.8,3297.6 1090.9,3298.5 1095.0,3298.0 1099.2,3299.3 1103.3,3299.4 1107.5,3299.1 1111.6,3300.6 1115.8,3301.1 1119.9,3299.6 1124.1,3301.7 1128.2,3301.5 1132.3,3302.0 1136.5,3301.6 1140.6,3302.4 1144.8,3304.3 1148.9,3304.2 1153.1,3304.1 1157.2,3304.7 1161.4,3304.6 1165.5,3305.4 1169.7,3305.4 1173.8,3306.4 1177.9,3306.1 1182.1,3307.3 1186.2,3308.0 1190.4,3307.8 1194.5,3308.5 1198.7,3309.0 1202.8,3308.9 1207.0,3308.9 1211.1,3310.7 1215.3,3310.5 1219.4,3310.7 1223.5,3312.0 1227.7,3311.2 1231.8,3311.8 1236.0,3312.1 1240.1,3312.4 1244.3,3313.3 1248.4,3313.4 1252.6,3314.9 1256.7,3314.3 1260.8,3315.7 1265.0,3315.0 1269.1,3315.8 1273.3,3316.5 1277.4,3316.4 1281.6,3317.8 1285.7,3317.6 1289.9,3318.0 1294.0,3319.3 1298.2,3319.0 1302.3,3320.2 1306.4,3321.0 1310.6,3321.4 1314.7,3322.2 1318.9,3321.7 1323.0,3323.1 1327.2,3322.7 1331.3,3322.7 1335.5,3324.0 1339.6,3325.6 1343.8,3324.6 1347.9,3326.6 1352.0,3325.5 1356.2,3327.2 1360.3,3327.6 1364.5,3327.6 1368.6,3327.2 1372.8,3329.3 1376.9,3329.8 1381.1,3330.2 1385.2,3330.9 1389.3,3330.5 1393.5,3332.4 1397.6,3332.4 1401.8,3332.0 1405.9,3334.0 1410.1,3333.5 1414.2,3334.2 1418.4,3334.9 1422.5,3334.6 1426.7,3335.0 1430.8,3335.9 1434.9,3335.9 1439.1,3336.8 1443.2,3338.1 1447.4,3337.2 1451.5,3338.2 1455.7,3338.3 1459.8,3339.3 1464.0,3338.6 1468.1,3338.9 1472.2,3339.6 1476.4,3340.9 1480.5,3339.6 1484.7,3339.3 1488.8,3339.9 1493.0,3340.9 1497.1,3341.1 1501.3,3340.8 1505.4,3341.1 1509.6,3340.4 1513.7,3341.4 1517.8,3341.2 1522.0,3341.1 1526.1,3342.0 1530.3,3342.2 1534.4,3341.5 1538.6,3342.0 1542.7,3341.0 1546.9,3341.5 1551.0,3342.8 1555.2,3341.6 1559.3,3341.8 1563.4,3342.9 1567.6,3341.3 1571.7,3342.1 1575.9,3342.9 1580.0,3342.3 1584.2,3342.2 1588.3,3342.1 1592.5,3342.8 1596.6,3342.3 1600.7,3342.9 1604.9,3342.7 1609.0,3342.9 1613.2,3343.4 1617.3,3342.7 1621.5,3342.5 1625.6,3343.0 1629.8,3343.2 1633.9,3343.0 1638.1,3342.3 1642.2,3343.5 1646.3,3342.3 1650.5,3342.3 1654.6,3343.7 1658.8,3344.0 1662.9,3343.2 1667.1,3343.0 1671.2,3344.1 1675.4,3342.8 1679.5,3343.4 1683.7,3343.2 1687.8,3343.8 1691.9,3343.7 1696.1,3343.2 1700.2,3344.1 1704.4,3344.0 1708.5,3343.6 1712.7,3343.5 1716.8,3343.6 1721.0,3343.1 1725.1,3343.6 1729.2,3343.6 1733.4,3344.0 1737.5,3343.6 1741.7,3343.5 1745.8,3343.9 1750.0,3344.2 1754.1,3344.0 1758.3,3343.7 1762.4,3343.6 1766.6,3344.4" stroke="#38521F" stroke-width="6.9" fill="none" stroke-linejoin="round" stroke-linecap="butt"/>
<path d="M282.6,3337.4 286.7,3333.7 290.9,3331.4 295.0,3327.4 299.2,3325.2 303.3,3323.1 307.5,3320.1 311.6,3317.5 315.8,3315.8 319.9,3313.9 324.1,3310.8 328.2,3308.9 332.3,3307.5 336.5,3305.5 340.6,3304.7 344.8,3303.0 348.9,3300.4 353.1,3297.6 357.2,3294.9 361.4,3293.3 365.5,3290.3 369.6,3288.3 373.8,3284.2 377.9,3281.3 382.1,3277.6 386.2,3274.4 390.4,3269.3 394.5,3262.8 398.7,3255.2 402.8,3247.2 407.0,3236.7 411.1,3229.5 415.2,3219.5 419.4,3210.6 423.5,3199.3 427.7,3188.7 431.8,3177.2 436.0,3171.1 440.1,3160.5 444.3,3152.1 448.4,3143.7 452.5,3137.8 456.7,3130.0 460.8,3127.6 465.0,3120.4 469.1,3110.9 473.3,3098.7 477.4,3086.6 481.6,3078.7 485.7,3070.8 489.9,3063.7 494.0,3049.2 498.1,3035.7 502.3,3034.3 506.4,3032.8 510.6,3031.6 514.7,3034.8 518.9,3042.6 523.0,3057.8 527.2,3069.5 531.3,3076.7 535.5,3083.6 539.6,3085.2 543.7,3091.1 547.9,3100.1 552.0,3105.0 556.2,3107.5 560.3,3106.5 564.5,3105.0 568.6,3106.6 572.8,3106.3 576.9,3107.7 581.0,3106.4 585.2,3104.6 589.3,3103.9 593.5,3103.5 597.6,3102.1 601.8,3101.7 605.9,3100.8 610.1,3098.2 614.2,3098.4 618.4,3097.9 622.5,3095.2 626.6,3094.6 630.8,3097.2 634.9,3098.7 639.1,3101.7 643.2,3105.6 647.4,3107.2 651.5,3109.4 655.7,3113.3 659.8,3115.2 664.0,3119.0 668.1,3122.2 672.2,3124.6 676.4,3127.8 680.5,3130.1 684.7,3133.0 688.8,3134.2 693.0,3139.2 697.1,3139.6 701.3,3142.2 705.4,3144.3 709.5,3147.0 713.7,3149.1 717.8,3150.0 722.0,3155.3 726.1,3156.5 730.3,3158.1 734.4,3160.5 738.6,3163.5 742.7,3165.4 746.9,3167.1 751.0,3169.6 755.1,3168.8 759.3,3173.6 763.4,3174.7 767.6,3176.2 771.7,3177.8 775.9,3180.5 780.0,3180.8 784.2,3184.1 788.3,3184.8 792.4,3187.6 796.6,3187.2 800.7,3190.4 804.9,3191.4 809.0,3192.4 813.2,3196.0 817.3,3197.6 821.5,3197.9 825.6,3200.4 829.8,3203.8 833.9,3205.0 838.0,3206.7 842.2,3208.9 846.3,3211.5 850.5,3215.0 854.6,3217.8 858.8,3219.5 862.9,3221.7 867.1,3224.5 871.2,3226.5 875.4,3230.8 879.5,3233.1 883.6,3236.7 887.8,3240.4 891.9,3242.8 896.1,3244.6 900.2,3247.7 904.4,3250.1 908.5,3252.7 912.7,3258.3 916.8,3260.1 920.9,3261.8 925.1,3266.0 929.2,3266.8 933.4,3270.6 937.5,3273.4 941.7,3275.5 945.8,3278.0 950.0,3281.1 954.1,3282.4 958.3,3285.2 962.4,3284.9 966.5,3287.2 970.7,3289.8 974.8,3289.4 979.0,3290.6 983.1,3292.3 987.3,3293.0 991.4,3294.4 995.6,3295.8 999.7,3296.5 1003.9,3297.1 1008.0,3297.6 1012.1,3298.8 1016.3,3300.0 1020.4,3299.7 1024.6,3300.7 1028.7,3301.1 1032.9,3302.5 1037.0,3303.3 1041.2,3303.6 1045.3,3304.0 1049.4,3304.8 1053.6,3306.3 1057.7,3306.2 1061.9,3307.5 1066.0,3307.3 1070.2,3307.7 1074.3,3309.0 1078.5,3308.5 1082.6,3309.9 1086.8,3308.3 1090.9,3309.9 1095.0,3309.9 1099.2,3310.2 1103.3,3310.8 1107.5,3309.8 1111.6,3312.3 1115.8,3311.1 1119.9,3313.0 1124.1,3312.3 1128.2,3312.1 1132.3,3311.3 1136.5,3313.3 1140.6,3312.9 1144.8,3313.4 1148.9,3312.0 1153.1,3312.1 1157.2,3313.0 1161.4,3313.7 1165.5,3314.0 1169.7,3314.4 1173.8,3313.4 1177.9,3313.3 1182.1,3314.7 1186.2,3313.9 1190.4,3314.6 1194.5,3316.0 1198.7,3314.8 1202.8,3315.5 1207.0,3315.7 1211.1,3315.8 1215.3,3316.2 1219.4,3316.5 1223.5,3316.5 1227.7,3317.5 1231.8,3317.4 1236.0,3316.6 1240.1,3318.1 1244.3,3317.7 1248.4,3317.7 1252.6,3317.6 1256.7,3318.7 1260.8,3318.5 1265.0,3318.3 1269.1,3318.5 1273.3,3319.9 1277.4,3319.3 1281.6,3319.5 1285.7,3321.4 1289.9,3320.4 1294.0,3320.9 1298.2,3320.9 1302.3,3321.0 1306.4,3320.8 1310.6,3322.0 1314.7,3322.1 1318.9,3321.7 1323.0,3322.4 1327.2,3323.7 1331.3,3323.3 1335.5,3323.5 1339.6,3323.5 1343.8,3323.8 1347.9,3324.8 1352.0,3325.4 1356.2,3325.4 1360.3,3326.2 1364.5,3325.7 1368.6,3326.3 1372.8,3327.1 1376.9,3327.9 1381.1,3327.5 1385.2,3328.7 1389.3,3328.0 1393.5,3329.6 1397.6,3330.1 1401.8,3329.7 1405.9,3330.4 1410.1,3331.0 1414.2,3330.7 1418.4,3331.2 1422.5,3331.6 1426.7,3332.5 1430.8,3333.0 1434.9,3332.4 1439.1,3332.8 1443.2,3333.8 1447.4,3333.5 1451.5,3334.0 1455.7,3334.8 1459.8,3334.7 1464.0,3335.5 1468.1,3335.3 1472.2,3335.5 1476.4,3335.5 1480.5,3335.0 1484.7,3336.2 1488.8,3335.8 1493.0,3337.4 1497.1,3337.6 1501.3,3337.7 1505.4,3338.3 1509.6,3339.1 1513.7,3337.4 1517.8,3338.5 1522.0,3339.2 1526.1,3338.9 1530.3,3339.2 1534.4,3340.0 1538.6,3340.0 1542.7,3339.2 1546.9,3340.8 1551.0,3339.9 1555.2,3340.6 1559.3,3340.9 1563.4,3340.0 1567.6,3341.8 1571.7,3341.5 1575.9,3341.5 1580.0,3341.8 1584.2,3341.4 1588.3,3342.0 1592.5,3342.0 1596.6,3340.7 1600.7,3341.3 1604.9,3342.5 1609.0,3341.6 1613.2,3342.5 1617.3,3342.2 1621.5,3342.7 1625.6,3341.6 1629.8,3342.6 1633.9,3342.7 1638.1,3342.9 1642.2,3343.0 1646.3,3343.0 1650.5,3343.2 1654.6,3343.3 1658.8,3342.9 1662.9,3343.9 1667.1,3343.3 1671.2,3343.1 1675.4,3343.8 1679.5,3342.8 1683.7,3344.1 1687.8,3343.5 1691.9,3343.7 1696.1,3343.8 1700.2,3344.1 1704.4,3343.6 1708.5,3343.7 1712.7,3344.1 1716.8,3343.7 1721.0,3344.0 1725.1,3344.0 1729.2,3343.9 1733.4,3343.8 1737.5,3343.8 1741.7,3344.0 1745.8,3343.6 1750.0,3343.7 1754.1,3345.6 1758.3,3344.3 1762.4,3344.7 1766.6,3344.4" stroke="#2E78C2" stroke-width="6.9" fill="none" stroke-linejoin="round" stroke-linecap="butt"/>
<path d="M282.6,3330.0 286.7,3328.2 290.9,3327.0 295.0,3324.9 299.2,3323.3 303.3,3320.8 307.5,3320.2 311.6,3317.8 315.8,3316.1 319.9,3314.5 324.1,3312.5 328.2,3310.5 332.3,3309.3 336.5,3306.3 340.6,3303.9 344.8,3303.0 348.9,3300.1 353.1,3299.3 357.2,3298.0 361.4,3296.0 365.5,3292.0 369.6,3290.1 373.8,3285.9 377.9,3282.9 382.1,3279.3 386.2,3273.4 390.4,3269.7 394.5,3263.6 398.7,3259.6 402.8,3251.9 407.0,3245.9 411.1,3240.7 415.2,3233.0 419.4,3225.0 423.5,3216.5 427.7,3210.4 431.8,3204.1 436.0,3201.4 440.1,3197.3 444.3,3193.2 448.4,3190.0 452.5,3185.7 456.7,3181.6 460.8,3173.5 465.0,3159.5 469.1,3154.2 473.3,3150.6 477.4,3150.7 481.6,3146.5 485.7,3146.9 489.9,3145.9 494.0,3143.0 498.1,3142.1 502.3,3141.6 506.4,3140.1 510.6,3141.5 514.7,3143.9 518.9,3143.8 523.0,3149.8 527.2,3154.7 531.3,3155.7 535.5,3158.6 539.6,3160.0 543.7,3160.0 547.9,3161.1 552.0,3161.5 556.2,3161.2 560.3,3160.4 564.5,3159.5 568.6,3157.4 572.8,3154.5 576.9,3150.9 581.0,3150.0 585.2,3149.8 589.3,3150.1 593.5,3148.5 597.6,3148.8 601.8,3146.9 605.9,3146.3 610.1,3145.3 614.2,3146.7 618.4,3144.3 622.5,3145.9 626.6,3145.5 630.8,3145.1 634.9,3146.5 639.1,3146.3 643.2,3146.7 647.4,3147.4 651.5,3148.3 655.7,3150.6 659.8,3151.7 664.0,3154.9 668.1,3158.6 672.2,3161.9 676.4,3162.2 680.5,3166.9 684.7,3170.1 688.8,3171.8 693.0,3174.6 697.1,3175.1 701.3,3176.6 705.4,3179.0 709.5,3181.3 713.7,3182.5 717.8,3183.8 722.0,3185.9 726.1,3186.0 730.3,3189.0 734.4,3188.2 738.6,3192.6 742.7,3194.1 746.9,3196.5 751.0,3195.6 755.1,3197.5 759.3,3198.9 763.4,3200.2 767.6,3201.3 771.7,3205.5 775.9,3206.4 780.0,3208.2 784.2,3208.6 788.3,3211.8 792.4,3214.9 796.6,3215.2 800.7,3217.4 804.9,3217.5 809.0,3220.8 813.2,3221.5 817.3,3223.2 821.5,3225.0 825.6,3226.1 829.8,3228.4 833.9,3229.4 838.0,3230.8 842.2,3232.0 846.3,3233.7 850.5,3237.0 854.6,3239.0 858.8,3240.1 862.9,3242.0 867.1,3243.8 871.2,3246.4 875.4,3249.3 879.5,3250.7 883.6,3252.3 887.8,3255.6 891.9,3257.6 896.1,3258.2 900.2,3261.3 904.4,3264.7 908.5,3266.7 912.7,3269.1 916.8,3272.2 920.9,3274.1 925.1,3277.1 929.2,3280.6 933.4,3283.6 937.5,3287.2 941.7,3288.8 945.8,3291.4 950.0,3294.2 954.1,3294.8 958.3,3296.4 962.4,3297.7 966.5,3298.9 970.7,3299.8 974.8,3301.1 979.0,3301.0 983.1,3301.8 987.3,3303.3 991.4,3303.3 995.6,3305.8 999.7,3305.3 1003.9,3306.1 1008.0,3307.4 1012.1,3307.9 1016.3,3308.7 1020.4,3309.0 1024.6,3308.9 1028.7,3310.1 1032.9,3310.3 1037.0,3310.3 1041.2,3311.5 1045.3,3312.6 1049.4,3312.1 1053.6,3312.6 1057.7,3313.0 1061.9,3314.2 1066.0,3313.1 1070.2,3314.8 1074.3,3314.9 1078.5,3315.1 1082.6,3315.0 1086.8,3315.7 1090.9,3317.1 1095.0,3316.5 1099.2,3316.4 1103.3,3317.3 1107.5,3316.5 1111.6,3317.9 1115.8,3317.5 1119.9,3319.0 1124.1,3319.1 1128.2,3318.4 1132.3,3318.5 1136.5,3318.3 1140.6,3319.0 1144.8,3319.2 1148.9,3318.3 1153.1,3318.4 1157.2,3319.6 1161.4,3319.2 1165.5,3319.8 1169.7,3319.9 1173.8,3320.1 1177.9,3320.1 1182.1,3320.7 1186.2,3321.4 1190.4,3321.7 1194.5,3320.9 1198.7,3321.3 1202.8,3321.6 1207.0,3321.0 1211.1,3321.3 1215.3,3322.2 1219.4,3322.8 1223.5,3323.2 1227.7,3322.8 1231.8,3323.8 1236.0,3323.7 1240.1,3323.8 1244.3,3324.8 1248.4,3323.9 1252.6,3323.9 1256.7,3326.3 1260.8,3325.6 1265.0,3326.4 1269.1,3326.3 1273.3,3326.3 1277.4,3326.4 1281.6,3326.4 1285.7,3327.7 1289.9,3327.5 1294.0,3328.2 1298.2,3328.7 1302.3,3328.9 1306.4,3329.3 1310.6,3330.3 1314.7,3330.0 1318.9,3330.3 1323.0,3330.4 1327.2,3331.4 1331.3,3331.6 1335.5,3331.0 1339.6,3331.7 1343.8,3331.7 1347.9,3331.9 1352.0,3331.9 1356.2,3333.4 1360.3,3333.0 1364.5,3332.0 1368.6,3333.7 1372.8,3334.3 1376.9,3333.8 1381.1,3333.9 1385.2,3334.3 1389.3,3334.9 1393.5,3334.4 1397.6,3335.1 1401.8,3334.4 1405.9,3335.9 1410.1,3335.1 1414.2,3335.6 1418.4,3336.2 1422.5,3336.7 1426.7,3336.1 1430.8,3336.4 1434.9,3337.6 1439.1,3336.8 1443.2,3336.9 1447.4,3337.3 1451.5,3338.0 1455.7,3338.2 1459.8,3338.5 1464.0,3338.4 1468.1,3338.2 1472.2,3338.8 1476.4,3339.1 1480.5,3338.4 1484.7,3338.8 1488.8,3339.3 1493.0,3340.2 1497.1,3339.4 1501.3,3339.7 1505.4,3339.9 1509.6,3340.2 1513.7,3340.4 1517.8,3339.8 1522.0,3339.1 1526.1,3340.8 1530.3,3339.6 1534.4,3340.8 1538.6,3340.9 1542.7,3341.2 1546.9,3340.5 1551.0,3341.2 1555.2,3341.5 1559.3,3341.6 1563.4,3341.9 1567.6,3341.0 1571.7,3341.3 1575.9,3341.5 1580.0,3341.7 1584.2,3342.3 1588.3,3342.3 1592.5,3342.1 1596.6,3342.9 1600.7,3342.5 1604.9,3341.8 1609.0,3343.0 1613.2,3341.9 1617.3,3342.0 1621.5,3342.5 1625.6,3342.5 1629.8,3342.8 1633.9,3342.9 1638.1,3342.6 1642.2,3342.7 1646.3,3343.4 1650.5,3343.3 1654.6,3343.2 1658.8,3343.0 1662.9,3343.4 1667.1,3343.0 1671.2,3343.0 1675.4,3344.0 1679.5,3344.0 1683.7,3343.6 1687.8,3344.5 1691.9,3343.8 1696.1,3344.2 1700.2,3344.2 1704.4,3344.0 1708.5,3344.1 1712.7,3344.7 1716.8,3344.5 1721.0,3343.3 1725.1,3344.4 1729.2,3343.3 1733.4,3343.8 1737.5,3344.5 1741.7,3343.8 1745.8,3344.9 1750.0,3344.2 1754.1,3344.6 1758.3,3344.5 1762.4,3344.7 1766.6,3344.9" stroke="#858585" stroke-width="6.9" fill="none" stroke-linejoin="round" stroke-linecap="butt"/>
<path d="M282.6,3343.5 286.7,3343.0 290.9,3341.8 295.0,3340.9 299.2,3339.4 303.3,3337.6 307.5,3335.6 311.6,3334.0 315.8,3332.7 319.9,3331.6 324.1,3330.0 328.2,3328.9 332.3,3326.6 336.5,3325.1 340.6,3322.4 344.8,3321.5 348.9,3319.3 353.1,3317.3 357.2,3316.2 361.4,3313.2 365.5,3310.6 369.6,3307.7 373.8,3303.2 377.9,3298.4 382.1,3295.1 386.2,3288.0 390.4,3281.6 394.5,3275.1 398.7,3268.0 402.8,3261.5 407.0,3254.7 411.1,3248.8 415.2,3241.5 419.4,3235.2 423.5,3228.5 427.7,3219.4 431.8,3214.0 436.0,3206.4 440.1,3201.8 444.3,3193.7 448.4,3188.9 452.5,3183.2 456.7,3180.8 460.8,3175.4 465.0,3172.2 469.1,3169.3 473.3,3170.1 477.4,3168.6 481.6,3168.1 485.7,3166.1 489.9,3166.2 494.0,3165.5 498.1,3163.9 502.3,3166.2 506.4,3166.1 510.6,3164.5 514.7,3166.8 518.9,3170.0 523.0,3173.5 527.2,3175.0 531.3,3178.2 535.5,3181.6 539.6,3181.8 543.7,3183.3 547.9,3183.6 552.0,3184.0 556.2,3181.6 560.3,3182.2 564.5,3181.5 568.6,3178.9 572.8,3176.9 576.9,3175.2 581.0,3174.0 585.2,3172.1 589.3,3170.3 593.5,3173.0 597.6,3170.9 601.8,3167.7 605.9,3170.8 610.1,3168.6 614.2,3170.0 618.4,3169.3 622.5,3169.5 626.6,3171.8 630.8,3171.8 634.9,3170.9 639.1,3174.8 643.2,3175.5 647.4,3177.1 651.5,3178.6 655.7,3181.2 659.8,3184.0 664.0,3185.5 668.1,3186.8 672.2,3188.7 676.4,3190.1 680.5,3194.6 684.7,3193.5 688.8,3196.5 693.0,3199.2 697.1,3201.3 701.3,3203.2 705.4,3204.4 709.5,3208.0 713.7,3209.1 717.8,3208.1 722.0,3210.5 726.1,3211.7 730.3,3215.5 734.4,3215.6 738.6,3216.3 742.7,3218.9 746.9,3219.7 751.0,3222.4 755.1,3224.6 759.3,3224.8 763.4,3227.5 767.6,3229.3 771.7,3230.1 775.9,3232.7 780.0,3233.5 784.2,3236.2 788.3,3237.2 792.4,3238.7 796.6,3241.7 800.7,3243.1 804.9,3243.8 809.0,3243.4 813.2,3247.6 817.3,3248.7 821.5,3251.0 825.6,3252.4 829.8,3253.9 833.9,3255.5 838.0,3258.5 842.2,3260.2 846.3,3261.7 850.5,3261.7 854.6,3263.9 858.8,3265.9 862.9,3266.1 867.1,3269.8 871.2,3270.0 875.4,3273.0 879.5,3273.6 883.6,3275.8 887.8,3276.1 891.9,3277.3 896.1,3280.1 900.2,3281.5 904.4,3283.3 908.5,3285.7 912.7,3288.2 916.8,3290.6 920.9,3291.7 925.1,3293.5 929.2,3296.5 933.4,3298.1 937.5,3300.0 941.7,3302.4 945.8,3305.1 950.0,3306.3 954.1,3306.4 958.3,3309.8 962.4,3309.0 966.5,3310.7 970.7,3311.1 974.8,3312.8 979.0,3313.3 983.1,3314.4 987.3,3314.6 991.4,3315.0 995.6,3316.3 999.7,3315.2 1003.9,3316.1 1008.0,3316.5 1012.1,3317.7 1016.3,3318.0 1020.4,3318.2 1024.6,3319.5 1028.7,3319.8 1032.9,3319.6 1037.0,3319.6 1041.2,3321.8 1045.3,3321.2 1049.4,3321.1 1053.6,3321.8 1057.7,3322.2 1061.9,3322.1 1066.0,3323.1 1070.2,3323.1 1074.3,3323.1 1078.5,3324.2 1082.6,3323.7 1086.8,3324.8 1090.9,3324.5 1095.0,3324.6 1099.2,3325.6 1103.3,3325.1 1107.5,3325.8 1111.6,3326.5 1115.8,3325.9 1119.9,3326.0 1124.1,3326.9 1128.2,3327.3 1132.3,3325.9 1136.5,3327.5 1140.6,3328.1 1144.8,3327.5 1148.9,3328.5 1153.1,3328.1 1157.2,3328.2 1161.4,3328.6 1165.5,3329.3 1169.7,3329.0 1173.8,3329.2 1177.9,3329.7 1182.1,3330.3 1186.2,3329.1 1190.4,3330.8 1194.5,3331.2 1198.7,3330.2 1202.8,3330.9 1207.0,3331.3 1211.1,3331.4 1215.3,3332.4 1219.4,3331.8 1223.5,3331.7 1227.7,3331.9 1231.8,3332.5 1236.0,3332.1 1240.1,3332.4 1244.3,3332.6 1248.4,3333.9 1252.6,3333.6 1256.7,3332.9 1260.8,3333.9 1265.0,3332.5 1269.1,3334.0 1273.3,3334.5 1277.4,3334.5 1281.6,3334.8 1285.7,3334.8 1289.9,3334.6 1294.0,3335.0 1298.2,3335.2 1302.3,3334.8 1306.4,3335.7 1310.6,3335.4 1314.7,3336.3 1318.9,3337.3 1323.0,3337.4 1327.2,3337.8 1331.3,3336.5 1335.5,3336.7 1339.6,3337.4 1343.8,3336.8 1347.9,3337.7 1352.0,3337.3 1356.2,3337.9 1360.3,3337.7 1364.5,3338.8 1368.6,3338.7 1372.8,3338.7 1376.9,3337.9 1381.1,3339.2 1385.2,3338.5 1389.3,3338.2 1393.5,3339.1 1397.6,3339.6 1401.8,3338.5 1405.9,3339.7 1410.1,3339.3 1414.2,3339.5 1418.4,3339.9 1422.5,3339.6 1426.7,3339.6 1430.8,3340.5 1434.9,3338.9 1439.1,3340.6 1443.2,3339.7 1447.4,3340.9 1451.5,3339.9 1455.7,3341.2 1459.8,3339.8 1464.0,3341.5 1468.1,3340.9 1472.2,3340.8 1476.4,3340.8 1480.5,3341.5 1484.7,3341.1 1488.8,3341.5 1493.0,3341.4 1497.1,3340.9 1501.3,3342.2 1505.4,3341.5 1509.6,3341.7 1513.7,3341.8 1517.8,3341.8 1522.0,3342.6 1526.1,3342.1 1530.3,3341.8 1534.4,3342.1 1538.6,3341.9 1542.7,3341.6 1546.9,3342.7 1551.0,3341.8 1555.2,3342.9 1559.3,3342.4 1563.4,3342.8 1567.6,3342.5 1571.7,3342.4 1575.9,3343.7 1580.0,3342.5 1584.2,3342.3 1588.3,3343.0 1592.5,3343.5 1596.6,3342.3 1600.7,3342.7 1604.9,3343.4 1609.0,3343.4 1613.2,3343.3 1617.3,3342.9 1621.5,3343.3 1625.6,3342.9 1629.8,3343.5 1633.9,3343.3 1638.1,3343.5 1642.2,3343.3 1646.3,3343.8 1650.5,3343.5 1654.6,3343.2 1658.8,3344.2 1662.9,3343.7 1667.1,3343.5 1671.2,3343.6 1675.4,3344.4 1679.5,3343.8 1683.7,3344.0 1687.8,3343.5 1691.9,3343.7 1696.1,3343.7 1700.2,3343.6 1704.4,3343.5 1708.5,3343.9 1712.7,3343.5 1716.8,3344.4 1721.0,3344.4 1725.1,3343.7 1729.2,3344.3 1733.4,3343.9 1737.5,3344.3 1741.7,3344.4 1745.8,3343.5 1750.0,3343.2 1754.1,3344.5 1758.3,3344.5 1762.4,3344.3 1766.6,3344.1" stroke="#F2F000" stroke-width="9.4" fill="none" stroke-linejoin="round" stroke-linecap="butt"/>
<path d="M282.6,3345.3 286.7,3344.0 290.9,3345.3 295.0,3343.2 299.2,3343.7 303.3,3342.9 307.5,3342.5 311.6,3341.1 315.8,3340.5 319.9,3340.3 324.1,3338.7 328.2,3338.4 332.3,3336.8 336.5,3336.5 340.6,3335.5 344.8,3334.2 348.9,3333.1 353.1,3330.8 357.2,3329.6 361.4,3328.0 365.5,3327.0 369.6,3324.1 373.8,3322.4 377.9,3321.0 382.1,3318.2 386.2,3316.2 390.4,3312.6 394.5,3311.0 398.7,3307.5 402.8,3304.6 407.0,3301.5 411.1,3296.4 415.2,3294.6 419.4,3289.6 423.5,3286.3 427.7,3280.6 431.8,3275.9 436.0,3268.3 440.1,3261.0 444.3,3255.0 448.4,3246.6 452.5,3241.9 456.7,3236.2 460.8,3230.4 465.0,3227.4 469.1,3225.0 473.3,3223.7 477.4,3220.9 481.6,3219.3 485.7,3220.4 489.9,3220.3 494.0,3219.9 498.1,3220.3 502.3,3222.6 506.4,3221.1 510.6,3220.4 514.7,3216.5 518.9,3215.0 523.0,3217.3 527.2,3220.9 531.3,3226.7 535.5,3230.0 539.6,3233.8 543.7,3235.8 547.9,3236.8 552.0,3236.6 556.2,3238.5 560.3,3238.0 564.5,3236.6 568.6,3236.3 572.8,3235.1 576.9,3232.1 581.0,3229.2 585.2,3226.9 589.3,3225.9 593.5,3225.6 597.6,3224.7 601.8,3225.0 605.9,3224.2 610.1,3224.0 614.2,3222.6 618.4,3223.2 622.5,3223.2 626.6,3224.2 630.8,3225.1 634.9,3228.2 639.1,3226.2 643.2,3228.7 647.4,3229.3 651.5,3231.7 655.7,3233.4 659.8,3236.5 664.0,3237.0 668.1,3238.4 672.2,3240.9 676.4,3242.2 680.5,3241.5 684.7,3246.1 688.8,3245.0 693.0,3248.1 697.1,3249.0 701.3,3250.2 705.4,3250.3 709.5,3250.5 713.7,3251.6 717.8,3254.3 722.0,3254.0 726.1,3255.8 730.3,3256.3 734.4,3257.2 738.6,3259.4 742.7,3259.0 746.9,3260.6 751.0,3261.6 755.1,3263.0 759.3,3263.9 763.4,3264.3 767.6,3265.8 771.7,3267.0 775.9,3269.9 780.0,3270.2 784.2,3270.8 788.3,3272.2 792.4,3273.1 796.6,3275.7 800.7,3275.7 804.9,3276.4 809.0,3281.1 813.2,3279.1 817.3,3280.5 821.5,3281.5 825.6,3283.7 829.8,3284.2 833.9,3285.4 838.0,3287.8 842.2,3289.3 846.3,3289.8 850.5,3290.2 854.6,3292.4 858.8,3293.0 862.9,3294.8 867.1,3296.0 871.2,3296.3 875.4,3298.8 879.5,3299.5 883.6,3300.7 887.8,3301.4 891.9,3303.8 896.1,3304.1 900.2,3305.8 904.4,3306.4 908.5,3307.5 912.7,3308.7 916.8,3309.7 920.9,3311.5 925.1,3313.6 929.2,3314.6 933.4,3314.7 937.5,3315.9 941.7,3318.3 945.8,3319.0 950.0,3319.6 954.1,3320.3 958.3,3321.0 962.4,3320.5 966.5,3321.9 970.7,3323.8 974.8,3324.0 979.0,3323.5 983.1,3324.4 987.3,3324.7 991.4,3324.5 995.6,3324.7 999.7,3325.2 1003.9,3325.9 1008.0,3326.7 1012.1,3326.5 1016.3,3326.6 1020.4,3326.8 1024.6,3327.8 1028.7,3328.2 1032.9,3327.8 1037.0,3327.8 1041.2,3328.3 1045.3,3328.7 1049.4,3329.2 1053.6,3329.3 1057.7,3328.7 1061.9,3329.2 1066.0,3329.3 1070.2,3330.0 1074.3,3329.4 1078.5,3329.3 1082.6,3330.5 1086.8,3330.5 1090.9,3330.7 1095.0,3331.1 1099.2,3331.0 1103.3,3331.7 1107.5,3331.4 1111.6,3331.6 1115.8,3332.6 1119.9,3332.4 1124.1,3333.3 1128.2,3333.2 1132.3,3332.9 1136.5,3333.2 1140.6,3333.2 1144.8,3333.9 1148.9,3334.4 1153.1,3334.3 1157.2,3334.6 1161.4,3334.3 1165.5,3335.5 1169.7,3335.4 1173.8,3335.7 1177.9,3334.9 1182.1,3335.6 1186.2,3335.5 1190.4,3336.7 1194.5,3336.1 1198.7,3337.4 1202.8,3336.7 1207.0,3336.4 1211.1,3337.4 1215.3,3337.8 1219.4,3337.1 1223.5,3337.0 1227.7,3337.4 1231.8,3337.1 1236.0,3337.3 1240.1,3336.9 1244.3,3337.8 1248.4,3337.6 1252.6,3338.4 1256.7,3338.6 1260.8,3339.1 1265.0,3338.9 1269.1,3338.8 1273.3,3339.6 1277.4,3338.8 1281.6,3338.3 1285.7,3338.8 1289.9,3339.3 1294.0,3339.9 1298.2,3340.2 1302.3,3339.4 1306.4,3340.5 1310.6,3340.3 1314.7,3340.5 1318.9,3339.9 1323.0,3340.3 1327.2,3339.6 1331.3,3340.6 1335.5,3340.5 1339.6,3341.1 1343.8,3341.4 1347.9,3340.5 1352.0,3341.4 1356.2,3341.6 1360.3,3341.0 1364.5,3342.1 1368.6,3341.0 1372.8,3340.8 1376.9,3341.5 1381.1,3342.3 1385.2,3341.8 1389.3,3340.9 1393.5,3341.5 1397.6,3342.3 1401.8,3341.5 1405.9,3341.8 1410.1,3341.5 1414.2,3342.9 1418.4,3342.8 1422.5,3341.6 1426.7,3341.4 1430.8,3342.5 1434.9,3342.5 1439.1,3342.4 1443.2,3342.5 1447.4,3342.3 1451.5,3342.9 1455.7,3342.9 1459.8,3343.2 1464.0,3343.0 1468.1,3342.5 1472.2,3342.6 1476.4,3342.7 1480.5,3342.9 1484.7,3342.6 1488.8,3342.6 1493.0,3342.8 1497.1,3342.8 1501.3,3343.0 1505.4,3343.7 1509.6,3343.7 1513.7,3342.9 1517.8,3343.2 1522.0,3343.1 1526.1,3342.8 1530.3,3343.5 1534.4,3342.4 1538.6,3343.4 1542.7,3343.2 1546.9,3342.8 1551.0,3343.5 1555.2,3343.8 1559.3,3343.5 1563.4,3343.6 1567.6,3343.1 1571.7,3343.7 1575.9,3344.1 1580.0,3343.0 1584.2,3344.5 1588.3,3342.8 1592.5,3344.0 1596.6,3343.4 1600.7,3343.8 1604.9,3343.7 1609.0,3343.7 1613.2,3344.2 1617.3,3343.6 1621.5,3343.9 1625.6,3344.3 1629.8,3343.8 1633.9,3342.9 1638.1,3343.6 1642.2,3343.7 1646.3,3343.5 1650.5,3344.2 1654.6,3344.0 1658.8,3343.6 1662.9,3343.8 1667.1,3343.4 1671.2,3343.8 1675.4,3344.9 1679.5,3343.3 1683.7,3344.9 1687.8,3344.1 1691.9,3344.0 1696.1,3343.9 1700.2,3343.6 1704.4,3344.4 1708.5,3344.0 1712.7,3343.9 1716.8,3344.2 1721.0,3344.9 1725.1,3344.0 1729.2,3344.2 1733.4,3344.8 1737.5,3343.8 1741.7,3344.6 1745.8,3345.3 1750.0,3344.3 1754.1,3343.6 1758.3,3344.7 1762.4,3344.1 1766.6,3344.8" stroke="#DC0F55" stroke-width="6.9" fill="none" stroke-linejoin="round" stroke-linecap="butt"/>
<path d="M318.1,3345.6 322.3,3344.3 326.4,3342.5 330.6,3342.1 334.7,3340.4 338.9,3339.0 343.0,3337.6 347.1,3336.2 351.3,3334.6 355.4,3333.0 359.6,3330.7 363.7,3329.6 367.9,3328.0 372.0,3327.0 376.2,3325.1 380.3,3322.0 384.5,3320.1 388.6,3317.7 392.7,3315.7 396.9,3313.1 401.0,3310.4 405.2,3306.6 409.3,3303.5 413.5,3301.3 417.6,3295.4 421.8,3292.8 425.9,3287.8 430.0,3283.1 434.2,3277.1 438.3,3270.0 442.5,3263.2 446.6,3255.8 450.8,3251.3 454.9,3247.4 459.1,3244.8 463.2,3241.8 467.4,3239.9 471.5,3239.5 475.6,3238.2 479.8,3236.0 483.9,3236.4 488.1,3237.1 492.2,3235.7 496.4,3236.3 500.5,3233.0 504.7,3234.5 508.8,3232.0 513.0,3234.2 517.1,3232.9 521.2,3234.6 525.4,3239.5 529.5,3243.4 533.7,3247.0 537.8,3250.6 542.0,3254.7 546.1,3257.3 550.3,3256.2 554.4,3255.7 558.5,3255.7 562.7,3253.6 566.8,3252.1 571.0,3252.3 575.1,3250.1 579.3,3250.8 583.4,3247.8 587.6,3249.0 591.7,3247.8 595.9,3245.6 600.0,3245.3 604.1,3242.2 608.3,3244.4 612.4,3244.1 616.6,3243.5 620.7,3245.8 624.9,3243.1 629.0,3246.5 633.2,3246.8 637.3,3247.8 641.4,3247.3 645.6,3250.2 649.7,3250.7 653.9,3253.1 658.0,3255.8 662.2,3256.4 666.3,3256.9 670.5,3261.3 674.6,3262.8 678.8,3263.8 682.9,3264.8 687.0,3265.8 691.2,3267.7 695.3,3269.2 699.5,3269.5 703.6,3271.9 707.8,3271.8 711.9,3273.5 716.1,3273.9 720.2,3275.1 724.4,3277.0 728.5,3277.8 732.6,3279.3 736.8,3280.3 740.9,3280.6 745.1,3282.1 749.2,3283.0 753.4,3284.0 757.5,3285.3 761.7,3285.8 765.8,3286.8 769.9,3288.0 774.1,3287.9 778.2,3290.0 782.4,3291.0 786.5,3289.9 790.7,3292.6 794.8,3292.4 799.0,3293.2 803.1,3295.0 807.3,3294.8 811.4,3296.3 815.5,3296.6 819.7,3297.0 823.8,3299.7 828.0,3298.9 832.1,3299.5 836.3,3300.8 840.4,3302.9 844.6,3301.6 848.7,3304.0 852.9,3303.7 857.0,3305.0 861.1,3305.6 865.3,3307.1 869.4,3306.8 873.6,3309.2 877.7,3308.7 881.9,3309.1 886.0,3310.9 890.2,3312.3 894.3,3313.3 898.4,3314.5 902.6,3314.9 906.7,3316.9 910.9,3317.7 915.0,3317.8 919.2,3319.2 923.3,3320.1 927.5,3321.3 931.6,3322.6 935.8,3323.2 939.9,3324.3 944.0,3325.6 948.2,3326.4 952.3,3327.4 956.5,3325.7 960.6,3327.4 964.8,3327.9 968.9,3328.4 973.1,3328.7 977.2,3329.1 981.3,3330.3 985.5,3331.0 989.6,3330.2 993.8,3331.4 997.9,3330.4 1002.1,3332.1 1006.2,3332.9 1010.4,3332.9 1014.5,3332.4 1018.7,3332.7 1022.8,3333.2 1026.9,3334.3 1031.1,3334.1 1035.2,3334.3 1039.4,3334.7 1043.5,3334.2 1047.7,3333.9 1051.8,3334.9 1056.0,3335.1 1060.1,3335.7 1064.3,3335.8 1068.4,3337.5 1072.5,3336.0 1076.7,3336.1 1080.8,3337.2 1085.0,3336.8 1089.1,3337.8 1093.3,3338.0 1097.4,3337.7 1101.6,3337.8 1105.7,3336.9 1109.8,3338.4 1114.0,3338.0 1118.1,3338.4 1122.3,3338.7 1126.4,3338.4 1130.6,3338.1 1134.7,3338.4 1138.9,3338.4 1143.0,3339.4 1147.2,3339.1 1151.3,3339.2 1155.4,3339.1 1159.6,3339.4 1163.7,3339.1 1167.9,3339.8 1172.0,3339.3 1176.2,3340.1 1180.3,3339.9 1184.5,3340.3 1188.6,3340.7 1192.7,3340.5 1196.9,3340.5 1201.0,3340.9 1205.2,3340.4 1209.3,3340.7 1213.5,3341.0 1217.6,3340.2 1221.8,3340.6 1225.9,3341.9 1230.1,3341.2 1234.2,3341.2 1238.3,3341.4 1242.5,3341.2 1246.6,3341.1 1250.8,3341.2 1254.9,3341.9 1259.1,3342.2 1263.2,3341.3 1267.4,3341.5 1271.5,3341.8 1275.7,3341.2 1279.8,3341.8 1283.9,3342.3 1288.1,3342.3 1292.2,3343.0 1296.4,3341.8 1300.5,3342.0 1304.7,3342.4 1308.8,3342.2 1313.0,3342.6 1317.1,3342.2 1321.2,3341.5 1325.4,3341.9 1329.5,3341.6 1333.7,3342.4 1337.8,3342.9 1342.0,3342.7 1346.1,3342.2 1350.3,3341.6 1354.4,3342.5 1358.6,3342.2 1362.7,3342.3 1366.8,3342.6 1371.0,3343.7 1375.1,3342.5 1379.3,3342.4 1383.4,3342.1 1387.6,3343.2 1391.7,3342.4 1395.9,3342.0 1400.0,3342.6 1404.2,3343.0 1408.3,3342.4 1412.4,3342.9 1416.6,3342.2 1420.7,3343.5 1424.9,3342.5 1429.0,3343.0 1433.2,3342.6 1437.3,3342.8 1441.5,3343.2 1445.6,3342.9 1449.7,3343.1 1453.9,3343.7 1458.0,3344.3 1462.2,3343.6 1466.3,3343.3 1470.5,3343.4 1474.6,3342.7 1478.8,3342.8 1482.9,3342.9 1487.1,3343.5 1491.2,3343.3 1495.3,3343.2 1499.5,3344.5 1503.6,3343.4 1507.8,3343.8 1511.9,3343.7 1516.1,3343.5 1520.2,3343.8 1524.4,3342.9 1528.5,3343.6 1532.6,3344.0 1536.8,3344.3 1540.9,3343.5 1545.1,3344.3 1549.2,3344.0 1553.4,3343.5 1557.5,3343.0 1561.7,3343.9 1565.8,3343.5 1570.0,3344.3 1574.1,3344.0 1578.2,3343.2 1582.4,3343.6 1586.5,3344.0 1590.7,3344.4 1594.8,3342.8 1599.0,3344.1 1603.1,3343.4 1607.3,3343.8 1611.4,3343.6 1615.6,3344.4 1619.7,3344.1 1623.8,3344.8 1628.0,3344.6 1632.1,3343.7 1636.3,3343.1 1640.4,3344.0 1644.6,3343.9 1648.7,3344.2 1652.9,3343.8 1657.0,3343.9 1661.1,3344.5 1665.3,3344.3 1669.4,3343.9 1673.6,3344.4 1677.7,3343.8 1681.9,3344.2 1686.0,3344.6 1690.2,3344.0 1694.3,3343.7 1698.5,3344.3 1702.6,3344.1 1706.7,3345.0 1710.9,3344.2 1715.0,3344.0 1719.2,3343.8 1723.3,3343.3 1727.5,3343.9 1731.6,3344.3 1735.8,3343.9 1739.9,3344.5 1744.1,3344.7 1748.2,3344.6 1752.3,3344.0 1756.5,3344.0 1760.6,3344.7 1764.8,3344.1" stroke="#DC6A1E" stroke-width="6.9" fill="none" stroke-linejoin="round" stroke-linecap="butt"/>
<path d="M418.8,3345.2 422.9,3343.7 427.1,3342.3 431.2,3338.3 435.4,3336.0 439.5,3330.6 443.7,3324.7 447.8,3317.7 452.0,3313.3 456.1,3308.3 460.2,3305.2 464.4,3303.6 468.5,3303.8 472.7,3303.3 476.8,3302.5 481.0,3302.6 485.1,3302.3 489.3,3299.0 493.4,3300.6 497.6,3300.2 501.7,3300.4 505.8,3299.0 510.0,3300.4 514.1,3299.4 518.3,3300.4 522.4,3299.0 526.6,3301.0 530.7,3302.6 534.9,3306.0 539.0,3309.6 543.2,3312.0 547.3,3314.2 551.4,3314.5 555.6,3313.7 559.7,3312.7 563.9,3310.8 568.0,3310.0 572.2,3309.0 576.3,3307.9 580.5,3308.6 584.6,3308.1 588.7,3306.8 592.9,3306.8 597.0,3306.9 601.2,3306.9 605.3,3307.8 609.5,3306.4 613.6,3306.0 617.8,3306.7 621.9,3307.0 626.1,3307.6 630.2,3306.3 634.3,3307.2 638.5,3307.9 642.6,3308.4 646.8,3307.7 650.9,3309.6 655.1,3310.9 659.2,3310.9 663.4,3310.8 667.5,3310.7 671.6,3311.2 675.8,3312.4 679.9,3312.4 684.1,3312.9 688.2,3312.8 692.4,3314.8 696.5,3315.6 700.7,3315.5 704.8,3316.5 709.0,3316.7 713.1,3318.3 717.2,3317.7 721.4,3318.3 725.5,3318.1 729.7,3319.3 733.8,3319.6 738.0,3320.1 742.1,3321.8 746.3,3321.9 750.4,3322.5 754.6,3322.5 758.7,3322.2 762.8,3323.3 767.0,3324.3 771.1,3323.7 775.3,3324.5 779.4,3325.1 783.6,3326.1 787.7,3326.0 791.9,3326.9 796.0,3327.2 800.1,3327.2 804.3,3327.8 808.4,3327.5 812.6,3328.3 816.7,3329.3 820.9,3329.6 825.0,3329.9 829.2,3330.2 833.3,3331.0 837.5,3331.2 841.6,3331.3 845.7,3330.8 849.9,3333.5 854.0,3333.4 858.2,3332.2 862.3,3333.7 866.5,3333.2 870.6,3334.2 874.8,3333.6 878.9,3334.3 883.1,3334.4 887.2,3335.3 891.3,3335.8 895.5,3335.7 899.6,3334.9 903.8,3336.3 907.9,3336.1 912.1,3337.6 916.2,3337.0 920.4,3336.5 924.5,3337.7 928.6,3337.4 932.8,3338.5 936.9,3338.0 941.1,3339.0 945.2,3338.3 949.4,3339.8 953.5,3339.4 957.7,3340.0 961.8,3339.7 966.0,3340.9 970.1,3340.0 974.2,3340.6 978.4,3340.3 982.5,3341.0 986.7,3340.0 990.8,3340.0 995.0,3341.0 999.1,3340.6 1003.3,3340.5 1007.4,3341.3 1011.5,3341.1 1015.7,3340.2 1019.8,3341.4 1024.0,3341.2 1028.1,3341.0 1032.3,3341.9 1036.4,3341.9 1040.6,3342.3 1044.7,3341.6 1048.9,3341.5 1053.0,3343.0 1057.1,3342.4 1061.3,3342.4 1065.4,3341.8 1069.6,3342.0 1073.7,3342.6 1077.9,3341.1 1082.0,3341.9 1086.2,3342.6 1090.3,3341.7 1094.5,3342.8 1098.6,3342.5 1102.7,3341.9 1106.9,3342.7 1111.0,3342.7 1115.2,3342.7 1119.3,3343.1 1123.5,3342.2 1127.6,3342.7 1131.8,3343.1 1135.9,3343.1 1140.0,3343.1 1144.2,3344.2 1148.3,3342.9 1152.5,3342.8 1156.6,3343.4 1160.8,3343.0 1164.9,3343.5 1169.1,3343.1 1173.2,3343.9 1177.4,3342.9 1181.5,3343.1 1185.6,3343.6 1189.8,3343.3 1193.9,3343.6 1198.1,3343.6 1202.2,3343.7 1206.4,3342.8 1210.5,3343.7 1214.7,3343.4 1218.8,3343.5 1223.0,3343.0 1227.1,3343.6 1231.2,3343.8 1235.4,3343.6 1239.5,3343.7 1243.7,3343.5 1247.8,3343.4 1252.0,3343.7 1256.1,3343.5 1260.3,3343.5 1264.4,3343.7 1268.5,3344.0 1272.7,3344.3 1276.8,3344.1 1281.0,3343.6 1285.1,3343.3 1289.3,3343.8 1293.4,3343.2 1297.6,3343.3 1301.7,3342.9 1305.9,3344.2 1310.0,3344.2 1314.1,3343.3 1318.3,3343.8 1322.4,3343.9 1326.6,3344.4 1330.7,3344.3 1334.9,3343.4 1339.0,3343.9 1343.2,3343.2 1347.3,3343.8 1351.4,3343.8 1355.6,3343.7 1359.7,3343.4 1363.9,3343.7 1368.0,3344.7 1372.2,3343.6 1376.3,3343.9 1380.5,3344.3 1384.6,3344.2 1388.8,3343.8 1392.9,3344.5 1397.0,3344.5 1401.2,3344.0 1405.3,3344.1 1409.5,3343.9 1413.6,3344.2 1417.8,3344.1 1421.9,3344.4 1426.1,3343.3 1430.2,3344.4 1434.4,3344.0 1438.5,3344.6 1442.6,3344.5 1446.8,3344.0 1450.9,3344.0 1455.1,3343.9 1459.2,3343.7 1463.4,3344.0 1467.5,3344.4 1471.7,3344.0 1475.8,3343.6 1479.9,3344.1 1484.1,3343.7 1488.2,3344.1 1492.4,3344.4 1496.5,3344.5 1500.7,3344.6 1504.8,3343.8 1509.0,3343.1 1513.1,3344.1 1517.3,3344.1 1521.4,3344.4 1525.5,3344.4 1529.7,3344.0 1533.8,3344.2 1538.0,3344.5 1542.1,3343.9 1546.3,3343.3 1550.4,3344.3 1554.6,3344.3 1558.7,3344.0 1562.8,3344.7 1567.0,3344.2 1571.1,3343.9 1575.3,3344.3 1579.4,3344.9 1583.6,3343.8 1587.7,3344.6 1591.9,3343.7 1596.0,3344.5 1600.2,3344.1 1604.3,3344.1 1608.4,3344.5 1612.6,3345.2 1616.7,3343.6 1620.9,3344.2 1625.0,3343.9 1629.2,3344.7 1633.3,3344.3 1637.5,3343.9 1641.6,3344.6 1645.8,3344.5 1649.9,3344.2 1654.0,3344.6 1658.2,3344.4 1662.3,3344.7 1666.5,3343.9 1670.6,3344.5 1674.8,3344.7 1678.9,3344.0 1683.1,3345.7 1687.2,3344.9 1691.3,3344.4 1695.5,3344.1 1699.6,3344.2 1703.8,3344.3 1707.9,3344.5 1712.1,3343.8 1716.2,3343.9 1720.4,3344.8 1724.5,3343.8 1728.7,3345.1 1732.8,3344.3 1736.9,3343.8 1741.1,3344.0 1745.2,3345.0 1749.4,3344.4 1753.5,3343.9 1757.7,3344.8 1761.8,3344.5 1766.0,3344.1" stroke="#C8A418" stroke-width="6.2" fill="none" stroke-linejoin="round" stroke-linecap="butt"/>
<path d="M424.7,3345.0 428.9,3343.4 433.0,3341.8 437.2,3339.1 441.3,3334.4 445.4,3327.3 449.6,3319.3 453.7,3310.9 457.9,3307.9 462.0,3307.8 466.2,3306.4 470.3,3306.1 474.5,3305.1 478.6,3305.1 482.8,3305.7 486.9,3305.1 491.0,3303.3 495.2,3303.9 499.3,3303.1 503.5,3302.6 507.6,3304.7 511.8,3303.7 515.9,3305.8 520.1,3304.3 524.2,3305.1 528.3,3306.9 532.5,3310.4 536.6,3315.4 540.8,3318.2 544.9,3322.3 549.1,3323.2 553.2,3323.0 557.4,3321.7 561.5,3319.8 565.7,3319.8 569.8,3317.3 573.9,3316.6 578.1,3316.6 582.2,3315.5 586.4,3315.3 590.5,3314.5 594.7,3316.0 598.8,3316.4 603.0,3314.4 607.1,3315.8 611.2,3316.3 615.4,3316.2 619.5,3315.7 623.7,3314.6 627.8,3314.2 632.0,3315.0 636.1,3316.3 640.3,3317.3 644.4,3317.7 648.6,3317.2 652.7,3318.0 656.8,3317.9 661.0,3317.5 665.1,3318.7 669.3,3320.3 673.4,3320.5 677.6,3320.5 681.7,3320.9 685.9,3322.9 690.0,3322.1 694.2,3322.1 698.3,3321.9 702.4,3322.9 706.6,3324.1 710.7,3324.0 714.9,3325.1 719.0,3325.0 723.2,3327.4 727.3,3326.0 731.5,3327.3 735.6,3326.7 739.7,3327.8 743.9,3328.5 748.0,3328.5 752.2,3327.8 756.3,3330.0 760.5,3329.9 764.6,3329.4 768.8,3330.0 772.9,3331.0 777.1,3330.6 781.2,3331.7 785.3,3331.0 789.5,3332.1 793.6,3332.8 797.8,3332.5 801.9,3333.1 806.1,3333.6 810.2,3334.5 814.4,3334.6 818.5,3334.4 822.6,3334.7 826.8,3334.7 830.9,3335.0 835.1,3335.2 839.2,3335.4 843.4,3336.3 847.5,3336.0 851.7,3335.9 855.8,3336.2 860.0,3336.7 864.1,3337.2 868.2,3336.9 872.4,3336.9 876.5,3337.7 880.7,3338.3 884.8,3337.6 889.0,3338.1 893.1,3337.6 897.3,3339.8 901.4,3338.4 905.6,3338.5 909.7,3339.3 913.8,3339.2 918.0,3339.9 922.1,3339.4 926.3,3340.0 930.4,3340.2 934.6,3340.5 938.7,3341.2 942.9,3340.5 947.0,3340.3 951.1,3341.0 955.3,3340.6 959.4,3341.4 963.6,3341.3 967.7,3341.3 971.9,3340.7 976.0,3340.8 980.2,3341.3 984.3,3341.6 988.5,3340.8 992.6,3341.5 996.7,3341.9 1000.9,3341.6 1005.0,3342.4 1009.2,3342.2 1013.3,3342.8 1017.5,3341.9 1021.6,3342.4 1025.8,3341.2 1029.9,3342.0 1034.1,3342.9 1038.2,3342.3 1042.3,3342.4 1046.5,3342.1 1050.6,3343.4 1054.8,3343.3 1058.9,3342.8 1063.1,3343.0 1067.2,3342.9 1071.4,3342.4 1075.5,3343.2 1079.6,3342.9 1083.8,3342.8 1087.9,3343.6 1092.1,3343.2 1096.2,3342.8 1100.4,3343.5 1104.5,3343.3 1108.7,3343.5 1112.8,3343.4 1117.0,3343.6 1121.1,3343.6 1125.2,3343.2 1129.4,3344.4 1133.5,3343.7 1137.7,3342.6 1141.8,3344.0 1146.0,3343.1 1150.1,3343.8 1154.3,3344.3 1158.4,3343.6 1162.5,3343.7 1166.7,3344.2 1170.8,3344.0 1175.0,3344.0 1179.1,3343.7 1183.3,3343.8 1187.4,3343.0 1191.6,3343.6 1195.7,3343.7 1199.9,3344.1 1204.0,3344.0 1208.1,3343.3 1212.3,3343.5 1216.4,3342.9 1220.6,3343.8 1224.7,3344.4 1228.9,3343.9 1233.0,3343.5 1237.2,3343.9 1241.3,3343.8 1245.5,3343.4 1249.6,3343.5 1253.7,3343.8 1257.9,3344.2 1262.0,3343.6 1266.2,3343.6 1270.3,3343.3 1274.5,3343.9 1278.6,3343.5 1282.8,3344.6 1286.9,3344.0 1291.0,3342.7 1295.2,3344.5 1299.3,3344.0 1303.5,3343.9 1307.6,3344.0 1311.8,3343.7 1315.9,3343.6 1320.1,3343.7 1324.2,3343.9 1328.4,3344.1 1332.5,3344.8 1336.6,3344.1 1340.8,3344.3 1344.9,3344.4 1349.1,3343.7 1353.2,3343.6 1357.4,3343.7 1361.5,3344.6 1365.7,3343.5 1369.8,3344.3 1374.0,3343.7 1378.1,3345.1 1382.2,3343.5 1386.4,3343.6 1390.5,3343.9 1394.7,3343.6 1398.8,3344.4 1403.0,3344.5 1407.1,3344.5 1411.3,3344.9 1415.4,3343.7 1419.5,3344.2 1423.7,3344.0 1427.8,3343.8 1432.0,3344.3 1436.1,3345.0 1440.3,3343.8 1444.4,3345.0 1448.6,3344.3 1452.7,3344.0 1456.9,3343.7 1461.0,3344.5 1465.1,3344.2 1469.3,3344.1 1473.4,3343.9 1477.6,3344.1 1481.7,3344.0 1485.9,3344.2 1490.0,3343.5 1494.2,3344.3 1498.3,3344.6 1502.4,3344.5 1506.6,3343.7 1510.7,3344.3 1514.9,3344.3 1519.0,3344.7 1523.2,3344.6 1527.3,3344.6 1531.5,3344.2 1535.6,3344.5 1539.8,3344.2 1543.9,3344.1 1548.0,3343.6 1552.2,3344.4 1556.3,3344.2 1560.5,3343.6 1564.6,3344.8 1568.8,3344.1 1572.9,3344.4 1577.1,3344.4 1581.2,3344.2 1585.4,3344.3 1589.5,3344.6 1593.6,3344.0 1597.8,3343.7 1601.9,3344.7 1606.1,3344.5 1610.2,3344.0 1614.4,3344.7 1618.5,3343.8 1622.7,3344.3 1626.8,3344.4 1630.9,3344.3 1635.1,3344.5 1639.2,3344.1 1643.4,3343.6 1647.5,3344.1 1651.7,3344.5 1655.8,3344.3 1660.0,3344.3 1664.1,3344.2 1668.3,3344.7 1672.4,3344.1 1676.5,3344.4 1680.7,3344.4 1684.8,3343.9 1689.0,3344.6 1693.1,3344.5 1697.3,3344.6 1701.4,3343.8 1705.6,3344.8 1709.7,3344.2 1713.9,3344.3 1718.0,3344.5 1722.1,3344.7 1726.3,3344.1 1730.4,3344.4 1734.6,3344.3 1738.7,3344.3 1742.9,3344.3 1747.0,3343.9 1751.2,3344.3 1755.3,3344.8 1759.4,3343.9 1763.6,3343.7 1767.7,3344.9" stroke="#EDD27A" stroke-width="6.2" fill="none" stroke-linejoin="round" stroke-linecap="butt"/>
<path d="M424.7,3344.9 428.9,3343.1 433.0,3340.2 437.2,3337.2 441.3,3331.8 445.4,3325.7 449.6,3318.3 453.7,3312.2 457.9,3311.8 462.0,3309.2 466.2,3308.8 470.3,3306.9 474.5,3306.9 478.6,3306.8 482.8,3307.8 486.9,3306.2 491.0,3307.2 495.2,3306.4 499.3,3306.1 503.5,3307.2 507.6,3306.8 511.8,3305.6 515.9,3307.0 520.1,3305.4 524.2,3308.2 528.3,3311.3 532.5,3317.8 536.6,3321.9 540.8,3327.8 544.9,3330.6 549.1,3331.8 553.2,3332.2 557.4,3330.3 561.5,3329.3 565.7,3328.5 569.8,3327.9 573.9,3326.0 578.1,3323.1 582.2,3321.4 586.4,3322.1 590.5,3320.4 594.7,3320.7 598.8,3321.1 603.0,3321.0 607.1,3321.3 611.2,3321.9 615.4,3322.9 619.5,3322.1 623.7,3322.9 627.8,3323.4 632.0,3323.8 636.1,3323.7 640.3,3323.6 644.4,3324.3 648.6,3323.7 652.7,3324.9 656.8,3326.1 661.0,3326.1 665.1,3324.3 669.3,3326.9 673.4,3327.4 677.6,3327.3 681.7,3328.4 685.9,3328.9 690.0,3328.9 694.2,3329.4 698.3,3329.4 702.4,3331.1 706.6,3329.8 710.7,3331.7 714.9,3331.7 719.0,3332.4 723.2,3332.6 727.3,3333.2 731.5,3333.2 735.6,3333.5 739.7,3335.2 743.9,3334.5 748.0,3335.6 752.2,3335.5 756.3,3335.5 760.5,3335.8 764.6,3335.9 768.8,3336.6 772.9,3336.3 777.1,3336.4 781.2,3337.2 785.3,3337.1 789.5,3337.5 793.6,3337.2 797.8,3337.7 801.9,3338.3 806.1,3338.5 810.2,3337.8 814.4,3338.4 818.5,3338.1 822.6,3339.2 826.8,3338.5 830.9,3338.3 835.1,3338.8 839.2,3338.9 843.4,3340.6 847.5,3339.4 851.7,3340.2 855.8,3339.6 860.0,3340.2 864.1,3340.7 868.2,3340.7 872.4,3340.9 876.5,3340.9 880.7,3340.4 884.8,3340.8 889.0,3340.7 893.1,3340.5 897.3,3341.8 901.4,3340.5 905.6,3340.4 909.7,3340.8 913.8,3341.6 918.0,3341.0 922.1,3341.4 926.3,3341.0 930.4,3341.9 934.6,3341.6 938.7,3341.6 942.9,3342.2 947.0,3341.3 951.1,3342.4 955.3,3342.2 959.4,3341.4 963.6,3341.8 967.7,3342.2 971.9,3341.6 976.0,3341.7 980.2,3342.7 984.3,3343.4 988.5,3342.9 992.6,3342.6 996.7,3342.4 1000.9,3342.0 1005.0,3342.8 1009.2,3342.3 1013.3,3342.6 1017.5,3342.7 1021.6,3343.0 1025.8,3343.0 1029.9,3341.9 1034.1,3342.6 1038.2,3343.3 1042.3,3343.4 1046.5,3343.3 1050.6,3343.4 1054.8,3342.6 1058.9,3343.0 1063.1,3343.1 1067.2,3343.5 1071.4,3343.2 1075.5,3343.0 1079.6,3343.6 1083.8,3343.3 1087.9,3343.6 1092.1,3342.7 1096.2,3343.4 1100.4,3343.6 1104.5,3344.0 1108.7,3343.5 1112.8,3342.9 1117.0,3343.0 1121.1,3344.0 1125.2,3344.0 1129.4,3343.5 1133.5,3343.3 1137.7,3344.1 1141.8,3343.4 1146.0,3343.7 1150.1,3343.1 1154.3,3342.7 1158.4,3343.8 1162.5,3344.5 1166.7,3343.6 1170.8,3343.3 1175.0,3344.3 1179.1,3343.4 1183.3,3343.0 1187.4,3343.6 1191.6,3344.0 1195.7,3343.5 1199.9,3343.9 1204.0,3343.9 1208.1,3343.9 1212.3,3344.5 1216.4,3344.0 1220.6,3344.2 1224.7,3344.5 1228.9,3343.8 1233.0,3344.3 1237.2,3343.8 1241.3,3344.0 1245.5,3344.0 1249.6,3344.4 1253.7,3344.4 1257.9,3343.8 1262.0,3343.7 1266.2,3343.6 1270.3,3343.7 1274.5,3343.8 1278.6,3344.1 1282.8,3343.8 1286.9,3344.9 1291.0,3344.6 1295.2,3345.0 1299.3,3344.4 1303.5,3344.5 1307.6,3344.1 1311.8,3344.7 1315.9,3344.5 1320.1,3344.2 1324.2,3344.4 1328.4,3345.0 1332.5,3344.9 1336.6,3344.3 1340.8,3343.5 1344.9,3343.2 1349.1,3344.3 1353.2,3344.3 1357.4,3344.3 1361.5,3344.5 1365.7,3344.6 1369.8,3344.1 1374.0,3344.2 1378.1,3345.0 1382.2,3345.3 1386.4,3344.5 1390.5,3344.5 1394.7,3344.8 1398.8,3344.6 1403.0,3344.5 1407.1,3344.5 1411.3,3345.1 1415.4,3344.2 1419.5,3344.7 1423.7,3344.1 1427.8,3344.8 1432.0,3344.7 1436.1,3344.5 1440.3,3344.7 1444.4,3343.9 1448.6,3344.3 1452.7,3344.4 1456.9,3344.6 1461.0,3344.6 1465.1,3344.4 1469.3,3344.7 1473.4,3344.8 1477.6,3345.6 1481.7,3344.7 1485.9,3344.8 1490.0,3344.8 1494.2,3344.6 1498.3,3344.5 1502.4,3345.0 1506.6,3344.6 1510.7,3344.5 1514.9,3344.7 1519.0,3345.3 1523.2,3344.3 1527.3,3344.6 1531.5,3344.9 1535.6,3345.0 1539.8,3345.4 1543.9,3345.5 1548.0,3344.5 1552.2,3345.1 1556.3,3345.5 1560.5,3345.3 1564.6,3344.5 1568.8,3344.6 1572.9,3344.9 1577.1,3345.2 1581.2,3344.4 1585.4,3345.2 1589.5,3344.6 1593.6,3345.1 1597.8,3345.1 1601.9,3345.0 1606.1,3345.3 1610.2,3344.9 1614.4,3344.9 1618.5,3345.4 1622.7,3344.7 1626.8,3344.6 1630.9,3344.3 1635.1,3345.5 1639.2,3344.6 1643.4,3345.3 1647.5,3344.9 1651.7,3345.1 1655.8,3344.8 1660.0,3344.9 1664.1,3345.3 1668.3,3345.0 1672.4,3344.5 1676.5,3344.8 1680.7,3344.4 1684.8,3345.1 1689.0,3345.2 1693.1,3345.0 1697.3,3345.5 1701.4,3345.5 1705.6,3344.8 1709.7,3345.3 1713.9,3344.8 1718.0,3345.0 1722.1,3344.8 1726.3,3344.9 1730.4,3344.5 1734.6,3344.8 1738.7,3344.4 1742.9,3345.5 1747.0,3344.7 1751.2,3344.9 1755.3,3344.3 1759.4,3344.7 1763.6,3345.1 1767.7,3344.1" stroke="#D07A30" stroke-width="5.6" fill="none" stroke-linejoin="round" stroke-linecap="butt"/>
<path d="M396.3,3345.1 400.4,3344.3 404.6,3344.4 408.7,3342.1 412.9,3340.0 417.0,3337.3 421.2,3335.0 425.3,3330.6 429.5,3327.4 433.6,3321.0 437.7,3313.8 441.9,3310.7 446.0,3306.6 450.2,3304.2 454.3,3299.7 458.5,3297.7 462.6,3296.5 466.8,3294.4 470.9,3294.8 475.1,3292.7 479.2,3290.8 483.3,3290.9 487.5,3290.0 491.6,3291.4 495.8,3288.4 499.9,3287.4 504.1,3290.8 508.2,3288.5 512.4,3289.5 516.5,3288.3 520.6,3288.1 524.8,3290.5 528.9,3292.5 533.1,3294.9 537.2,3296.8 541.4,3301.4 545.5,3304.2 549.7,3304.8 553.8,3302.4 558.0,3303.6 562.1,3299.9 566.2,3298.9 570.4,3297.6 574.5,3295.9 578.7,3293.7 582.8,3293.2 587.0,3292.8 591.1,3292.1 595.3,3292.3 599.4,3292.2 603.6,3291.2 607.7,3290.2 611.8,3291.3 616.0,3290.4 620.1,3289.6 624.3,3287.9 628.4,3290.2 632.6,3290.6 636.7,3291.0 640.9,3289.2 645.0,3290.4 649.1,3289.3 653.3,3291.6 657.4,3292.4 661.6,3292.0 665.7,3293.9 669.9,3295.1 674.0,3296.0 678.2,3295.3 682.3,3297.1 686.5,3298.9 690.6,3298.7 694.7,3299.3 698.9,3300.2 703.0,3301.8 707.2,3301.5 711.3,3300.8 715.5,3303.6 719.6,3306.0 723.8,3304.7 727.9,3306.1 732.0,3305.9 736.2,3306.1 740.3,3306.1 744.5,3307.9 748.6,3308.1 752.8,3309.5 756.9,3309.6 761.1,3310.7 765.2,3309.5 769.4,3312.2 773.5,3313.3 777.6,3314.1 781.8,3315.8 785.9,3315.7 790.1,3317.1 794.2,3316.2 798.4,3318.8 802.5,3319.5 806.7,3319.1 810.8,3318.9 815.0,3320.4 819.1,3321.6 823.2,3323.3 827.4,3322.1 831.5,3323.7 835.7,3324.3 839.8,3324.9 844.0,3324.7 848.1,3326.1 852.3,3325.5 856.4,3325.8 860.5,3327.5 864.7,3327.7 868.8,3327.5 873.0,3330.2 877.1,3330.5 881.3,3331.0 885.4,3330.7 889.6,3331.5 893.7,3331.6 897.9,3333.0 902.0,3333.4 906.1,3334.0 910.3,3335.4 914.4,3334.9 918.6,3335.6 922.7,3335.5 926.9,3337.7 931.0,3338.0 935.2,3336.8 939.3,3337.3 943.5,3339.7 947.6,3340.2 951.7,3339.9 955.9,3340.5 960.0,3339.3 964.2,3340.1 968.3,3340.6 972.5,3340.2 976.6,3339.9 980.8,3340.4 984.9,3340.2 989.0,3341.6 993.2,3340.6 997.3,3340.5 1001.5,3340.0 1005.6,3341.8 1009.8,3341.0 1013.9,3341.5 1018.1,3341.2 1022.2,3341.5 1026.4,3341.4 1030.5,3341.2 1034.6,3341.8 1038.8,3341.2 1042.9,3341.8 1047.1,3341.9 1051.2,3342.2 1055.4,3341.4 1059.5,3343.0 1063.7,3342.1 1067.8,3341.5 1071.9,3341.3 1076.1,3342.1 1080.2,3342.1 1084.4,3342.5 1088.5,3341.5 1092.7,3342.2 1096.8,3342.5 1101.0,3342.8 1105.1,3341.5 1109.3,3342.1 1113.4,3342.0 1117.5,3342.4 1121.7,3342.3 1125.8,3342.5 1130.0,3342.1 1134.1,3342.7 1138.3,3341.8 1142.4,3342.6 1146.6,3343.6 1150.7,3342.1 1154.9,3343.5 1159.0,3343.3 1163.1,3342.4 1167.3,3342.9 1171.4,3343.0 1175.6,3342.2 1179.7,3341.7 1183.9,3342.6 1188.0,3342.1 1192.2,3343.0 1196.3,3342.0 1200.4,3343.7 1204.6,3343.9 1208.7,3342.4 1212.9,3341.8 1217.0,3343.0 1221.2,3342.6 1225.3,3342.8 1229.5,3342.1 1233.6,3342.2 1237.8,3343.1 1241.9,3342.2 1246.0,3341.9 1250.2,3343.1 1254.3,3343.2 1258.5,3342.8 1262.6,3342.4 1266.8,3343.7 1270.9,3342.8 1275.1,3343.3 1279.2,3342.3 1283.4,3342.3 1287.5,3343.1 1291.6,3343.7 1295.8,3342.5 1299.9,3342.7 1304.1,3342.8 1308.2,3343.7 1312.4,3343.0 1316.5,3343.2 1320.7,3343.5 1324.8,3343.4 1328.9,3343.8 1333.1,3342.4 1337.2,3343.2 1341.4,3343.3 1345.5,3342.5 1349.7,3343.2 1353.8,3343.2 1358.0,3342.9 1362.1,3342.8 1366.3,3343.7 1370.4,3343.3 1374.5,3343.1 1378.7,3343.3 1382.8,3342.9 1387.0,3343.3 1391.1,3343.4 1395.3,3342.8 1399.4,3343.1 1403.6,3343.1 1407.7,3343.3 1411.8,3343.0 1416.0,3343.2 1420.1,3343.0 1424.3,3342.8 1428.4,3342.9 1432.6,3342.5 1436.7,3343.5 1440.9,3343.4 1445.0,3342.8 1449.2,3342.8 1453.3,3342.8 1457.4,3342.7 1461.6,3342.7 1465.7,3343.5 1469.9,3343.1 1474.0,3343.6 1478.2,3343.5 1482.3,3343.4 1486.5,3342.6 1490.6,3344.1 1494.8,3343.1 1498.9,3342.2 1503.0,3343.1 1507.2,3343.1 1511.3,3343.5 1515.5,3342.7 1519.6,3343.3 1523.8,3343.1 1527.9,3343.8 1532.1,3343.1 1536.2,3343.5 1540.3,3343.7 1544.5,3342.9 1548.6,3343.4 1552.8,3343.2 1556.9,3344.0 1561.1,3343.5 1565.2,3342.9 1569.4,3344.1 1573.5,3343.0 1577.7,3343.2 1581.8,3343.3 1585.9,3343.5 1590.1,3342.9 1594.2,3343.1 1598.4,3343.1 1602.5,3343.3 1606.7,3342.9 1610.8,3343.0 1615.0,3342.6 1619.1,3344.1 1623.3,3343.5 1627.4,3343.8 1631.5,3342.9 1635.7,3342.4 1639.8,3342.5 1644.0,3342.7 1648.1,3343.5 1652.3,3343.1 1656.4,3343.0 1660.6,3342.6 1664.7,3344.0 1668.8,3342.6 1673.0,3343.1 1677.1,3343.1 1681.3,3343.2 1685.4,3343.2 1689.6,3343.4 1693.7,3344.5 1697.9,3343.8 1702.0,3343.4 1706.2,3342.8 1710.3,3344.0 1714.4,3344.0 1718.6,3343.0 1722.7,3343.5 1726.9,3342.2 1731.0,3342.8 1735.2,3343.8 1739.3,3342.4 1743.5,3343.6 1747.6,3343.8 1751.7,3342.6 1755.9,3343.2 1760.0,3344.0 1764.2,3344.4" stroke="#3E6A26" stroke-width="6.9" fill="none" stroke-linejoin="round" stroke-linecap="butt"/>
<text x="191.4" y="3363.2" font-size="58.5" textLength="33.7" lengthAdjust="spacingAndGlyphs" fill="#111">0</text>
<text x="161.9" y="3252.1" font-size="58.5" textLength="63.1" lengthAdjust="spacingAndGlyphs" fill="#111">20</text>
<text x="163.5" y="3141.0" font-size="58.5" textLength="61.4" lengthAdjust="spacingAndGlyphs" fill="#111">40</text>
<text x="161.9" y="3029.9" font-size="58.5" textLength="63.1" lengthAdjust="spacingAndGlyphs" fill="#111">60</text>
<text x="162.4" y="2918.7" font-size="58.5" textLength="62.6" lengthAdjust="spacingAndGlyphs" fill="#111">80</text>
<text x="131.1" y="2807.6" font-size="58.5" textLength="93.9" lengthAdjust="spacingAndGlyphs" fill="#111">100</text>
<text x="131.1" y="2696.5" font-size="58.5" textLength="93.9" lengthAdjust="spacingAndGlyphs" fill="#111">120</text>
<text x="131.1" y="2585.4" font-size="58.5" textLength="93.9" lengthAdjust="spacingAndGlyphs" fill="#111">140</text>
<text x="235.3" y="3449.8" font-size="58.5" textLength="94.6" lengthAdjust="spacingAndGlyphs" fill="#111">390</text>
<text x="532.3" y="3449.8" font-size="58.5" textLength="93.7" lengthAdjust="spacingAndGlyphs" fill="#111">440</text>
<text x="828.4" y="3449.8" font-size="58.5" textLength="93.7" lengthAdjust="spacingAndGlyphs" fill="#111">490</text>
<text x="1123.5" y="3449.8" font-size="58.5" textLength="94.7" lengthAdjust="spacingAndGlyphs" fill="#111">540</text>
<text x="1419.6" y="3449.8" font-size="58.5" textLength="94.7" lengthAdjust="spacingAndGlyphs" fill="#111">590</text>
<text x="1715.0" y="3449.8" font-size="58.5" textLength="95.3" lengthAdjust="spacingAndGlyphs" fill="#111">640</text>
<text x="816.7" y="3507.4" font-size="57.6" textLength="417.2" lengthAdjust="spacingAndGlyphs" fill="#111">Wavelength/nm</text>
<text x="0" y="0" transform="translate(95.7,3240.0) rotate(-90)" font-size="57" textLength="592.8" lengthAdjust="spacingAndGlyphs" fill="#111">Fluorescence Intensity</text>
<text x="1308.2" y="2703.2" font-size="59" textLength="196.5" lengthAdjust="spacingAndGlyphs" fill="#111">pH 2.00</text>
<text x="1293.9" y="3080.7" font-size="59" textLength="227.9" lengthAdjust="spacingAndGlyphs" fill="#111">pH 10.00</text>
<line x1="1408" y1="2776" x2="1408" y2="2982.7" stroke="#222" stroke-width="3.5"/>
<polygon points="1408,2743 1392.0,2776 1424.0,2776" fill="#000"/>
</g></svg></body></html>
